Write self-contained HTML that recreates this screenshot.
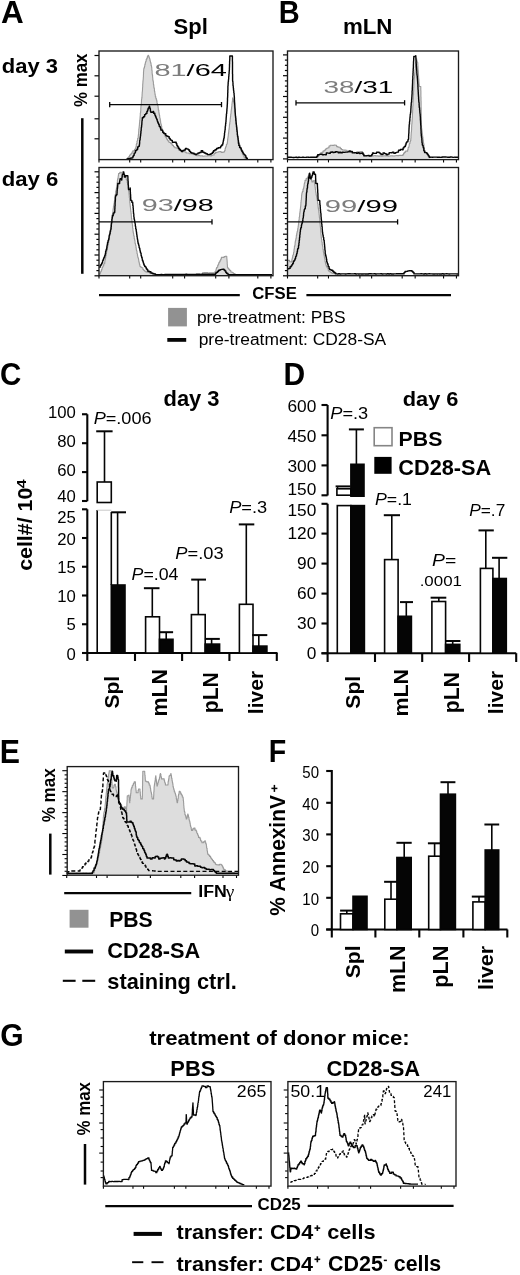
<!DOCTYPE html>
<html><head><meta charset="utf-8"><style>
html,body{margin:0;padding:0;background:#fff;}
body{width:520px;height:1275px;overflow:hidden;}
svg{display:block;filter:grayscale(1);font-family:"Liberation Sans",sans-serif;font-kerning:none;}
</style></head><body>
<svg width="520" height="1275" viewBox="0 0 520 1275">
<rect width="520" height="1275" fill="#fff"/>
<text transform="translate(0.92,22.50) scale(1.0135,1)" font-size="31.03" fill="#000" ><tspan font-weight="bold">A</tspan></text>
<text transform="translate(278.66,22.50) scale(0.9352,1)" font-size="31.03" fill="#000" ><tspan font-weight="bold">B</tspan></text>
<text transform="translate(173.56,34.33) scale(1.0224,1)" font-size="21.56" fill="#000" ><tspan font-weight="bold">Spl</tspan></text>
<text transform="translate(342.93,33.50) scale(0.9902,1)" font-size="22.53" fill="#000" ><tspan font-weight="bold">mLN</tspan></text>
<text transform="translate(1.85,72.90) scale(1.0614,1)" font-size="20.71" fill="#000" ><tspan font-weight="bold">day 3</tspan></text>
<text transform="translate(1.79,186.44) scale(1.0528,1)" font-size="21.03" fill="#000" ><tspan font-weight="bold">day 6</tspan></text>
<text transform="translate(86.72,106.92) rotate(-90) scale(0.8999,1)" font-size="18.71" fill="#000" ><tspan font-weight="bold">% max</tspan></text>
<path d="M126.9,158.8 L126.9,158.5 L127.8,158.5 L127.8,157.6 L128.6,157.6 L128.6,156.7 L129.5,156.7 L129.5,155.3 L130.3,155.3 L130.3,154.3 L131.2,154.3 L131.2,153.5 L132.0,153.5 L132.0,152.0 L132.8,152.0 L132.8,150.9 L133.7,150.9 L133.7,150.8 L134.6,150.8 L134.6,149.3 L135.4,149.3 L135.4,148.5 L135.7,148.5 L135.7,147.5 L136.0,147.5 L136.0,146.4 L136.3,146.4 L136.3,144.3 L136.6,144.3 L136.6,143.4 L137.0,143.4 L137.0,141.0 L137.3,141.0 L137.3,140.8 L137.6,140.8 L137.6,138.4 L137.9,138.4 L137.9,138.0 L138.2,138.0 L138.2,136.2 L138.3,136.2 L138.3,134.9 L138.5,134.9 L138.5,134.2 L138.6,134.2 L138.6,132.5 L138.7,132.5 L138.7,130.9 L138.8,130.9 L138.8,129.1 L139.0,129.1 L139.0,127.7 L139.1,127.7 L139.1,127.4 L139.2,127.4 L139.2,125.7 L139.4,125.7 L139.4,123.9 L139.5,123.9 L139.5,122.7 L139.6,122.7 L139.6,121.8 L139.7,121.8 L139.7,120.3 L139.9,120.3 L139.9,119.1 L140.0,119.1 L140.0,117.7 L140.1,117.7 L140.1,116.5 L140.2,116.5 L140.2,115.6 L140.3,115.6 L140.3,113.1 L140.5,113.1 L140.5,113.0 L140.6,113.0 L140.6,111.4 L140.7,111.4 L140.7,110.5 L140.8,110.5 L140.8,108.1 L140.9,108.1 L140.9,106.6 L141.0,106.6 L141.0,105.6 L141.2,105.6 L141.2,104.2 L141.3,104.2 L141.3,103.4 L141.4,103.4 L141.4,101.7 L141.5,101.7 L141.5,100.0 L141.6,100.0 L141.6,99.0 L141.7,99.0 L141.7,98.7 L141.8,98.7 L141.8,97.4 L142.0,97.4 L142.0,95.7 L142.1,95.7 L142.1,93.8 L142.2,93.8 L142.2,92.3 L142.3,92.3 L142.3,91.5 L142.4,91.5 L142.4,90.6 L142.5,90.6 L142.5,88.3 L142.6,88.3 L142.6,87.1 L142.7,87.1 L142.7,86.2 L142.7,86.2 L142.7,84.3 L142.8,84.3 L142.8,83.3 L142.9,83.3 L142.9,81.4 L143.0,81.4 L143.0,80.5 L143.1,80.5 L143.1,79.7 L143.2,79.7 L143.2,78.5 L143.3,78.5 L143.3,77.1 L143.4,77.1 L143.4,75.5 L143.4,75.5 L143.4,74.6 L143.5,74.6 L143.5,72.0 L143.6,72.0 L143.6,70.8 L143.7,70.8 L143.7,69.5 L143.8,69.5 L143.8,68.5 L144.1,68.5 L144.1,67.6 L144.5,67.6 L144.5,66.3 L144.8,66.3 L144.8,64.6 L145.2,64.6 L145.2,63.0 L145.5,63.0 L145.5,61.7 L145.9,61.7 L145.9,61.1 L146.2,61.1 L146.2,59.2 L146.8,59.2 L146.8,58.1 L147.4,58.1 L147.4,56.3 L148.0,56.3 L148.0,55.4 L148.5,55.4 L148.5,56.1 L149.0,56.1 L149.0,57.5 L149.5,57.5 L149.5,58.8 L150.0,58.8 L150.0,60.8 L150.4,60.8 L150.4,62.2 L150.8,62.2 L150.8,63.6 L151.1,63.6 L151.1,65.6 L151.5,65.6 L151.5,66.9 L151.7,66.9 L151.7,67.6 L151.8,67.6 L151.8,69.5 L151.9,69.5 L151.9,70.6 L152.1,70.6 L152.1,73.0 L152.2,73.0 L152.2,74.3 L152.4,74.3 L152.4,75.3 L152.6,75.3 L152.6,77.3 L152.7,77.3 L152.7,77.7 L152.8,77.7 L152.8,79.9 L153.0,79.9 L153.0,80.8 L153.2,80.8 L153.2,81.8 L153.4,81.8 L153.4,84.2 L153.6,84.2 L153.6,84.9 L153.8,84.9 L153.8,86.9 L154.0,86.9 L154.0,87.9 L154.2,87.9 L154.2,88.6 L154.4,88.6 L154.4,90.9 L154.6,90.9 L154.6,91.5 L154.8,91.5 L154.8,93.1 L155.0,93.1 L155.0,94.6 L155.3,94.6 L155.3,96.2 L155.7,96.2 L155.7,97.9 L156.0,97.9 L156.0,98.2 L156.3,98.2 L156.3,99.8 L156.7,99.8 L156.7,100.9 L157.0,100.9 L157.0,103.3 L157.4,103.3 L157.4,104.3 L157.7,104.3 L157.7,105.4 L157.9,105.4 L157.9,106.0 L158.1,106.0 L158.1,107.7 L158.3,107.7 L158.3,109.9 L158.6,109.9 L158.6,110.0 L158.8,110.0 L158.8,112.0 L159.0,112.0 L159.0,113.2 L159.2,113.2 L159.2,114.6 L159.4,114.6 L159.4,115.5 L159.7,115.5 L159.7,117.7 L159.9,117.7 L159.9,118.1 L160.1,118.1 L160.1,119.3 L160.3,119.3 L160.3,120.7 L160.6,120.7 L160.6,122.7 L160.8,122.7 L160.8,123.8 L161.1,123.8 L161.1,124.8 L161.4,124.8 L161.4,126.1 L161.7,126.1 L161.7,128.3 L162.1,128.3 L162.1,129.3 L162.4,129.3 L162.4,130.8 L162.7,130.8 L162.7,131.2 L163.0,131.2 L163.0,133.0 L163.7,133.0 L163.7,133.6 L164.3,133.6 L164.3,134.6 L165.0,134.6 L165.0,136.3 L165.7,136.3 L165.7,137.2 L166.4,137.2 L166.4,138.6 L167.0,138.6 L167.0,139.6 L167.7,139.6 L167.7,140.8 L168.6,140.8 L168.6,142.0 L169.5,142.0 L169.5,142.5 L170.5,142.5 L170.5,143.2 L171.4,143.2 L171.4,143.9 L172.3,143.9 L172.3,145.4 L173.5,145.4 L173.5,146.8 L174.8,146.8 L174.8,147.8 L176.0,147.8 L176.0,147.9 L177.3,147.9 L177.3,148.5 L178.5,148.5 L178.5,150.0 L179.8,150.0 L179.8,150.4 L181.1,150.4 L181.1,150.9 L182.3,150.9 L182.3,151.7 L183.6,151.7 L183.6,151.5 L184.9,151.5 L184.9,152.1 L186.2,152.1 L186.2,153.0 L187.7,153.0 L187.7,153.0 L189.2,153.0 L189.2,153.7 L190.8,153.7 L190.8,153.6 L192.3,153.6 L192.3,154.2 L193.8,154.2 L193.8,154.6 L195.4,154.6 L195.4,155.1 L196.9,155.1 L196.9,155.7 L198.4,155.7 L198.4,155.4 L200.0,155.4 L200.0,156.0 L201.3,156.0 L201.3,155.8 L202.6,155.8 L202.6,156.2 L203.9,156.2 L203.9,156.0 L205.2,156.0 L205.2,156.0 L206.5,156.0 L206.5,156.0 L207.8,156.0 L207.8,155.8 L209.1,155.8 L209.1,155.7 L210.4,155.7 L210.4,156.0 L211.6,156.0 L211.6,155.1 L212.8,155.1 L212.8,155.0 L214.1,155.0 L214.1,153.5 L215.3,153.5 L215.3,152.6 L216.5,152.6 L216.5,152.3 L218.0,152.3 L218.0,151.7 L219.6,151.7 L219.6,151.5 L221.1,151.5 L221.1,152.4 L222.7,152.4 L222.7,152.1 L224.2,152.1 L224.2,151.5 L224.6,151.5 L224.6,150.5 L225.1,150.5 L225.1,148.5 L225.5,148.5 L225.5,147.1 L226.0,147.1 L226.0,146.1 L226.4,146.1 L226.4,144.3 L226.9,144.3 L226.9,143.7 L227.3,143.7 L227.3,142.3 L227.5,142.3 L227.5,141.1 L227.6,141.1 L227.6,139.4 L227.8,139.4 L227.8,138.0 L228.0,138.0 L228.0,137.0 L228.1,137.0 L228.1,136.0 L228.3,136.0 L228.3,134.3 L228.4,134.3 L228.4,133.5 L228.6,133.5 L228.6,132.1 L228.8,132.1 L228.8,130.2 L228.9,130.2 L228.9,129.6 L229.1,129.6 L229.1,128.0 L229.3,128.0 L229.3,126.6 L229.4,126.6 L229.4,124.7 L229.6,124.7 L229.6,123.8 L229.8,123.8 L229.8,122.2 L229.9,122.2 L229.9,121.8 L230.1,121.8 L230.1,120.0 L230.2,120.0 L230.2,118.5 L230.4,118.5 L230.4,117.1 L230.5,117.1 L230.5,116.3 L230.7,116.3 L230.7,114.4 L230.8,114.4 L230.8,113.8 L231.0,113.8 L231.0,112.4 L231.1,112.4 L231.1,110.9 L231.3,110.9 L231.3,109.6 L231.4,109.6 L231.4,108.9 L231.6,108.9 L231.6,106.9 L231.8,106.9 L231.8,106.3 L231.9,106.3 L231.9,104.0 L232.1,104.0 L232.1,102.7 L232.2,102.7 L232.2,101.7 L232.4,101.7 L232.4,100.8 L232.5,100.8 L232.5,98.4 L232.7,98.4 L232.7,97.7 L232.9,97.7 L232.9,99.0 L233.2,99.0 L233.2,100.4 L233.4,100.4 L233.4,101.6 L233.7,101.6 L233.7,102.6 L233.9,102.6 L233.9,103.5 L234.2,103.5 L234.2,105.4 L234.4,105.4 L234.4,107.2 L234.5,107.2 L234.5,107.5 L234.7,107.5 L234.7,108.9 L234.8,108.9 L234.8,110.5 L235.0,110.5 L235.0,112.2 L235.2,112.2 L235.2,113.5 L235.3,113.5 L235.3,115.1 L235.5,115.1 L235.5,116.2 L235.6,116.2 L235.6,117.3 L235.8,117.3 L235.8,119.2 L236.0,119.2 L236.0,120.3 L236.1,120.3 L236.1,122.0 L236.3,122.0 L236.3,123.8 L236.4,123.8 L236.4,124.4 L236.6,124.4 L236.6,125.9 L236.7,125.9 L236.7,127.1 L236.9,127.1 L236.9,128.7 L237.0,128.7 L237.0,129.8 L237.2,129.8 L237.2,131.1 L237.3,131.1 L237.3,131.9 L237.5,131.9 L237.5,134.2 L237.6,134.2 L237.6,135.8 L237.8,135.8 L237.8,137.2 L237.9,137.2 L237.9,138.3 L238.1,138.3 L238.1,139.2 L238.4,139.2 L238.4,140.6 L238.8,140.6 L238.8,142.2 L239.1,142.2 L239.1,142.7 L239.4,142.7 L239.4,144.2 L239.7,144.2 L239.7,145.7 L240.1,145.7 L240.1,147.0 L240.4,147.0 L240.4,148.5 L240.9,148.5 L240.9,149.6 L241.5,149.6 L241.5,151.4 L242.0,151.4 L242.0,153.0 L242.6,153.0 L242.6,153.9 L243.1,153.9 L243.1,155.0 L243.7,155.0 L243.7,156.3 L244.2,156.3 L244.2,157.7 L245.3,157.7 L245.3,158.5 L246.5,158.5 L246.5,159.3 L246.5,158.8" fill="#dddddd" stroke="none" stroke-width="1.5" stroke-linejoin="round"/>
<path d="M126.9,158.5 L127.8,158.5 L127.8,157.6 L128.6,157.6 L128.6,156.7 L129.5,156.7 L129.5,155.3 L130.3,155.3 L130.3,154.3 L131.2,154.3 L131.2,153.5 L132.0,153.5 L132.0,152.0 L132.8,152.0 L132.8,150.9 L133.7,150.9 L133.7,150.8 L134.6,150.8 L134.6,149.3 L135.4,149.3 L135.4,148.5 L135.7,148.5 L135.7,147.5 L136.0,147.5 L136.0,146.4 L136.3,146.4 L136.3,144.3 L136.6,144.3 L136.6,143.4 L137.0,143.4 L137.0,141.0 L137.3,141.0 L137.3,140.8 L137.6,140.8 L137.6,138.4 L137.9,138.4 L137.9,138.0 L138.2,138.0 L138.2,136.2 L138.3,136.2 L138.3,134.9 L138.5,134.9 L138.5,134.2 L138.6,134.2 L138.6,132.5 L138.7,132.5 L138.7,130.9 L138.8,130.9 L138.8,129.1 L139.0,129.1 L139.0,127.7 L139.1,127.7 L139.1,127.4 L139.2,127.4 L139.2,125.7 L139.4,125.7 L139.4,123.9 L139.5,123.9 L139.5,122.7 L139.6,122.7 L139.6,121.8 L139.7,121.8 L139.7,120.3 L139.9,120.3 L139.9,119.1 L140.0,119.1 L140.0,117.7 L140.1,117.7 L140.1,116.5 L140.2,116.5 L140.2,115.6 L140.3,115.6 L140.3,113.1 L140.5,113.1 L140.5,113.0 L140.6,113.0 L140.6,111.4 L140.7,111.4 L140.7,110.5 L140.8,110.5 L140.8,108.1 L140.9,108.1 L140.9,106.6 L141.0,106.6 L141.0,105.6 L141.2,105.6 L141.2,104.2 L141.3,104.2 L141.3,103.4 L141.4,103.4 L141.4,101.7 L141.5,101.7 L141.5,100.0 L141.6,100.0 L141.6,99.0 L141.7,99.0 L141.7,98.7 L141.8,98.7 L141.8,97.4 L142.0,97.4 L142.0,95.7 L142.1,95.7 L142.1,93.8 L142.2,93.8 L142.2,92.3 L142.3,92.3 L142.3,91.5 L142.4,91.5 L142.4,90.6 L142.5,90.6 L142.5,88.3 L142.6,88.3 L142.6,87.1 L142.7,87.1 L142.7,86.2 L142.7,86.2 L142.7,84.3 L142.8,84.3 L142.8,83.3 L142.9,83.3 L142.9,81.4 L143.0,81.4 L143.0,80.5 L143.1,80.5 L143.1,79.7 L143.2,79.7 L143.2,78.5 L143.3,78.5 L143.3,77.1 L143.4,77.1 L143.4,75.5 L143.4,75.5 L143.4,74.6 L143.5,74.6 L143.5,72.0 L143.6,72.0 L143.6,70.8 L143.7,70.8 L143.7,69.5 L143.8,69.5 L143.8,68.5 L144.1,68.5 L144.1,67.6 L144.5,67.6 L144.5,66.3 L144.8,66.3 L144.8,64.6 L145.2,64.6 L145.2,63.0 L145.5,63.0 L145.5,61.7 L145.9,61.7 L145.9,61.1 L146.2,61.1 L146.2,59.2 L146.8,59.2 L146.8,58.1 L147.4,58.1 L147.4,56.3 L148.0,56.3 L148.0,55.4 L148.5,55.4 L148.5,56.1 L149.0,56.1 L149.0,57.5 L149.5,57.5 L149.5,58.8 L150.0,58.8 L150.0,60.8 L150.4,60.8 L150.4,62.2 L150.8,62.2 L150.8,63.6 L151.1,63.6 L151.1,65.6 L151.5,65.6 L151.5,66.9 L151.7,66.9 L151.7,67.6 L151.8,67.6 L151.8,69.5 L151.9,69.5 L151.9,70.6 L152.1,70.6 L152.1,73.0 L152.2,73.0 L152.2,74.3 L152.4,74.3 L152.4,75.3 L152.6,75.3 L152.6,77.3 L152.7,77.3 L152.7,77.7 L152.8,77.7 L152.8,79.9 L153.0,79.9 L153.0,80.8 L153.2,80.8 L153.2,81.8 L153.4,81.8 L153.4,84.2 L153.6,84.2 L153.6,84.9 L153.8,84.9 L153.8,86.9 L154.0,86.9 L154.0,87.9 L154.2,87.9 L154.2,88.6 L154.4,88.6 L154.4,90.9 L154.6,90.9 L154.6,91.5 L154.8,91.5 L154.8,93.1 L155.0,93.1 L155.0,94.6 L155.3,94.6 L155.3,96.2 L155.7,96.2 L155.7,97.9 L156.0,97.9 L156.0,98.2 L156.3,98.2 L156.3,99.8 L156.7,99.8 L156.7,100.9 L157.0,100.9 L157.0,103.3 L157.4,103.3 L157.4,104.3 L157.7,104.3 L157.7,105.4 L157.9,105.4 L157.9,106.0 L158.1,106.0 L158.1,107.7 L158.3,107.7 L158.3,109.9 L158.6,109.9 L158.6,110.0 L158.8,110.0 L158.8,112.0 L159.0,112.0 L159.0,113.2 L159.2,113.2 L159.2,114.6 L159.4,114.6 L159.4,115.5 L159.7,115.5 L159.7,117.7 L159.9,117.7 L159.9,118.1 L160.1,118.1 L160.1,119.3 L160.3,119.3 L160.3,120.7 L160.6,120.7 L160.6,122.7 L160.8,122.7 L160.8,123.8 L161.1,123.8 L161.1,124.8 L161.4,124.8 L161.4,126.1 L161.7,126.1 L161.7,128.3 L162.1,128.3 L162.1,129.3 L162.4,129.3 L162.4,130.8 L162.7,130.8 L162.7,131.2 L163.0,131.2 L163.0,133.0 L163.7,133.0 L163.7,133.6 L164.3,133.6 L164.3,134.6 L165.0,134.6 L165.0,136.3 L165.7,136.3 L165.7,137.2 L166.4,137.2 L166.4,138.6 L167.0,138.6 L167.0,139.6 L167.7,139.6 L167.7,140.8 L168.6,140.8 L168.6,142.0 L169.5,142.0 L169.5,142.5 L170.5,142.5 L170.5,143.2 L171.4,143.2 L171.4,143.9 L172.3,143.9 L172.3,145.4 L173.5,145.4 L173.5,146.8 L174.8,146.8 L174.8,147.8 L176.0,147.8 L176.0,147.9 L177.3,147.9 L177.3,148.5 L178.5,148.5 L178.5,150.0 L179.8,150.0 L179.8,150.4 L181.1,150.4 L181.1,150.9 L182.3,150.9 L182.3,151.7 L183.6,151.7 L183.6,151.5 L184.9,151.5 L184.9,152.1 L186.2,152.1 L186.2,153.0 L187.7,153.0 L187.7,153.0 L189.2,153.0 L189.2,153.7 L190.8,153.7 L190.8,153.6 L192.3,153.6 L192.3,154.2 L193.8,154.2 L193.8,154.6 L195.4,154.6 L195.4,155.1 L196.9,155.1 L196.9,155.7 L198.4,155.7 L198.4,155.4 L200.0,155.4 L200.0,156.0 L201.3,156.0 L201.3,155.8 L202.6,155.8 L202.6,156.2 L203.9,156.2 L203.9,156.0 L205.2,156.0 L205.2,156.0 L206.5,156.0 L206.5,156.0 L207.8,156.0 L207.8,155.8 L209.1,155.8 L209.1,155.7 L210.4,155.7 L210.4,156.0 L211.6,156.0 L211.6,155.1 L212.8,155.1 L212.8,155.0 L214.1,155.0 L214.1,153.5 L215.3,153.5 L215.3,152.6 L216.5,152.6 L216.5,152.3 L218.0,152.3 L218.0,151.7 L219.6,151.7 L219.6,151.5 L221.1,151.5 L221.1,152.4 L222.7,152.4 L222.7,152.1 L224.2,152.1 L224.2,151.5 L224.6,151.5 L224.6,150.5 L225.1,150.5 L225.1,148.5 L225.5,148.5 L225.5,147.1 L226.0,147.1 L226.0,146.1 L226.4,146.1 L226.4,144.3 L226.9,144.3 L226.9,143.7 L227.3,143.7 L227.3,142.3 L227.5,142.3 L227.5,141.1 L227.6,141.1 L227.6,139.4 L227.8,139.4 L227.8,138.0 L228.0,138.0 L228.0,137.0 L228.1,137.0 L228.1,136.0 L228.3,136.0 L228.3,134.3 L228.4,134.3 L228.4,133.5 L228.6,133.5 L228.6,132.1 L228.8,132.1 L228.8,130.2 L228.9,130.2 L228.9,129.6 L229.1,129.6 L229.1,128.0 L229.3,128.0 L229.3,126.6 L229.4,126.6 L229.4,124.7 L229.6,124.7 L229.6,123.8 L229.8,123.8 L229.8,122.2 L229.9,122.2 L229.9,121.8 L230.1,121.8 L230.1,120.0 L230.2,120.0 L230.2,118.5 L230.4,118.5 L230.4,117.1 L230.5,117.1 L230.5,116.3 L230.7,116.3 L230.7,114.4 L230.8,114.4 L230.8,113.8 L231.0,113.8 L231.0,112.4 L231.1,112.4 L231.1,110.9 L231.3,110.9 L231.3,109.6 L231.4,109.6 L231.4,108.9 L231.6,108.9 L231.6,106.9 L231.8,106.9 L231.8,106.3 L231.9,106.3 L231.9,104.0 L232.1,104.0 L232.1,102.7 L232.2,102.7 L232.2,101.7 L232.4,101.7 L232.4,100.8 L232.5,100.8 L232.5,98.4 L232.7,98.4 L232.7,97.7 L232.9,97.7 L232.9,99.0 L233.2,99.0 L233.2,100.4 L233.4,100.4 L233.4,101.6 L233.7,101.6 L233.7,102.6 L233.9,102.6 L233.9,103.5 L234.2,103.5 L234.2,105.4 L234.4,105.4 L234.4,107.2 L234.5,107.2 L234.5,107.5 L234.7,107.5 L234.7,108.9 L234.8,108.9 L234.8,110.5 L235.0,110.5 L235.0,112.2 L235.2,112.2 L235.2,113.5 L235.3,113.5 L235.3,115.1 L235.5,115.1 L235.5,116.2 L235.6,116.2 L235.6,117.3 L235.8,117.3 L235.8,119.2 L236.0,119.2 L236.0,120.3 L236.1,120.3 L236.1,122.0 L236.3,122.0 L236.3,123.8 L236.4,123.8 L236.4,124.4 L236.6,124.4 L236.6,125.9 L236.7,125.9 L236.7,127.1 L236.9,127.1 L236.9,128.7 L237.0,128.7 L237.0,129.8 L237.2,129.8 L237.2,131.1 L237.3,131.1 L237.3,131.9 L237.5,131.9 L237.5,134.2 L237.6,134.2 L237.6,135.8 L237.8,135.8 L237.8,137.2 L237.9,137.2 L237.9,138.3 L238.1,138.3 L238.1,139.2 L238.4,139.2 L238.4,140.6 L238.8,140.6 L238.8,142.2 L239.1,142.2 L239.1,142.7 L239.4,142.7 L239.4,144.2 L239.7,144.2 L239.7,145.7 L240.1,145.7 L240.1,147.0 L240.4,147.0 L240.4,148.5 L240.9,148.5 L240.9,149.6 L241.5,149.6 L241.5,151.4 L242.0,151.4 L242.0,153.0 L242.6,153.0 L242.6,153.9 L243.1,153.9 L243.1,155.0 L243.7,155.0 L243.7,156.3 L244.2,156.3 L244.2,157.7 L245.3,157.7 L245.3,158.5 L246.5,158.5 L246.5,159.3" fill="none" stroke="#9a9a9a" stroke-width="1.1" stroke-linejoin="round"/>
<path d="M126.2,159.3 L127.7,159.3 L127.7,158.8 L129.2,158.8 L129.2,158.5 L130.8,158.5 L130.8,158.0 L132.3,158.0 L132.3,157.7 L132.9,157.7 L132.9,156.2 L133.5,156.2 L133.5,155.3 L134.2,155.3 L134.2,153.1 L134.8,153.1 L134.8,152.9 L135.4,152.9 L135.4,150.8 L136.2,150.8 L136.2,150.3 L136.9,150.3 L136.9,149.3 L137.7,149.3 L137.7,146.9 L138.4,146.9 L138.4,146.4 L139.2,146.4 L139.2,145.4 L139.4,145.4 L139.4,144.3 L139.6,144.3 L139.6,142.4 L139.7,142.4 L139.7,140.6 L139.9,140.6 L139.9,140.0 L140.1,140.0 L140.1,137.9 L140.3,137.9 L140.3,137.1 L140.4,137.1 L140.4,136.0 L140.6,136.0 L140.6,134.3 L140.8,134.3 L140.8,133.0 L140.9,133.0 L140.9,131.2 L141.1,131.2 L141.1,130.5 L141.2,130.5 L141.2,128.8 L141.3,128.8 L141.3,127.5 L141.5,127.5 L141.5,126.7 L141.6,126.7 L141.6,125.2 L141.8,125.2 L141.8,123.4 L141.9,123.4 L141.9,122.0 L142.0,122.0 L142.0,120.7 L142.2,120.7 L142.2,119.6 L142.3,119.6 L142.3,117.7 L143.4,117.7 L143.4,116.8 L144.6,116.8 L144.6,114.6 L145.8,114.6 L145.8,113.4 L146.9,113.4 L146.9,111.5 L147.5,111.5 L147.5,110.0 L148.1,110.0 L148.1,108.2 L148.6,108.2 L148.6,107.7 L149.2,107.7 L149.2,106.2 L149.6,106.2 L149.6,107.7 L150.0,107.7 L150.0,108.8 L150.4,108.8 L150.4,111.2 L150.8,111.2 L150.8,112.3 L153.0,112.3 L153.0,111.5 L153.6,111.5 L153.6,113.3 L154.2,113.3 L154.2,113.3 L154.8,113.3 L154.8,115.1 L155.4,115.1 L155.4,116.2 L155.9,116.2 L155.9,117.6 L156.3,117.6 L156.3,118.6 L156.8,118.6 L156.8,119.5 L157.2,119.5 L157.2,121.1 L157.7,121.1 L157.7,122.3 L158.2,122.3 L158.2,123.5 L158.7,123.5 L158.7,124.4 L159.2,124.4 L159.2,126.2 L159.8,126.2 L159.8,126.8 L160.3,126.8 L160.3,128.0 L160.8,128.0 L160.8,130.0 L161.8,130.0 L161.8,130.3 L162.7,130.3 L162.7,132.3 L163.7,132.3 L163.7,133.3 L164.6,133.3 L164.6,133.8 L165.8,133.8 L165.8,135.6 L166.9,135.6 L166.9,136.2 L168.1,136.2 L168.1,136.8 L169.2,136.8 L169.2,138.5 L170.2,138.5 L170.2,139.9 L171.3,139.9 L171.3,140.4 L172.3,140.4 L172.3,142.3 L173.9,142.3 L173.9,142.3 L175.4,142.3 L175.4,142.3 L176.2,142.3 L176.2,143.8 L176.9,143.8 L176.9,145.7 L177.7,145.7 L177.7,146.9 L178.6,146.9 L178.6,148.5 L179.6,148.5 L179.6,149.7 L180.6,149.7 L180.6,150.6 L181.5,150.6 L181.5,151.5 L182.8,151.5 L182.8,150.4 L184.1,150.4 L184.1,150.0 L185.4,150.0 L185.4,148.5 L186.9,148.5 L186.9,149.1 L188.5,149.1 L188.5,150.0 L189.5,150.0 L189.5,151.4 L190.5,151.4 L190.5,152.5 L191.5,152.5 L191.5,153.0 L192.8,153.0 L192.8,153.2 L194.1,153.2 L194.1,154.0 L195.4,154.0 L195.4,154.6 L196.7,154.6 L196.7,153.9 L198.0,153.9 L198.0,153.0 L199.6,153.0 L199.6,152.5 L201.2,152.5 L201.2,150.8 L202.7,150.8 L202.7,152.3 L204.2,152.3 L204.2,153.0 L205.8,153.0 L205.8,153.8 L207.3,153.8 L207.3,154.6 L208.9,154.6 L208.9,154.5 L210.4,154.5 L210.4,154.0 L211.4,154.0 L211.4,153.4 L212.5,153.4 L212.5,152.3 L213.5,152.3 L213.5,150.8 L215.0,150.8 L215.0,149.7 L216.5,149.7 L216.5,148.5 L218.1,148.5 L218.1,147.7 L219.6,147.7 L219.6,147.7 L220.6,147.7 L220.6,146.1 L221.7,146.1 L221.7,145.0 L222.7,145.0 L222.7,143.8 L223.0,143.8 L223.0,142.1 L223.3,142.1 L223.3,140.6 L223.6,140.6 L223.6,138.9 L223.9,138.9 L223.9,138.0 L224.2,138.0 L224.2,136.2 L224.4,136.2 L224.4,134.9 L224.5,134.9 L224.5,133.1 L224.7,133.1 L224.7,131.9 L224.8,131.9 L224.8,131.3 L225.0,131.3 L225.0,129.7 L225.2,129.7 L225.2,127.4 L225.3,127.4 L225.3,126.2 L225.5,126.2 L225.5,125.5 L225.6,125.5 L225.6,123.7 L225.8,123.7 L225.8,122.3 L225.9,122.3 L225.9,121.7 L226.0,121.7 L226.0,120.1 L226.1,120.1 L226.1,118.4 L226.2,118.4 L226.2,117.3 L226.3,117.3 L226.3,115.9 L226.4,115.9 L226.4,114.0 L226.6,114.0 L226.6,113.5 L226.7,113.5 L226.7,111.9 L226.8,111.9 L226.8,110.7 L226.9,110.7 L226.9,109.2 L227.0,109.2 L227.0,108.2 L227.1,108.2 L227.1,106.9 L227.2,106.9 L227.2,105.2 L227.3,105.2 L227.3,103.8 L227.4,103.8 L227.4,103.0 L227.4,103.0 L227.4,101.5 L227.5,101.5 L227.5,99.4 L227.5,99.4 L227.5,97.9 L227.6,97.9 L227.6,96.6 L227.6,96.6 L227.6,96.6 L227.7,96.6 L227.7,95.1 L227.7,95.1 L227.7,93.0 L227.8,93.0 L227.8,91.8 L227.8,91.8 L227.8,90.4 L227.8,90.4 L227.8,89.9 L227.9,89.9 L227.9,87.4 L227.9,87.4 L227.9,86.2 L228.0,86.2 L228.0,85.4 L228.1,85.4 L228.1,83.8 L228.2,83.8 L228.2,82.0 L228.4,82.0 L228.4,80.6 L228.5,80.6 L228.5,79.8 L228.6,79.8 L228.6,78.8 L228.7,78.8 L228.7,76.8 L228.8,76.8 L228.8,76.2 L228.9,76.2 L228.9,74.3 L229.1,74.3 L229.1,72.2 L229.2,72.2 L229.2,70.9 L229.3,70.9 L229.3,70.0 L229.4,70.0 L229.4,68.3 L229.4,68.3 L229.4,67.5 L229.5,67.5 L229.5,66.2 L229.5,66.2 L229.5,64.3 L229.6,64.3 L229.6,63.5 L229.6,63.5 L229.6,61.2 L229.7,61.2 L229.7,60.1 L229.7,60.1 L229.7,59.4 L229.8,59.4 L229.8,57.8 L229.8,57.8 L229.8,56.0 L232.4,56.0 L232.4,56.0 L232.4,56.0 L232.4,57.0 L232.4,57.0 L232.4,58.6 L232.4,58.6 L232.4,59.6 L232.4,59.6 L232.4,61.6 L232.5,61.6 L232.5,62.1 L232.5,62.1 L232.5,63.6 L232.5,63.6 L232.5,65.8 L232.5,65.8 L232.5,66.4 L232.5,66.4 L232.5,67.5 L232.5,67.5 L232.5,69.7 L232.5,69.7 L232.5,70.9 L232.5,70.9 L232.5,71.3 L232.5,71.3 L232.5,73.2 L232.5,73.2 L232.5,74.0 L232.6,74.0 L232.6,76.1 L232.6,76.1 L232.6,76.6 L232.6,76.6 L232.6,77.8 L232.6,77.8 L232.6,79.9 L232.6,79.9 L232.6,80.8 L232.7,80.8 L232.7,81.6 L232.9,81.6 L232.9,83.1 L233.0,83.1 L233.0,85.6 L233.2,85.6 L233.2,86.7 L233.3,86.7 L233.3,88.3 L233.5,88.3 L233.5,89.8 L233.6,89.8 L233.6,91.0 L233.8,91.0 L233.8,92.7 L233.9,92.7 L233.9,93.3 L234.1,93.3 L234.1,95.0 L234.2,95.0 L234.2,96.2 L234.3,96.2 L234.3,97.3 L234.4,97.3 L234.4,99.1 L234.4,99.1 L234.4,100.2 L234.5,100.2 L234.5,101.7 L234.6,101.7 L234.6,103.2 L234.7,103.2 L234.7,104.7 L234.8,104.7 L234.8,105.2 L234.8,105.2 L234.8,106.5 L234.9,106.5 L234.9,108.3 L235.0,108.3 L235.0,109.2 L235.1,109.2 L235.1,110.1 L235.1,110.1 L235.1,111.7 L235.2,111.7 L235.2,113.2 L235.3,113.2 L235.3,114.6 L235.4,114.6 L235.4,116.3 L235.6,116.3 L235.6,118.0 L235.7,118.0 L235.7,118.3 L235.8,118.3 L235.8,120.6 L236.0,120.6 L236.0,121.9 L236.1,121.9 L236.1,123.4 L236.3,123.4 L236.3,124.7 L236.4,124.7 L236.4,125.4 L236.5,125.4 L236.5,127.0 L236.7,127.0 L236.7,128.0 L236.8,128.0 L236.8,130.0 L237.0,130.0 L237.0,131.6 L237.2,131.6 L237.2,132.6 L237.3,132.6 L237.3,134.8 L237.5,134.8 L237.5,136.2 L237.7,136.2 L237.7,136.4 L237.9,136.4 L237.9,137.9 L238.1,137.9 L238.1,140.2 L238.3,140.2 L238.3,141.4 L238.4,141.4 L238.4,143.2 L238.6,143.2 L238.6,143.6 L238.8,143.6 L238.8,145.4 L239.6,145.4 L239.6,147.5 L240.4,147.5 L240.4,148.0 L241.2,148.0 L241.2,150.0 L241.9,150.0 L241.9,151.3 L242.7,151.3 L242.7,152.6 L243.4,152.6 L243.4,153.9 L244.2,153.9 L244.2,154.6 L245.0,154.6 L245.0,155.6 L245.8,155.6 L245.8,157.2 L246.5,157.2 L246.5,158.2 L247.3,158.2 L247.3,159.3" fill="none" stroke="#050505" stroke-width="1.4" stroke-linejoin="round"/>
<line x1="94.5" y1="55.5" x2="99" y2="55.5" stroke="#050505" stroke-width="1.2" />
<line x1="94.5" y1="75.8" x2="99" y2="75.8" stroke="#050505" stroke-width="1.2" />
<line x1="94.5" y1="96.2" x2="99" y2="96.2" stroke="#050505" stroke-width="1.2" />
<line x1="94.5" y1="118.8" x2="99" y2="118.8" stroke="#050505" stroke-width="1.2" />
<line x1="94.5" y1="138.8" x2="99" y2="138.8" stroke="#050505" stroke-width="1.2" />
<line x1="99.0" y1="159.6" x2="99.0" y2="162.4" stroke="#050505" stroke-width="1.1" />
<line x1="129.7" y1="159.6" x2="129.7" y2="162.4" stroke="#050505" stroke-width="1.1" />
<line x1="140.7" y1="159.6" x2="140.7" y2="162.4" stroke="#050505" stroke-width="1.1" />
<line x1="172.7" y1="159.6" x2="172.7" y2="162.4" stroke="#050505" stroke-width="1.1" />
<line x1="184.6" y1="159.6" x2="184.6" y2="162.4" stroke="#050505" stroke-width="1.1" />
<line x1="215.7" y1="159.6" x2="215.7" y2="162.4" stroke="#050505" stroke-width="1.1" />
<line x1="228.9" y1="159.6" x2="228.9" y2="162.4" stroke="#050505" stroke-width="1.1" />
<line x1="257.8" y1="159.6" x2="257.8" y2="162.4" stroke="#050505" stroke-width="1.1" />
<line x1="270.9" y1="159.6" x2="270.9" y2="162.4" stroke="#050505" stroke-width="1.1" />
<rect x="99" y="51" width="174" height="108.6" fill="none" stroke="#1a1a1a" stroke-width="1.35"/>
<path d="M99.5,274.9 L99.5,274.2 L100.0,274.2 L100.0,273.2 L100.5,273.2 L100.5,271.8 L101.1,271.8 L101.1,270.7 L101.6,270.7 L101.6,269.2 L102.1,269.2 L102.1,267.6 L102.6,267.6 L102.6,266.7 L103.1,266.7 L103.1,265.7 L103.7,265.7 L103.7,263.7 L104.2,263.7 L104.2,263.8 L104.7,263.8 L104.7,261.9 L104.9,261.9 L104.9,260.0 L105.2,260.0 L105.2,259.7 L105.4,259.7 L105.4,258.1 L105.7,258.1 L105.7,256.1 L105.9,256.1 L105.9,255.5 L106.2,255.5 L106.2,253.9 L106.4,253.9 L106.4,252.4 L106.6,252.4 L106.6,251.0 L106.9,251.0 L106.9,250.8 L107.1,250.8 L107.1,249.2 L107.4,249.2 L107.4,247.2 L107.6,247.2 L107.6,246.5 L107.8,246.5 L107.8,245.3 L108.1,245.3 L108.1,243.8 L108.3,243.8 L108.3,242.7 L108.6,242.7 L108.6,241.2 L108.8,241.2 L108.8,239.6 L109.1,239.6 L109.1,238.9 L109.3,238.9 L109.3,237.3 L109.5,237.3 L109.5,235.8 L109.7,235.8 L109.7,233.9 L109.8,233.9 L109.8,233.8 L110.0,233.8 L110.0,232.0 L110.2,232.0 L110.2,230.4 L110.4,230.4 L110.4,228.6 L110.6,228.6 L110.6,228.3 L110.8,228.3 L110.8,227.1 L110.9,227.1 L110.9,225.1 L111.1,225.1 L111.1,223.3 L111.3,223.3 L111.3,222.8 L111.5,222.8 L111.5,220.8 L111.7,220.8 L111.7,219.9 L111.9,219.9 L111.9,218.8 L112.0,218.8 L112.0,217.4 L112.2,217.4 L112.2,215.1 L112.4,215.1 L112.4,214.2 L112.6,214.2 L112.6,212.6 L112.8,212.6 L112.8,211.9 L113.0,211.9 L113.0,209.5 L113.2,209.5 L113.2,208.2 L113.4,208.2 L113.4,206.5 L113.7,206.5 L113.7,205.2 L113.9,205.2 L113.9,203.8 L114.1,203.8 L114.1,203.5 L114.3,203.5 L114.3,201.5 L114.5,201.5 L114.5,200.3 L114.7,200.3 L114.7,198.8 L114.9,198.8 L114.9,197.0 L115.1,197.0 L115.1,196.6 L115.3,196.6 L115.3,194.2 L115.5,194.2 L115.5,193.6 L115.7,193.6 L115.7,191.1 L116.0,191.1 L116.0,190.6 L116.2,190.6 L116.2,189.3 L116.4,189.3 L116.4,187.7 L116.6,187.7 L116.6,186.8 L116.8,186.8 L116.8,185.2 L117.0,185.2 L117.0,183.5 L117.2,183.5 L117.2,182.2 L117.4,182.2 L117.4,180.1 L117.6,180.1 L117.6,178.9 L117.9,178.9 L117.9,178.4 L118.1,178.4 L118.1,176.7 L118.3,176.7 L118.3,175.6 L118.5,175.6 L118.5,173.5 L119.8,173.5 L119.8,172.3 L121.1,172.3 L121.1,172.9 L122.4,172.9 L122.4,171.9 L123.2,171.9 L123.2,173.7 L123.9,173.7 L123.9,174.3 L124.7,174.3 L124.7,176.0 L125.5,176.0 L125.5,176.9 L126.2,176.9 L126.2,179.6 L127.0,179.6 L127.0,180.4 L127.2,180.4 L127.2,182.5 L127.5,182.5 L127.5,183.3 L127.8,183.3 L127.8,184.7 L128.0,184.7 L128.0,185.6 L128.2,185.6 L128.2,187.1 L128.5,187.1 L128.5,189.0 L128.6,189.0 L128.6,190.9 L128.8,190.9 L128.8,191.6 L128.9,191.6 L128.9,192.9 L129.0,192.9 L129.0,194.3 L129.2,194.3 L129.2,195.7 L129.3,195.7 L129.3,197.5 L129.4,197.5 L129.4,197.8 L129.6,197.8 L129.6,199.9 L129.7,199.9 L129.7,201.0 L129.8,201.0 L129.8,202.7 L130.0,202.7 L130.0,203.9 L130.1,203.9 L130.1,205.0 L130.2,205.0 L130.2,206.3 L130.4,206.3 L130.4,207.7 L130.5,207.7 L130.5,208.8 L130.7,208.8 L130.7,210.4 L130.8,210.4 L130.8,211.6 L131.0,211.6 L131.0,213.2 L131.2,213.2 L131.2,214.6 L131.3,214.6 L131.3,216.0 L131.4,216.0 L131.4,218.0 L131.6,218.0 L131.6,218.8 L131.8,218.8 L131.8,220.0 L131.9,220.0 L131.9,221.7 L132.1,221.7 L132.1,223.6 L132.2,223.6 L132.2,223.8 L132.4,223.8 L132.4,225.5 L132.6,225.5 L132.6,227.7 L132.7,227.7 L132.7,228.2 L132.9,228.2 L132.9,230.1 L133.0,230.1 L133.0,231.2 L133.2,231.2 L133.2,232.7 L133.5,232.7 L133.5,233.8 L133.7,233.8 L133.7,235.6 L134.0,235.6 L134.0,236.2 L134.2,236.2 L134.2,238.5 L134.5,238.5 L134.5,239.0 L134.7,239.0 L134.7,240.6 L135.0,240.6 L135.0,242.9 L135.2,242.9 L135.2,243.5 L135.5,243.5 L135.5,245.0 L135.8,245.0 L135.8,245.8 L136.0,245.8 L136.0,247.7 L136.3,247.7 L136.3,249.7 L136.5,249.7 L136.5,250.6 L136.8,250.6 L136.8,251.2 L137.0,251.2 L137.0,253.6 L137.3,253.6 L137.3,254.0 L137.5,254.0 L137.5,255.9 L137.8,255.9 L137.8,257.3 L138.1,257.3 L138.1,258.1 L138.5,258.1 L138.5,259.7 L138.8,259.7 L138.8,261.5 L139.1,261.5 L139.1,262.7 L139.4,262.7 L139.4,264.2 L139.8,264.2 L139.8,265.8 L140.1,265.8 L140.1,266.5 L141.0,266.5 L141.0,267.5 L141.9,267.5 L141.9,267.8 L142.9,267.8 L142.9,269.5 L143.8,269.5 L143.8,270.5 L144.7,270.5 L144.7,271.2 L145.9,271.2 L145.9,271.9 L147.1,271.9 L147.1,272.2 L148.4,272.2 L148.4,272.4 L149.6,272.4 L149.6,273.1 L150.8,273.1 L150.8,273.5 L152.4,273.5 L152.4,273.9 L153.9,273.9 L153.9,274.2 L155.5,274.2 L155.5,274.6 L156.8,274.6 L156.8,274.6 L158.1,274.6 L158.1,274.6 L159.4,274.6 L159.4,274.6 L160.8,274.6 L160.8,274.6 L162.1,274.6 L162.1,274.6 L163.4,274.6 L163.4,274.6 L164.7,274.6 L164.7,274.6 L166.0,274.6 L166.0,274.6 L167.3,274.6 L167.3,274.6 L168.6,274.6 L168.6,274.6 L170.0,274.6 L170.0,274.6 L171.3,274.6 L171.3,274.6 L172.6,274.6 L172.6,274.6 L173.9,274.6 L173.9,274.6 L175.2,274.6 L175.2,274.6 L176.5,274.6 L176.5,274.6 L177.8,274.6 L177.8,274.6 L179.2,274.6 L179.2,274.6 L180.5,274.6 L180.5,274.6 L181.8,274.6 L181.8,274.6 L183.1,274.6 L183.1,274.6 L184.4,274.6 L184.4,274.6 L185.7,274.6 L185.7,274.6 L187.0,274.6 L187.0,274.6 L188.4,274.6 L188.4,274.6 L189.7,274.6 L189.7,274.6 L191.0,274.6 L191.0,274.6 L192.3,274.6 L192.3,274.6 L193.6,274.6 L193.6,274.6 L194.9,274.6 L194.9,274.6 L196.2,274.6 L196.2,274.6 L197.6,274.6 L197.6,274.6 L198.9,274.6 L198.9,274.6 L200.2,274.6 L200.2,274.6 L201.5,274.6 L201.5,274.6 L202.5,274.6 L202.5,272.7 L203.8,272.7 L203.8,272.6 L205.2,272.6 L205.2,272.6 L206.5,272.6 L206.5,272.5 L207.9,272.5 L207.9,273.0 L209.2,273.0 L209.2,272.7 L210.6,272.7 L210.6,272.8 L211.9,272.8 L211.9,272.9 L213.3,272.9 L213.3,272.8 L214.6,272.8 L214.6,272.7 L215.1,272.7 L215.1,271.4 L215.6,271.4 L215.6,270.7 L216.1,270.7 L216.1,268.8 L216.6,268.8 L216.6,267.5 L217.2,267.5 L217.2,267.0 L217.7,267.0 L217.7,265.2 L218.2,265.2 L218.2,264.2 L218.7,264.2 L218.7,262.7 L219.4,262.7 L219.4,261.7 L220.1,261.7 L220.1,260.3 L220.7,260.3 L220.7,259.0 L221.4,259.0 L221.4,257.3 L222.7,257.3 L222.7,257.5 L224.0,257.5 L224.0,256.6 L225.3,256.6 L225.3,256.3 L226.7,256.3 L226.7,256.6 L226.8,256.6 L226.8,258.3 L226.9,258.3 L226.9,259.3 L227.0,259.3 L227.0,260.4 L227.1,260.4 L227.1,261.7 L227.2,261.7 L227.2,264.0 L227.3,264.0 L227.3,264.8 L227.4,264.8 L227.4,266.5 L227.5,266.5 L227.5,268.0 L228.6,268.0 L228.6,269.3 L229.7,269.3 L229.7,270.5 L230.8,270.5 L230.8,272.0 L232.2,272.0 L232.2,272.8 L233.5,272.8 L233.5,273.5 L235.0,273.5 L235.0,274.6 L235.0,274.9" fill="#dddddd" stroke="none" stroke-width="1.5" stroke-linejoin="round"/>
<path d="M99.5,274.2 L100.0,274.2 L100.0,273.2 L100.5,273.2 L100.5,271.8 L101.1,271.8 L101.1,270.7 L101.6,270.7 L101.6,269.2 L102.1,269.2 L102.1,267.6 L102.6,267.6 L102.6,266.7 L103.1,266.7 L103.1,265.7 L103.7,265.7 L103.7,263.7 L104.2,263.7 L104.2,263.8 L104.7,263.8 L104.7,261.9 L104.9,261.9 L104.9,260.0 L105.2,260.0 L105.2,259.7 L105.4,259.7 L105.4,258.1 L105.7,258.1 L105.7,256.1 L105.9,256.1 L105.9,255.5 L106.2,255.5 L106.2,253.9 L106.4,253.9 L106.4,252.4 L106.6,252.4 L106.6,251.0 L106.9,251.0 L106.9,250.8 L107.1,250.8 L107.1,249.2 L107.4,249.2 L107.4,247.2 L107.6,247.2 L107.6,246.5 L107.8,246.5 L107.8,245.3 L108.1,245.3 L108.1,243.8 L108.3,243.8 L108.3,242.7 L108.6,242.7 L108.6,241.2 L108.8,241.2 L108.8,239.6 L109.1,239.6 L109.1,238.9 L109.3,238.9 L109.3,237.3 L109.5,237.3 L109.5,235.8 L109.7,235.8 L109.7,233.9 L109.8,233.9 L109.8,233.8 L110.0,233.8 L110.0,232.0 L110.2,232.0 L110.2,230.4 L110.4,230.4 L110.4,228.6 L110.6,228.6 L110.6,228.3 L110.8,228.3 L110.8,227.1 L110.9,227.1 L110.9,225.1 L111.1,225.1 L111.1,223.3 L111.3,223.3 L111.3,222.8 L111.5,222.8 L111.5,220.8 L111.7,220.8 L111.7,219.9 L111.9,219.9 L111.9,218.8 L112.0,218.8 L112.0,217.4 L112.2,217.4 L112.2,215.1 L112.4,215.1 L112.4,214.2 L112.6,214.2 L112.6,212.6 L112.8,212.6 L112.8,211.9 L113.0,211.9 L113.0,209.5 L113.2,209.5 L113.2,208.2 L113.4,208.2 L113.4,206.5 L113.7,206.5 L113.7,205.2 L113.9,205.2 L113.9,203.8 L114.1,203.8 L114.1,203.5 L114.3,203.5 L114.3,201.5 L114.5,201.5 L114.5,200.3 L114.7,200.3 L114.7,198.8 L114.9,198.8 L114.9,197.0 L115.1,197.0 L115.1,196.6 L115.3,196.6 L115.3,194.2 L115.5,194.2 L115.5,193.6 L115.7,193.6 L115.7,191.1 L116.0,191.1 L116.0,190.6 L116.2,190.6 L116.2,189.3 L116.4,189.3 L116.4,187.7 L116.6,187.7 L116.6,186.8 L116.8,186.8 L116.8,185.2 L117.0,185.2 L117.0,183.5 L117.2,183.5 L117.2,182.2 L117.4,182.2 L117.4,180.1 L117.6,180.1 L117.6,178.9 L117.9,178.9 L117.9,178.4 L118.1,178.4 L118.1,176.7 L118.3,176.7 L118.3,175.6 L118.5,175.6 L118.5,173.5 L119.8,173.5 L119.8,172.3 L121.1,172.3 L121.1,172.9 L122.4,172.9 L122.4,171.9 L123.2,171.9 L123.2,173.7 L123.9,173.7 L123.9,174.3 L124.7,174.3 L124.7,176.0 L125.5,176.0 L125.5,176.9 L126.2,176.9 L126.2,179.6 L127.0,179.6 L127.0,180.4 L127.2,180.4 L127.2,182.5 L127.5,182.5 L127.5,183.3 L127.8,183.3 L127.8,184.7 L128.0,184.7 L128.0,185.6 L128.2,185.6 L128.2,187.1 L128.5,187.1 L128.5,189.0 L128.6,189.0 L128.6,190.9 L128.8,190.9 L128.8,191.6 L128.9,191.6 L128.9,192.9 L129.0,192.9 L129.0,194.3 L129.2,194.3 L129.2,195.7 L129.3,195.7 L129.3,197.5 L129.4,197.5 L129.4,197.8 L129.6,197.8 L129.6,199.9 L129.7,199.9 L129.7,201.0 L129.8,201.0 L129.8,202.7 L130.0,202.7 L130.0,203.9 L130.1,203.9 L130.1,205.0 L130.2,205.0 L130.2,206.3 L130.4,206.3 L130.4,207.7 L130.5,207.7 L130.5,208.8 L130.7,208.8 L130.7,210.4 L130.8,210.4 L130.8,211.6 L131.0,211.6 L131.0,213.2 L131.2,213.2 L131.2,214.6 L131.3,214.6 L131.3,216.0 L131.4,216.0 L131.4,218.0 L131.6,218.0 L131.6,218.8 L131.8,218.8 L131.8,220.0 L131.9,220.0 L131.9,221.7 L132.1,221.7 L132.1,223.6 L132.2,223.6 L132.2,223.8 L132.4,223.8 L132.4,225.5 L132.6,225.5 L132.6,227.7 L132.7,227.7 L132.7,228.2 L132.9,228.2 L132.9,230.1 L133.0,230.1 L133.0,231.2 L133.2,231.2 L133.2,232.7 L133.5,232.7 L133.5,233.8 L133.7,233.8 L133.7,235.6 L134.0,235.6 L134.0,236.2 L134.2,236.2 L134.2,238.5 L134.5,238.5 L134.5,239.0 L134.7,239.0 L134.7,240.6 L135.0,240.6 L135.0,242.9 L135.2,242.9 L135.2,243.5 L135.5,243.5 L135.5,245.0 L135.8,245.0 L135.8,245.8 L136.0,245.8 L136.0,247.7 L136.3,247.7 L136.3,249.7 L136.5,249.7 L136.5,250.6 L136.8,250.6 L136.8,251.2 L137.0,251.2 L137.0,253.6 L137.3,253.6 L137.3,254.0 L137.5,254.0 L137.5,255.9 L137.8,255.9 L137.8,257.3 L138.1,257.3 L138.1,258.1 L138.5,258.1 L138.5,259.7 L138.8,259.7 L138.8,261.5 L139.1,261.5 L139.1,262.7 L139.4,262.7 L139.4,264.2 L139.8,264.2 L139.8,265.8 L140.1,265.8 L140.1,266.5 L141.0,266.5 L141.0,267.5 L141.9,267.5 L141.9,267.8 L142.9,267.8 L142.9,269.5 L143.8,269.5 L143.8,270.5 L144.7,270.5 L144.7,271.2 L145.9,271.2 L145.9,271.9 L147.1,271.9 L147.1,272.2 L148.4,272.2 L148.4,272.4 L149.6,272.4 L149.6,273.1 L150.8,273.1 L150.8,273.5 L152.4,273.5 L152.4,273.9 L153.9,273.9 L153.9,274.2 L155.5,274.2 L155.5,274.6 L156.8,274.6 L156.8,274.6 L158.1,274.6 L158.1,274.6 L159.4,274.6 L159.4,274.6 L160.8,274.6 L160.8,274.6 L162.1,274.6 L162.1,274.6 L163.4,274.6 L163.4,274.6 L164.7,274.6 L164.7,274.6 L166.0,274.6 L166.0,274.6 L167.3,274.6 L167.3,274.6 L168.6,274.6 L168.6,274.6 L170.0,274.6 L170.0,274.6 L171.3,274.6 L171.3,274.6 L172.6,274.6 L172.6,274.6 L173.9,274.6 L173.9,274.6 L175.2,274.6 L175.2,274.6 L176.5,274.6 L176.5,274.6 L177.8,274.6 L177.8,274.6 L179.2,274.6 L179.2,274.6 L180.5,274.6 L180.5,274.6 L181.8,274.6 L181.8,274.6 L183.1,274.6 L183.1,274.6 L184.4,274.6 L184.4,274.6 L185.7,274.6 L185.7,274.6 L187.0,274.6 L187.0,274.6 L188.4,274.6 L188.4,274.6 L189.7,274.6 L189.7,274.6 L191.0,274.6 L191.0,274.6 L192.3,274.6 L192.3,274.6 L193.6,274.6 L193.6,274.6 L194.9,274.6 L194.9,274.6 L196.2,274.6 L196.2,274.6 L197.6,274.6 L197.6,274.6 L198.9,274.6 L198.9,274.6 L200.2,274.6 L200.2,274.6 L201.5,274.6 L201.5,274.6 L202.5,274.6 L202.5,272.7 L203.8,272.7 L203.8,272.6 L205.2,272.6 L205.2,272.6 L206.5,272.6 L206.5,272.5 L207.9,272.5 L207.9,273.0 L209.2,273.0 L209.2,272.7 L210.6,272.7 L210.6,272.8 L211.9,272.8 L211.9,272.9 L213.3,272.9 L213.3,272.8 L214.6,272.8 L214.6,272.7 L215.1,272.7 L215.1,271.4 L215.6,271.4 L215.6,270.7 L216.1,270.7 L216.1,268.8 L216.6,268.8 L216.6,267.5 L217.2,267.5 L217.2,267.0 L217.7,267.0 L217.7,265.2 L218.2,265.2 L218.2,264.2 L218.7,264.2 L218.7,262.7 L219.4,262.7 L219.4,261.7 L220.1,261.7 L220.1,260.3 L220.7,260.3 L220.7,259.0 L221.4,259.0 L221.4,257.3 L222.7,257.3 L222.7,257.5 L224.0,257.5 L224.0,256.6 L225.3,256.6 L225.3,256.3 L226.7,256.3 L226.7,256.6 L226.8,256.6 L226.8,258.3 L226.9,258.3 L226.9,259.3 L227.0,259.3 L227.0,260.4 L227.1,260.4 L227.1,261.7 L227.2,261.7 L227.2,264.0 L227.3,264.0 L227.3,264.8 L227.4,264.8 L227.4,266.5 L227.5,266.5 L227.5,268.0 L228.6,268.0 L228.6,269.3 L229.7,269.3 L229.7,270.5 L230.8,270.5 L230.8,272.0 L232.2,272.0 L232.2,272.8 L233.5,272.8 L233.5,273.5 L235.0,273.5 L235.0,274.6" fill="none" stroke="#9a9a9a" stroke-width="1.1" stroke-linejoin="round"/>
<path d="M99.3,267.3 L100.1,267.3 L100.1,265.7 L100.8,265.7 L100.8,264.8 L101.6,264.8 L101.6,263.5 L102.1,263.5 L102.1,262.4 L102.6,262.4 L102.6,260.6 L103.2,260.6 L103.2,259.3 L103.7,259.3 L103.7,257.9 L104.2,257.9 L104.2,256.9 L104.7,256.9 L104.7,255.8 L105.0,255.8 L105.0,254.9 L105.3,254.9 L105.3,253.6 L105.6,253.6 L105.6,251.5 L105.9,251.5 L105.9,250.6 L106.2,250.6 L106.2,249.4 L106.6,249.4 L106.6,247.9 L106.9,247.9 L106.9,246.0 L107.2,246.0 L107.2,244.7 L107.5,244.7 L107.5,242.7 L107.8,242.7 L107.8,241.9 L108.1,241.9 L108.1,240.4 L108.5,240.4 L108.5,239.7 L108.8,239.7 L108.8,238.3 L109.1,238.3 L109.1,235.8 L109.5,235.8 L109.5,234.5 L109.8,234.5 L109.8,233.7 L110.1,233.7 L110.1,231.7 L110.5,231.7 L110.5,230.3 L110.8,230.3 L110.8,229.6 L111.0,229.6 L111.0,228.7 L111.1,228.7 L111.1,227.1 L111.3,227.1 L111.3,225.0 L111.4,225.0 L111.4,223.7 L111.6,223.7 L111.6,222.7 L111.8,222.7 L111.8,222.0 L111.9,222.0 L111.9,219.2 L112.1,219.2 L112.1,218.9 L112.2,218.9 L112.2,217.4 L112.4,217.4 L112.4,215.8 L113.2,215.8 L113.2,213.7 L113.9,213.7 L113.9,212.4 L114.7,212.4 L114.7,211.2 L114.8,211.2 L114.8,210.0 L114.8,210.0 L114.8,208.7 L114.9,208.7 L114.9,206.5 L115.0,206.5 L115.0,206.0 L115.1,206.0 L115.1,204.3 L115.1,204.3 L115.1,202.4 L115.2,202.4 L115.2,201.5 L115.3,201.5 L115.3,200.2 L115.4,200.2 L115.4,198.7 L115.4,198.7 L115.4,197.2 L115.5,197.2 L115.5,195.8 L116.2,195.8 L116.2,194.7 L117.0,194.7 L117.0,192.7 L117.1,192.7 L117.1,191.0 L117.2,191.0 L117.2,190.1 L117.3,190.1 L117.3,188.5 L117.5,188.5 L117.5,187.6 L117.6,187.6 L117.6,186.5 L117.7,186.5 L117.7,185.0 L117.8,185.0 L117.8,183.5 L119.3,183.5 L119.3,183.5 L119.6,183.5 L119.6,181.4 L119.8,181.4 L119.8,179.9 L120.1,179.9 L120.1,178.8 L121.6,178.8 L121.6,180.0 L121.8,180.0 L121.8,178.3 L122.0,178.3 L122.0,176.9 L122.2,176.9 L122.2,175.2 L122.4,175.2 L122.4,174.2 L123.5,174.2 L123.5,171.9 L123.8,171.9 L123.8,173.7 L124.1,173.7 L124.1,174.8 L124.4,174.8 L124.4,177.0 L125.5,177.0 L125.5,175.8 L127.8,175.8 L127.8,176.5 L127.9,176.5 L127.9,178.0 L127.9,178.0 L127.9,179.0 L128.0,179.0 L128.0,180.8 L128.1,180.8 L128.1,181.5 L128.2,181.5 L128.2,182.8 L128.2,182.8 L128.2,184.7 L128.3,184.7 L128.3,185.2 L128.4,185.2 L128.4,186.4 L128.4,186.4 L128.4,188.4 L128.5,188.4 L128.5,189.6 L130.1,189.6 L130.1,188.0 L130.2,188.0 L130.2,188.8 L130.3,188.8 L130.3,191.1 L130.3,191.1 L130.3,192.1 L130.4,192.1 L130.4,193.9 L130.5,193.9 L130.5,194.4 L130.6,194.4 L130.6,196.5 L130.6,196.5 L130.6,197.0 L130.7,197.0 L130.7,199.4 L130.8,199.4 L130.8,200.4 L131.8,200.4 L131.8,202.2 L132.7,202.2 L132.7,203.5 L132.8,203.5 L132.8,205.4 L132.9,205.4 L132.9,205.8 L133.1,205.8 L133.1,207.7 L133.2,207.7 L133.2,208.5 L133.3,208.5 L133.3,209.7 L133.4,209.7 L133.4,212.1 L133.5,212.1 L133.5,213.5 L133.7,213.5 L133.7,214.2 L133.8,214.2 L133.8,216.5 L133.9,216.5 L133.9,217.3 L134.1,217.3 L134.1,218.9 L134.4,218.9 L134.4,220.1 L134.6,220.1 L134.6,221.6 L134.8,221.6 L134.8,222.8 L135.1,222.8 L135.1,224.1 L135.3,224.1 L135.3,226.0 L135.5,226.0 L135.5,226.8 L135.7,226.8 L135.7,229.0 L136.0,229.0 L136.0,229.3 L136.2,229.3 L136.2,231.2 L136.4,231.2 L136.4,232.3 L136.6,232.3 L136.6,233.9 L136.8,233.9 L136.8,235.3 L137.0,235.3 L137.0,236.7 L137.2,236.7 L137.2,238.2 L137.4,238.2 L137.4,239.2 L137.6,239.2 L137.6,240.3 L137.8,240.3 L137.8,241.9 L138.1,241.9 L138.1,243.5 L138.5,243.5 L138.5,244.8 L138.8,244.8 L138.8,245.7 L139.1,245.7 L139.1,247.6 L139.4,247.6 L139.4,248.3 L139.8,248.3 L139.8,249.9 L140.1,249.9 L140.1,251.2 L140.4,251.2 L140.4,252.8 L140.8,252.8 L140.8,253.3 L141.1,253.3 L141.1,255.5 L141.4,255.5 L141.4,256.4 L141.7,256.4 L141.7,257.4 L142.1,257.4 L142.1,259.1 L142.4,259.1 L142.4,260.4 L142.9,260.4 L142.9,261.7 L143.3,261.7 L143.3,263.1 L143.8,263.1 L143.8,264.5 L144.2,264.5 L144.2,265.5 L144.7,265.5 L144.7,266.5 L145.5,266.5 L145.5,267.1 L146.2,267.1 L146.2,268.8 L147.0,268.8 L147.0,269.7 L147.8,269.7 L147.8,271.2 L149.3,271.2 L149.3,271.7 L150.9,271.7 L150.9,273.0 L152.4,273.0 L152.4,273.5 L153.9,273.5 L153.9,274.0 L155.5,274.0 L155.5,274.6 L156.8,274.6 L156.8,274.6 L158.1,274.6 L158.1,274.6 L159.4,274.6 L159.4,274.6 L160.8,274.6 L160.8,274.5 L162.1,274.5 L162.1,274.6 L163.4,274.6 L163.4,274.6 L164.7,274.6 L164.7,274.5 L166.0,274.5 L166.0,274.5 L167.3,274.5 L167.3,274.5 L168.6,274.5 L168.6,274.5 L169.9,274.5 L169.9,274.5 L171.3,274.5 L171.3,274.5 L172.6,274.5 L172.6,274.5 L173.9,274.5 L173.9,274.5 L175.2,274.5 L175.2,274.4 L176.5,274.4 L176.5,274.5 L177.8,274.5 L177.8,274.4 L179.1,274.4 L179.1,274.5 L180.5,274.5 L180.5,274.5 L181.8,274.5 L181.8,274.5 L183.1,274.5 L183.1,274.4 L184.4,274.4 L184.4,274.4 L185.7,274.4 L185.7,274.3 L187.0,274.3 L187.0,274.4 L188.3,274.4 L188.3,274.4 L189.6,274.4 L189.6,274.4 L191.0,274.4 L191.0,274.4 L192.3,274.4 L192.3,274.4 L193.6,274.4 L193.6,274.4 L194.9,274.4 L194.9,274.4 L196.2,274.4 L196.2,274.3 L197.5,274.3 L197.5,274.3 L198.8,274.3 L198.8,274.3 L200.2,274.3 L200.2,274.4 L201.5,274.4 L201.5,274.3 L202.8,274.3 L202.8,274.3 L204.1,274.3 L204.1,274.3 L205.4,274.3 L205.4,274.2 L206.7,274.2 L206.7,274.2 L208.0,274.2 L208.0,274.3 L209.3,274.3 L209.3,274.2 L210.7,274.2 L210.7,274.3 L212.0,274.3 L212.0,274.2 L213.3,274.2 L213.3,274.2 L214.6,274.2 L214.6,274.2 L215.6,274.2 L215.6,273.0 L216.6,273.0 L216.6,272.2 L217.7,272.2 L217.7,271.2 L218.7,271.2 L218.7,270.2 L220.1,270.2 L220.1,269.6 L221.4,269.6 L221.4,269.4 L222.7,269.4 L222.7,269.3 L224.0,269.3 L224.0,270.0 L224.9,270.0 L224.9,270.9 L225.8,270.9 L225.8,272.5 L226.7,272.5 L226.7,273.5 L228.0,273.5 L228.0,274.6 L229.3,274.6 L229.3,274.6 L230.7,274.6 L230.7,274.6 L232.0,274.6 L232.0,274.6 L233.3,274.6 L233.3,274.6 L234.7,274.6 L234.7,274.6 L236.0,274.6 L236.0,274.6 L237.3,274.6 L237.3,274.6 L238.7,274.6 L238.7,274.6 L240.0,274.6 L240.0,274.6 L241.3,274.6 L241.3,274.6 L242.7,274.6 L242.7,274.6 L244.0,274.6 L244.0,274.6 L245.3,274.6 L245.3,274.6 L246.7,274.6 L246.7,274.6 L248.0,274.6 L248.0,274.6 L249.3,274.6 L249.3,274.6 L250.7,274.6 L250.7,274.6 L252.0,274.6 L252.0,274.6 L253.3,274.6 L253.3,274.6 L254.7,274.6 L254.7,274.6 L256.0,274.6 L256.0,274.6 L257.3,274.6 L257.3,274.6 L258.7,274.6 L258.7,274.6 L260.0,274.6 L260.0,274.6 L261.3,274.6 L261.3,274.6 L262.7,274.6 L262.7,274.6 L264.0,274.6 L264.0,274.6 L265.3,274.6 L265.3,274.6 L266.7,274.6 L266.7,274.6 L268.0,274.6 L268.0,274.6 L269.3,274.6 L269.3,274.6 L270.7,274.6 L270.7,274.6 L272.0,274.6 L272.0,274.6" fill="none" stroke="#050505" stroke-width="1.4" stroke-linejoin="round"/>
<line x1="94.5" y1="171.8" x2="99" y2="171.8" stroke="#050505" stroke-width="1.2" />
<line x1="96.4" y1="177.0" x2="99" y2="177.0" stroke="#050505" stroke-width="1.2" />
<line x1="96.4" y1="182.20000000000002" x2="99" y2="182.20000000000002" stroke="#050505" stroke-width="1.2" />
<line x1="96.4" y1="187.4" x2="99" y2="187.4" stroke="#050505" stroke-width="1.2" />
<line x1="94.5" y1="192.60000000000002" x2="99" y2="192.60000000000002" stroke="#050505" stroke-width="1.2" />
<line x1="96.4" y1="197.8" x2="99" y2="197.8" stroke="#050505" stroke-width="1.2" />
<line x1="96.4" y1="203.0" x2="99" y2="203.0" stroke="#050505" stroke-width="1.2" />
<line x1="96.4" y1="208.20000000000002" x2="99" y2="208.20000000000002" stroke="#050505" stroke-width="1.2" />
<line x1="94.5" y1="213.4" x2="99" y2="213.4" stroke="#050505" stroke-width="1.2" />
<line x1="96.4" y1="218.60000000000002" x2="99" y2="218.60000000000002" stroke="#050505" stroke-width="1.2" />
<line x1="96.4" y1="223.8" x2="99" y2="223.8" stroke="#050505" stroke-width="1.2" />
<line x1="96.4" y1="229.0" x2="99" y2="229.0" stroke="#050505" stroke-width="1.2" />
<line x1="94.5" y1="234.20000000000002" x2="99" y2="234.20000000000002" stroke="#050505" stroke-width="1.2" />
<line x1="96.4" y1="239.40000000000003" x2="99" y2="239.40000000000003" stroke="#050505" stroke-width="1.2" />
<line x1="96.4" y1="244.60000000000002" x2="99" y2="244.60000000000002" stroke="#050505" stroke-width="1.2" />
<line x1="96.4" y1="249.8" x2="99" y2="249.8" stroke="#050505" stroke-width="1.2" />
<line x1="94.5" y1="255.0" x2="99" y2="255.0" stroke="#050505" stroke-width="1.2" />
<line x1="96.4" y1="260.20000000000005" x2="99" y2="260.20000000000005" stroke="#050505" stroke-width="1.2" />
<line x1="96.4" y1="265.40000000000003" x2="99" y2="265.40000000000003" stroke="#050505" stroke-width="1.2" />
<line x1="96.4" y1="270.6" x2="99" y2="270.6" stroke="#050505" stroke-width="1.2" />
<line x1="94.5" y1="275.8" x2="99" y2="275.8" stroke="#050505" stroke-width="1.2" />
<line x1="99.0" y1="275.7" x2="99.0" y2="278.5" stroke="#050505" stroke-width="1.1" />
<line x1="129.7" y1="275.7" x2="129.7" y2="278.5" stroke="#050505" stroke-width="1.1" />
<line x1="140.7" y1="275.7" x2="140.7" y2="278.5" stroke="#050505" stroke-width="1.1" />
<line x1="172.7" y1="275.7" x2="172.7" y2="278.5" stroke="#050505" stroke-width="1.1" />
<line x1="184.6" y1="275.7" x2="184.6" y2="278.5" stroke="#050505" stroke-width="1.1" />
<line x1="215.7" y1="275.7" x2="215.7" y2="278.5" stroke="#050505" stroke-width="1.1" />
<line x1="228.9" y1="275.7" x2="228.9" y2="278.5" stroke="#050505" stroke-width="1.1" />
<line x1="257.8" y1="275.7" x2="257.8" y2="278.5" stroke="#050505" stroke-width="1.1" />
<line x1="270.9" y1="275.7" x2="270.9" y2="278.5" stroke="#050505" stroke-width="1.1" />
<rect x="99" y="167.5" width="174" height="108.19999999999999" fill="none" stroke="#1a1a1a" stroke-width="1.35"/>
<path d="M316.7,158.8 L316.7,157.3 L317.7,157.3 L317.7,156.0 L318.6,156.0 L318.6,154.9 L319.6,154.9 L319.6,154.0 L320.6,154.0 L320.6,152.9 L321.8,152.9 L321.8,152.4 L323.0,152.4 L323.0,151.1 L324.2,151.1 L324.2,150.3 L325.4,150.3 L325.4,149.0 L326.6,149.0 L326.6,148.3 L327.8,148.3 L327.8,147.7 L329.0,147.7 L329.0,146.0 L330.2,146.0 L330.2,145.2 L332.1,145.2 L332.1,145.4 L334.0,145.4 L334.0,145.0 L335.3,145.0 L335.3,145.3 L336.6,145.3 L336.6,146.6 L337.9,146.6 L337.9,147.1 L339.1,147.1 L339.1,147.2 L340.3,147.2 L340.3,148.6 L341.5,148.6 L341.5,149.5 L342.7,149.5 L342.7,150.0 L344.1,150.0 L344.1,150.1 L345.6,150.1 L345.6,150.3 L347.1,150.3 L347.1,151.5 L348.5,151.5 L348.5,151.5 L349.9,151.5 L349.9,152.5 L351.4,152.5 L351.4,152.0 L352.8,152.0 L352.8,152.2 L354.2,152.2 L354.2,152.9 L355.5,152.9 L355.5,152.8 L356.8,152.8 L356.8,151.7 L358.0,151.7 L358.0,151.9 L359.3,151.9 L359.3,151.9 L360.6,151.9 L360.6,151.6 L361.9,151.6 L361.9,151.5 L362.5,151.5 L362.5,152.5 L363.2,152.5 L363.2,154.0 L363.8,154.0 L363.8,155.8 L365.1,155.8 L365.1,155.8 L366.4,155.8 L366.4,155.8 L367.8,155.8 L367.8,155.9 L369.1,155.9 L369.1,155.8 L370.4,155.8 L370.4,155.8 L371.8,155.8 L371.8,156.2 L373.1,156.2 L373.1,155.8 L374.4,155.8 L374.4,155.6 L375.7,155.6 L375.7,155.9 L377.1,155.9 L377.1,155.9 L378.4,155.9 L378.4,156.2 L379.7,156.2 L379.7,155.8 L381.0,155.8 L381.0,156.2 L382.4,156.2 L382.4,156.0 L383.7,156.0 L383.7,155.8 L385.0,155.8 L385.0,156.0 L386.4,156.0 L386.4,156.0 L387.8,156.0 L387.8,156.1 L389.1,156.1 L389.1,156.0 L390.5,156.0 L390.5,155.7 L391.9,155.7 L391.9,155.9 L393.2,155.9 L393.2,156.0 L394.6,156.0 L394.6,155.8 L396.0,155.8 L396.0,155.5 L397.4,155.5 L397.4,155.6 L398.8,155.6 L398.8,155.4 L400.1,155.4 L400.1,155.4 L401.5,155.4 L401.5,155.5 L402.5,155.5 L402.5,154.9 L403.6,154.9 L403.6,153.1 L404.6,153.1 L404.6,152.1 L405.6,152.1 L405.6,151.0 L406.7,151.0 L406.7,151.1 L407.7,151.1 L407.7,149.5 L408.1,149.5 L408.1,147.5 L408.5,147.5 L408.5,147.2 L408.9,147.2 L408.9,146.0 L409.2,146.0 L409.2,143.7 L409.6,143.7 L409.6,143.3 L410.0,143.3 L410.0,141.5 L410.4,141.5 L410.4,140.5 L410.8,140.5 L410.8,138.8 L410.9,138.8 L410.9,137.9 L411.0,137.9 L411.0,135.7 L411.1,135.7 L411.1,134.2 L411.2,134.2 L411.2,132.7 L411.3,132.7 L411.3,132.0 L411.4,132.0 L411.4,131.2 L411.5,131.2 L411.5,129.8 L411.6,129.8 L411.6,128.3 L411.6,128.3 L411.6,126.7 L411.7,126.7 L411.7,125.1 L411.8,125.1 L411.8,123.7 L411.9,123.7 L411.9,123.3 L412.0,123.3 L412.0,121.5 L412.1,121.5 L412.1,119.7 L412.2,119.7 L412.2,119.1 L412.3,119.1 L412.3,117.2 L412.4,117.2 L412.4,115.9 L412.4,115.9 L412.4,114.2 L412.5,114.2 L412.5,113.1 L412.6,113.1 L412.6,111.7 L412.6,111.7 L412.6,110.4 L412.7,110.4 L412.7,109.5 L412.8,109.5 L412.8,107.9 L412.8,107.9 L412.8,106.0 L412.9,106.0 L412.9,105.9 L413.0,105.9 L413.0,103.8 L413.0,103.8 L413.0,102.2 L413.1,102.2 L413.1,101.0 L413.2,101.0 L413.2,99.3 L413.2,99.3 L413.2,98.9 L413.3,98.9 L413.3,97.6 L413.3,97.6 L413.3,95.5 L413.4,95.5 L413.4,94.9 L413.5,94.9 L413.5,93.5 L413.5,93.5 L413.5,91.7 L413.6,91.7 L413.6,91.0 L413.7,91.0 L413.7,89.4 L413.7,89.4 L413.7,87.8 L413.8,87.8 L413.8,86.8 L413.9,86.8 L413.9,86.0 L413.9,86.0 L413.9,84.4 L414.0,84.4 L414.0,83.1 L414.1,83.1 L414.1,81.8 L414.1,81.8 L414.1,80.6 L414.2,80.6 L414.2,78.8 L414.3,78.8 L414.3,77.7 L414.5,77.7 L414.5,76.7 L414.6,76.7 L414.6,74.6 L414.7,74.6 L414.7,73.2 L414.9,73.2 L414.9,71.8 L415.0,71.8 L415.0,71.5 L415.1,71.5 L415.1,69.6 L415.3,69.6 L415.3,68.8 L415.4,68.8 L415.4,66.7 L415.5,66.7 L415.5,65.6 L415.7,65.6 L415.7,63.8 L415.8,63.8 L415.8,62.4 L415.9,62.4 L415.9,61.8 L416.1,61.8 L416.1,59.6 L416.2,59.6 L416.2,58.8 L416.7,58.8 L416.7,60.7 L417.2,60.7 L417.2,62.3 L417.7,62.3 L417.7,63.0 L417.8,63.0 L417.8,64.8 L417.9,64.8 L417.9,65.2 L417.9,65.2 L417.9,66.2 L418.0,66.2 L418.0,68.8 L418.1,68.8 L418.1,70.1 L418.2,70.1 L418.2,71.0 L418.3,71.0 L418.3,72.2 L418.4,72.2 L418.4,74.1 L418.4,74.1 L418.4,74.2 L418.5,74.2 L418.5,75.5 L418.6,75.5 L418.6,77.5 L418.7,77.5 L418.7,78.8 L418.8,78.8 L418.8,79.4 L418.9,79.4 L418.9,81.9 L418.9,81.9 L418.9,82.2 L419.0,82.2 L419.0,83.6 L419.1,83.6 L419.1,84.9 L419.2,84.9 L419.2,86.5 L420.8,86.5 L420.8,88.0 L420.8,88.0 L420.8,89.9 L420.8,89.9 L420.8,90.4 L420.9,90.4 L420.9,91.7 L420.9,91.7 L420.9,93.5 L420.9,93.5 L420.9,95.2 L420.9,95.2 L420.9,96.7 L421.0,96.7 L421.0,96.9 L421.0,96.9 L421.0,99.1 L421.0,99.1 L421.0,100.5 L421.0,100.5 L421.0,100.8 L421.1,100.8 L421.1,102.9 L421.1,102.9 L421.1,104.1 L421.1,104.1 L421.1,105.4 L421.1,105.4 L421.1,106.8 L421.1,106.8 L421.1,107.4 L421.2,107.4 L421.2,109.3 L421.2,109.3 L421.2,111.0 L421.2,111.0 L421.2,111.4 L421.2,111.4 L421.2,113.5 L421.3,113.5 L421.3,114.2 L421.3,114.2 L421.3,116.3 L421.3,116.3 L421.3,117.8 L421.3,117.8 L421.3,118.7 L421.4,118.7 L421.4,119.4 L421.4,119.4 L421.4,121.3 L421.4,121.3 L421.4,122.2 L421.4,122.2 L421.4,124.7 L421.5,124.7 L421.5,125.9 L421.5,125.9 L421.5,127.2 L421.5,127.2 L421.5,128.0 L421.7,128.0 L421.7,129.6 L421.9,129.6 L421.9,130.3 L422.0,130.3 L422.0,131.8 L422.2,131.8 L422.2,133.5 L422.4,133.5 L422.4,135.1 L422.6,135.1 L422.6,136.6 L422.7,136.6 L422.7,137.0 L422.9,137.0 L422.9,139.1 L423.1,139.1 L423.1,140.3 L423.3,140.3 L423.3,142.1 L423.5,142.1 L423.5,143.2 L423.7,143.2 L423.7,144.1 L423.9,144.1 L423.9,145.9 L424.0,145.9 L424.0,147.2 L424.2,147.2 L424.2,147.8 L424.4,147.8 L424.4,150.2 L424.6,150.2 L424.6,151.0 L425.4,151.0 L425.4,152.3 L426.1,152.3 L426.1,153.0 L426.9,153.0 L426.9,154.1 L427.7,154.1 L427.7,155.5 L428.9,155.5 L428.9,156.7 L430.0,156.7 L430.0,157.3 L430.0,158.8" fill="#dddddd" stroke="none" stroke-width="1.5" stroke-linejoin="round"/>
<path d="M316.7,157.3 L317.7,157.3 L317.7,156.0 L318.6,156.0 L318.6,154.9 L319.6,154.9 L319.6,154.0 L320.6,154.0 L320.6,152.9 L321.8,152.9 L321.8,152.4 L323.0,152.4 L323.0,151.1 L324.2,151.1 L324.2,150.3 L325.4,150.3 L325.4,149.0 L326.6,149.0 L326.6,148.3 L327.8,148.3 L327.8,147.7 L329.0,147.7 L329.0,146.0 L330.2,146.0 L330.2,145.2 L332.1,145.2 L332.1,145.4 L334.0,145.4 L334.0,145.0 L335.3,145.0 L335.3,145.3 L336.6,145.3 L336.6,146.6 L337.9,146.6 L337.9,147.1 L339.1,147.1 L339.1,147.2 L340.3,147.2 L340.3,148.6 L341.5,148.6 L341.5,149.5 L342.7,149.5 L342.7,150.0 L344.1,150.0 L344.1,150.1 L345.6,150.1 L345.6,150.3 L347.1,150.3 L347.1,151.5 L348.5,151.5 L348.5,151.5 L349.9,151.5 L349.9,152.5 L351.4,152.5 L351.4,152.0 L352.8,152.0 L352.8,152.2 L354.2,152.2 L354.2,152.9 L355.5,152.9 L355.5,152.8 L356.8,152.8 L356.8,151.7 L358.0,151.7 L358.0,151.9 L359.3,151.9 L359.3,151.9 L360.6,151.9 L360.6,151.6 L361.9,151.6 L361.9,151.5 L362.5,151.5 L362.5,152.5 L363.2,152.5 L363.2,154.0 L363.8,154.0 L363.8,155.8 L365.1,155.8 L365.1,155.8 L366.4,155.8 L366.4,155.8 L367.8,155.8 L367.8,155.9 L369.1,155.9 L369.1,155.8 L370.4,155.8 L370.4,155.8 L371.8,155.8 L371.8,156.2 L373.1,156.2 L373.1,155.8 L374.4,155.8 L374.4,155.6 L375.7,155.6 L375.7,155.9 L377.1,155.9 L377.1,155.9 L378.4,155.9 L378.4,156.2 L379.7,156.2 L379.7,155.8 L381.0,155.8 L381.0,156.2 L382.4,156.2 L382.4,156.0 L383.7,156.0 L383.7,155.8 L385.0,155.8 L385.0,156.0 L386.4,156.0 L386.4,156.0 L387.8,156.0 L387.8,156.1 L389.1,156.1 L389.1,156.0 L390.5,156.0 L390.5,155.7 L391.9,155.7 L391.9,155.9 L393.2,155.9 L393.2,156.0 L394.6,156.0 L394.6,155.8 L396.0,155.8 L396.0,155.5 L397.4,155.5 L397.4,155.6 L398.8,155.6 L398.8,155.4 L400.1,155.4 L400.1,155.4 L401.5,155.4 L401.5,155.5 L402.5,155.5 L402.5,154.9 L403.6,154.9 L403.6,153.1 L404.6,153.1 L404.6,152.1 L405.6,152.1 L405.6,151.0 L406.7,151.0 L406.7,151.1 L407.7,151.1 L407.7,149.5 L408.1,149.5 L408.1,147.5 L408.5,147.5 L408.5,147.2 L408.9,147.2 L408.9,146.0 L409.2,146.0 L409.2,143.7 L409.6,143.7 L409.6,143.3 L410.0,143.3 L410.0,141.5 L410.4,141.5 L410.4,140.5 L410.8,140.5 L410.8,138.8 L410.9,138.8 L410.9,137.9 L411.0,137.9 L411.0,135.7 L411.1,135.7 L411.1,134.2 L411.2,134.2 L411.2,132.7 L411.3,132.7 L411.3,132.0 L411.4,132.0 L411.4,131.2 L411.5,131.2 L411.5,129.8 L411.6,129.8 L411.6,128.3 L411.6,128.3 L411.6,126.7 L411.7,126.7 L411.7,125.1 L411.8,125.1 L411.8,123.7 L411.9,123.7 L411.9,123.3 L412.0,123.3 L412.0,121.5 L412.1,121.5 L412.1,119.7 L412.2,119.7 L412.2,119.1 L412.3,119.1 L412.3,117.2 L412.4,117.2 L412.4,115.9 L412.4,115.9 L412.4,114.2 L412.5,114.2 L412.5,113.1 L412.6,113.1 L412.6,111.7 L412.6,111.7 L412.6,110.4 L412.7,110.4 L412.7,109.5 L412.8,109.5 L412.8,107.9 L412.8,107.9 L412.8,106.0 L412.9,106.0 L412.9,105.9 L413.0,105.9 L413.0,103.8 L413.0,103.8 L413.0,102.2 L413.1,102.2 L413.1,101.0 L413.2,101.0 L413.2,99.3 L413.2,99.3 L413.2,98.9 L413.3,98.9 L413.3,97.6 L413.3,97.6 L413.3,95.5 L413.4,95.5 L413.4,94.9 L413.5,94.9 L413.5,93.5 L413.5,93.5 L413.5,91.7 L413.6,91.7 L413.6,91.0 L413.7,91.0 L413.7,89.4 L413.7,89.4 L413.7,87.8 L413.8,87.8 L413.8,86.8 L413.9,86.8 L413.9,86.0 L413.9,86.0 L413.9,84.4 L414.0,84.4 L414.0,83.1 L414.1,83.1 L414.1,81.8 L414.1,81.8 L414.1,80.6 L414.2,80.6 L414.2,78.8 L414.3,78.8 L414.3,77.7 L414.5,77.7 L414.5,76.7 L414.6,76.7 L414.6,74.6 L414.7,74.6 L414.7,73.2 L414.9,73.2 L414.9,71.8 L415.0,71.8 L415.0,71.5 L415.1,71.5 L415.1,69.6 L415.3,69.6 L415.3,68.8 L415.4,68.8 L415.4,66.7 L415.5,66.7 L415.5,65.6 L415.7,65.6 L415.7,63.8 L415.8,63.8 L415.8,62.4 L415.9,62.4 L415.9,61.8 L416.1,61.8 L416.1,59.6 L416.2,59.6 L416.2,58.8 L416.7,58.8 L416.7,60.7 L417.2,60.7 L417.2,62.3 L417.7,62.3 L417.7,63.0 L417.8,63.0 L417.8,64.8 L417.9,64.8 L417.9,65.2 L417.9,65.2 L417.9,66.2 L418.0,66.2 L418.0,68.8 L418.1,68.8 L418.1,70.1 L418.2,70.1 L418.2,71.0 L418.3,71.0 L418.3,72.2 L418.4,72.2 L418.4,74.1 L418.4,74.1 L418.4,74.2 L418.5,74.2 L418.5,75.5 L418.6,75.5 L418.6,77.5 L418.7,77.5 L418.7,78.8 L418.8,78.8 L418.8,79.4 L418.9,79.4 L418.9,81.9 L418.9,81.9 L418.9,82.2 L419.0,82.2 L419.0,83.6 L419.1,83.6 L419.1,84.9 L419.2,84.9 L419.2,86.5 L420.8,86.5 L420.8,88.0 L420.8,88.0 L420.8,89.9 L420.8,89.9 L420.8,90.4 L420.9,90.4 L420.9,91.7 L420.9,91.7 L420.9,93.5 L420.9,93.5 L420.9,95.2 L420.9,95.2 L420.9,96.7 L421.0,96.7 L421.0,96.9 L421.0,96.9 L421.0,99.1 L421.0,99.1 L421.0,100.5 L421.0,100.5 L421.0,100.8 L421.1,100.8 L421.1,102.9 L421.1,102.9 L421.1,104.1 L421.1,104.1 L421.1,105.4 L421.1,105.4 L421.1,106.8 L421.1,106.8 L421.1,107.4 L421.2,107.4 L421.2,109.3 L421.2,109.3 L421.2,111.0 L421.2,111.0 L421.2,111.4 L421.2,111.4 L421.2,113.5 L421.3,113.5 L421.3,114.2 L421.3,114.2 L421.3,116.3 L421.3,116.3 L421.3,117.8 L421.3,117.8 L421.3,118.7 L421.4,118.7 L421.4,119.4 L421.4,119.4 L421.4,121.3 L421.4,121.3 L421.4,122.2 L421.4,122.2 L421.4,124.7 L421.5,124.7 L421.5,125.9 L421.5,125.9 L421.5,127.2 L421.5,127.2 L421.5,128.0 L421.7,128.0 L421.7,129.6 L421.9,129.6 L421.9,130.3 L422.0,130.3 L422.0,131.8 L422.2,131.8 L422.2,133.5 L422.4,133.5 L422.4,135.1 L422.6,135.1 L422.6,136.6 L422.7,136.6 L422.7,137.0 L422.9,137.0 L422.9,139.1 L423.1,139.1 L423.1,140.3 L423.3,140.3 L423.3,142.1 L423.5,142.1 L423.5,143.2 L423.7,143.2 L423.7,144.1 L423.9,144.1 L423.9,145.9 L424.0,145.9 L424.0,147.2 L424.2,147.2 L424.2,147.8 L424.4,147.8 L424.4,150.2 L424.6,150.2 L424.6,151.0 L425.4,151.0 L425.4,152.3 L426.1,152.3 L426.1,153.0 L426.9,153.0 L426.9,154.1 L427.7,154.1 L427.7,155.5 L428.9,155.5 L428.9,156.7 L430.0,156.7 L430.0,157.3" fill="none" stroke="#9a9a9a" stroke-width="1.1" stroke-linejoin="round"/>
<path d="M287.5,157.3 L288.8,157.3 L288.8,157.2 L290.2,157.2 L290.2,157.3 L291.5,157.3 L291.5,157.4 L292.9,157.4 L292.9,157.5 L294.2,157.5 L294.2,157.4 L295.6,157.4 L295.6,157.2 L296.9,157.2 L296.9,157.5 L298.3,157.5 L298.3,157.3 L299.6,157.3 L299.6,157.4 L301.0,157.4 L301.0,157.4 L302.3,157.4 L302.3,157.2 L303.7,157.2 L303.7,157.4 L305.0,157.4 L305.0,157.4 L306.4,157.4 L306.4,157.1 L307.7,157.1 L307.7,157.3 L309.1,157.3 L309.1,157.4 L310.4,157.4 L310.4,157.2 L311.8,157.2 L311.8,157.2 L313.1,157.2 L313.1,157.3 L314.5,157.3 L314.5,157.2 L315.8,157.2 L315.8,157.3 L316.8,157.3 L316.8,156.3 L317.7,156.3 L317.7,154.8 L319.2,154.8 L319.2,154.4 L320.8,154.4 L320.8,154.3 L322.3,154.3 L322.3,154.7 L323.9,154.7 L323.9,154.6 L325.4,154.6 L325.4,154.8 L326.3,154.8 L326.3,152.9 L327.6,152.9 L327.6,153.1 L328.9,153.1 L328.9,153.3 L330.3,153.3 L330.3,152.3 L331.6,152.3 L331.6,151.9 L332.9,151.9 L332.9,152.5 L334.2,152.5 L334.2,152.3 L335.6,152.3 L335.6,151.6 L336.9,151.6 L336.9,151.9 L338.2,151.9 L338.2,152.7 L339.5,152.7 L339.5,152.2 L340.8,152.2 L340.8,152.9 L342.2,152.9 L342.2,152.1 L343.5,152.1 L343.5,152.4 L344.9,152.4 L344.9,152.1 L346.3,152.1 L346.3,152.1 L347.7,152.1 L347.7,151.9 L349.0,151.9 L349.0,151.0 L350.4,151.0 L350.4,151.5 L352.3,151.5 L352.3,152.9 L353.7,152.9 L353.7,152.7 L355.0,152.7 L355.0,152.6 L356.4,152.6 L356.4,153.2 L357.8,153.2 L357.8,152.7 L359.2,152.7 L359.2,153.5 L360.5,153.5 L360.5,153.3 L361.9,153.3 L361.9,152.9 L362.9,152.9 L362.9,154.2 L363.8,154.2 L363.8,155.8 L365.2,155.8 L365.2,155.9 L366.5,155.9 L366.5,155.6 L367.9,155.6 L367.9,155.5 L369.2,155.5 L369.2,156.0 L370.6,156.0 L370.6,155.8 L371.6,155.8 L371.6,154.7 L372.5,154.7 L372.5,152.9 L373.8,152.9 L373.8,153.4 L375.2,153.4 L375.2,153.4 L376.5,153.4 L376.5,152.2 L377.9,152.2 L377.9,152.2 L379.2,152.2 L379.2,152.9 L380.2,152.9 L380.2,153.8 L381.2,153.8 L381.2,154.6 L383.0,154.6 L383.0,153.0 L384.6,153.0 L384.6,153.6 L386.2,153.6 L386.2,154.9 L387.7,154.9 L387.7,154.1 L389.2,154.1 L389.2,152.6 L390.8,152.6 L390.8,152.7 L392.3,152.7 L392.3,152.3 L393.8,152.3 L393.8,153.2 L395.4,153.2 L395.4,152.6 L396.9,152.6 L396.9,152.1 L398.5,152.1 L398.5,150.3 L400.4,150.3 L400.4,149.5 L402.3,149.5 L402.3,149.8 L403.1,149.8 L403.1,147.9 L403.9,147.9 L403.9,146.9 L404.6,146.9 L404.6,146.5 L405.4,146.5 L405.4,144.9 L406.0,144.9 L406.0,143.0 L406.6,143.0 L406.6,141.9 L407.3,141.9 L407.3,141.8 L407.9,141.8 L407.9,139.7 L408.5,139.7 L408.5,138.8 L408.6,138.8 L408.6,137.3 L408.6,137.3 L408.6,135.7 L408.7,135.7 L408.7,134.1 L408.8,134.1 L408.8,132.9 L408.9,132.9 L408.9,131.8 L408.9,131.8 L408.9,130.5 L409.0,130.5 L409.0,128.5 L409.1,128.5 L409.1,127.8 L409.1,127.8 L409.1,126.8 L409.2,126.8 L409.2,124.9 L409.3,124.9 L409.3,124.2 L409.5,124.2 L409.5,122.1 L409.6,122.1 L409.6,121.2 L409.8,121.2 L409.8,119.5 L409.9,119.5 L409.9,117.7 L410.1,117.7 L410.1,116.2 L410.2,116.2 L410.2,114.6 L410.4,114.6 L410.4,114.1 L410.5,114.1 L410.5,112.8 L410.7,112.8 L410.7,111.5 L410.8,111.5 L410.8,109.5 L410.9,109.5 L410.9,108.3 L411.0,108.3 L411.0,106.3 L411.1,106.3 L411.1,105.6 L411.2,105.6 L411.2,103.6 L411.3,103.6 L411.3,102.6 L411.5,102.6 L411.5,101.7 L411.6,101.7 L411.6,99.8 L411.7,99.8 L411.7,98.7 L411.8,98.7 L411.8,97.3 L411.9,97.3 L411.9,95.5 L412.0,95.5 L412.0,94.2 L412.1,94.2 L412.1,93.3 L412.1,93.3 L412.1,91.1 L412.2,91.1 L412.2,90.3 L412.3,90.3 L412.3,89.2 L412.3,89.2 L412.3,87.8 L412.4,87.8 L412.4,85.4 L412.5,85.4 L412.5,84.4 L412.5,84.4 L412.5,83.6 L412.6,83.6 L412.6,82.0 L412.6,82.0 L412.6,80.3 L412.7,80.3 L412.7,79.3 L412.8,79.3 L412.8,77.8 L412.8,77.8 L412.8,76.1 L412.9,76.1 L412.9,75.6 L413.0,75.6 L413.0,73.9 L413.0,73.9 L413.0,73.0 L413.1,73.0 L413.1,71.1 L413.2,71.1 L413.2,69.8 L413.2,69.8 L413.2,68.8 L413.3,68.8 L413.3,67.8 L413.4,67.8 L413.4,65.4 L413.4,65.4 L413.4,64.5 L413.5,64.5 L413.5,63.0 L413.5,63.0 L413.5,61.6 L413.6,61.6 L413.6,60.6 L413.7,60.6 L413.7,59.4 L413.7,59.4 L413.7,58.3 L413.8,58.3 L413.8,56.5 L415.7,56.5 L415.7,55.7 L415.8,55.7 L415.8,56.7 L415.9,56.7 L415.9,58.8 L416.0,58.8 L416.0,59.9 L416.1,59.9 L416.1,61.2 L416.1,61.2 L416.1,63.0 L416.2,63.0 L416.2,64.3 L416.3,64.3 L416.3,66.0 L416.4,66.0 L416.4,66.8 L416.5,66.8 L416.5,67.7 L416.6,67.7 L416.6,69.5 L416.7,69.5 L416.7,70.8 L416.8,70.8 L416.8,72.9 L416.9,72.9 L416.9,74.4 L417.0,74.4 L417.0,74.8 L417.1,74.8 L417.1,76.3 L417.3,76.3 L417.3,77.8 L417.4,77.8 L417.4,79.1 L417.5,79.1 L417.5,80.3 L417.6,80.3 L417.6,81.4 L417.7,81.4 L417.7,83.4 L417.8,83.4 L417.8,84.3 L417.9,84.3 L417.9,85.6 L417.9,85.6 L417.9,87.0 L418.0,87.0 L418.0,89.3 L418.1,89.3 L418.1,90.2 L418.2,90.2 L418.2,91.8 L418.2,91.8 L418.2,92.2 L418.3,92.2 L418.3,94.3 L418.4,94.3 L418.4,95.4 L418.5,95.4 L418.5,96.8 L418.6,96.8 L418.6,98.4 L418.6,98.4 L418.6,98.9 L418.7,98.9 L418.7,100.5 L418.8,100.5 L418.8,101.8 L418.9,101.8 L418.9,102.6 L419.1,102.6 L419.1,104.7 L419.2,104.7 L419.2,106.6 L419.3,106.6 L419.3,107.5 L419.5,107.5 L419.5,108.2 L419.6,108.2 L419.6,110.3 L419.8,110.3 L419.8,112.2 L419.9,112.2 L419.9,112.7 L420.0,112.7 L420.0,114.3 L420.2,114.3 L420.2,115.9 L420.3,115.9 L420.3,117.2 L420.4,117.2 L420.4,118.3 L420.4,118.3 L420.4,120.0 L420.5,120.0 L420.5,121.3 L420.6,121.3 L420.6,122.4 L420.6,122.4 L420.6,123.3 L420.7,123.3 L420.7,125.1 L420.8,125.1 L420.8,126.1 L420.9,126.1 L420.9,127.1 L420.9,127.1 L420.9,129.0 L421.0,129.0 L421.0,130.6 L421.1,130.6 L421.1,132.1 L421.1,132.1 L421.1,133.2 L421.2,133.2 L421.2,134.2 L421.3,134.2 L421.3,136.1 L421.5,136.1 L421.5,136.9 L421.6,136.9 L421.6,138.1 L421.8,138.1 L421.8,139.8 L421.9,139.8 L421.9,141.2 L422.0,141.2 L422.0,142.8 L422.2,142.8 L422.2,143.6 L422.3,143.6 L422.3,144.9 L422.7,144.9 L422.7,145.5 L423.1,145.5 L423.1,147.2 L423.5,147.2 L423.5,148.2 L423.8,148.2 L423.8,150.7 L424.2,150.7 L424.2,151.0 L424.6,151.0 L424.6,152.6 L426.9,152.6 L426.9,153.8 L427.7,153.8 L427.7,154.6 L428.4,154.6 L428.4,155.9 L429.2,155.9 L429.2,157.2 L430.5,157.2 L430.5,157.1 L431.8,157.1 L431.8,157.3 L433.1,157.3 L433.1,157.1 L434.4,157.1 L434.4,157.1 L435.7,157.1 L435.7,157.1 L437.1,157.1 L437.1,157.3 L438.4,157.3 L438.4,157.2 L439.7,157.2 L439.7,157.4 L441.0,157.4 L441.0,157.2 L442.3,157.2 L442.3,157.0 L443.6,157.0 L443.6,157.0 L444.9,157.0 L444.9,157.0 L446.2,157.0 L446.2,157.1 L447.5,157.1 L447.5,157.2 L448.8,157.2 L448.8,157.3 L450.1,157.3 L450.1,157.0 L451.5,157.0 L451.5,157.1 L452.8,157.1 L452.8,157.4 L454.1,157.4 L454.1,157.1 L455.4,157.1 L455.4,157.3 L456.7,157.3 L456.7,157.2 L458.0,157.2 L458.0,157.2" fill="none" stroke="#050505" stroke-width="1.4" stroke-linejoin="round"/>
<line x1="283.0" y1="54.9" x2="287.5" y2="54.9" stroke="#050505" stroke-width="1.2" />
<line x1="284.9" y1="60.1" x2="287.5" y2="60.1" stroke="#050505" stroke-width="1.2" />
<line x1="284.9" y1="65.3" x2="287.5" y2="65.3" stroke="#050505" stroke-width="1.2" />
<line x1="284.9" y1="70.5" x2="287.5" y2="70.5" stroke="#050505" stroke-width="1.2" />
<line x1="283.0" y1="75.7" x2="287.5" y2="75.7" stroke="#050505" stroke-width="1.2" />
<line x1="284.9" y1="80.9" x2="287.5" y2="80.9" stroke="#050505" stroke-width="1.2" />
<line x1="284.9" y1="86.1" x2="287.5" y2="86.1" stroke="#050505" stroke-width="1.2" />
<line x1="284.9" y1="91.3" x2="287.5" y2="91.3" stroke="#050505" stroke-width="1.2" />
<line x1="283.0" y1="96.5" x2="287.5" y2="96.5" stroke="#050505" stroke-width="1.2" />
<line x1="284.9" y1="101.7" x2="287.5" y2="101.7" stroke="#050505" stroke-width="1.2" />
<line x1="284.9" y1="106.9" x2="287.5" y2="106.9" stroke="#050505" stroke-width="1.2" />
<line x1="284.9" y1="112.1" x2="287.5" y2="112.1" stroke="#050505" stroke-width="1.2" />
<line x1="283.0" y1="117.30000000000001" x2="287.5" y2="117.30000000000001" stroke="#050505" stroke-width="1.2" />
<line x1="284.9" y1="122.5" x2="287.5" y2="122.5" stroke="#050505" stroke-width="1.2" />
<line x1="284.9" y1="127.69999999999999" x2="287.5" y2="127.69999999999999" stroke="#050505" stroke-width="1.2" />
<line x1="284.9" y1="132.9" x2="287.5" y2="132.9" stroke="#050505" stroke-width="1.2" />
<line x1="283.0" y1="138.1" x2="287.5" y2="138.1" stroke="#050505" stroke-width="1.2" />
<line x1="284.9" y1="143.3" x2="287.5" y2="143.3" stroke="#050505" stroke-width="1.2" />
<line x1="284.9" y1="148.5" x2="287.5" y2="148.5" stroke="#050505" stroke-width="1.2" />
<line x1="284.9" y1="153.7" x2="287.5" y2="153.7" stroke="#050505" stroke-width="1.2" />
<line x1="283.0" y1="158.9" x2="287.5" y2="158.9" stroke="#050505" stroke-width="1.2" />
<line x1="287.5" y1="159.6" x2="287.5" y2="162.4" stroke="#050505" stroke-width="1.1" />
<line x1="317.6706896551724" y1="159.6" x2="317.6706896551724" y2="162.4" stroke="#050505" stroke-width="1.1" />
<line x1="328.4810344827586" y1="159.6" x2="328.4810344827586" y2="162.4" stroke="#050505" stroke-width="1.1" />
<line x1="359.92931034482757" y1="159.6" x2="359.92931034482757" y2="162.4" stroke="#050505" stroke-width="1.1" />
<line x1="371.62413793103445" y1="159.6" x2="371.62413793103445" y2="162.4" stroke="#050505" stroke-width="1.1" />
<line x1="402.18793103448274" y1="159.6" x2="402.18793103448274" y2="162.4" stroke="#050505" stroke-width="1.1" />
<line x1="415.1603448275862" y1="159.6" x2="415.1603448275862" y2="162.4" stroke="#050505" stroke-width="1.1" />
<line x1="443.56206896551726" y1="159.6" x2="443.56206896551726" y2="162.4" stroke="#050505" stroke-width="1.1" />
<line x1="456.4362068965517" y1="159.6" x2="456.4362068965517" y2="162.4" stroke="#050505" stroke-width="1.1" />
<rect x="287.5" y="51" width="171.0" height="108.6" fill="none" stroke="#1a1a1a" stroke-width="1.35"/>
<path d="M288.0,274.9 L288.0,260.4 L289.6,260.4 L289.6,261.8 L291.2,261.8 L291.2,262.0 L291.5,262.0 L291.5,261.0 L291.9,261.0 L291.9,259.2 L292.2,259.2 L292.2,258.1 L292.5,258.1 L292.5,256.9 L292.8,256.9 L292.8,255.0 L293.2,255.0 L293.2,254.7 L293.5,254.7 L293.5,252.7 L293.7,252.7 L293.7,252.0 L294.0,252.0 L294.0,249.5 L294.2,249.5 L294.2,248.5 L294.4,248.5 L294.4,246.6 L294.6,246.6 L294.6,245.9 L294.9,245.9 L294.9,244.8 L295.1,244.8 L295.1,242.5 L295.3,242.5 L295.3,241.0 L295.6,241.0 L295.6,240.2 L295.8,240.2 L295.8,238.8 L296.1,238.8 L296.1,237.9 L296.3,237.9 L296.3,235.5 L296.6,235.5 L296.6,234.5 L296.8,234.5 L296.8,233.0 L297.1,233.0 L297.1,231.8 L297.3,231.8 L297.3,231.2 L297.6,231.2 L297.6,229.7 L297.8,229.7 L297.8,228.3 L298.1,228.3 L298.1,226.5 L298.3,226.5 L298.3,225.2 L298.4,225.2 L298.4,224.4 L298.6,224.4 L298.6,222.5 L298.8,222.5 L298.8,220.8 L298.9,220.8 L298.9,220.0 L299.1,220.0 L299.1,219.3 L299.2,219.3 L299.2,217.3 L299.4,217.3 L299.4,216.7 L299.6,216.7 L299.6,215.3 L299.7,215.3 L299.7,213.2 L299.9,213.2 L299.9,211.9 L300.1,211.9 L300.1,210.9 L300.2,210.9 L300.2,209.4 L300.4,209.4 L300.4,208.1 L300.5,208.1 L300.5,206.8 L300.7,206.8 L300.7,205.7 L300.8,205.7 L300.8,204.4 L300.9,204.4 L300.9,202.2 L301.1,202.2 L301.1,200.6 L301.2,200.6 L301.2,200.1 L301.4,200.1 L301.4,198.2 L301.5,198.2 L301.5,197.3 L301.6,197.3 L301.6,194.9 L301.8,194.9 L301.8,194.2 L301.9,194.2 L301.9,192.7 L302.4,192.7 L302.4,191.4 L303.0,191.4 L303.0,189.1 L303.5,189.1 L303.5,188.1 L303.8,188.1 L303.8,186.7 L304.0,186.7 L304.0,185.7 L304.2,185.7 L304.2,183.7 L304.5,183.7 L304.5,182.7 L304.8,182.7 L304.8,182.0 L305.0,182.0 L305.0,180.4 L306.1,180.4 L306.1,178.6 L307.3,178.6 L307.3,177.3 L308.1,177.3 L308.1,176.0 L308.8,176.0 L308.8,174.6 L309.6,174.6 L309.6,172.7 L309.9,172.7 L309.9,173.8 L310.3,173.8 L310.3,174.7 L310.6,174.7 L310.6,176.5 L310.9,176.5 L310.9,178.1 L311.2,178.1 L311.2,178.8 L311.6,178.8 L311.6,180.8 L311.9,180.8 L311.9,181.9 L313.0,181.9 L313.0,180.9 L314.2,180.9 L314.2,180.4 L314.4,180.4 L314.4,182.4 L314.6,182.4 L314.6,183.7 L314.7,183.7 L314.7,185.0 L314.9,185.0 L314.9,185.8 L315.1,185.8 L315.1,187.3 L315.3,187.3 L315.3,188.7 L315.4,188.7 L315.4,189.7 L315.6,189.7 L315.6,191.5 L315.8,191.5 L315.8,192.7 L316.1,192.7 L316.1,194.6 L316.3,194.6 L316.3,195.6 L316.6,195.6 L316.6,196.8 L316.8,196.8 L316.8,198.0 L317.1,198.0 L317.1,199.8 L317.3,199.8 L317.3,200.4 L317.5,200.4 L317.5,201.3 L317.6,201.3 L317.6,203.5 L317.8,203.5 L317.8,204.1 L318.0,204.1 L318.0,205.7 L318.1,205.7 L318.1,207.2 L318.3,207.2 L318.3,208.4 L318.5,208.4 L318.5,210.1 L318.6,210.1 L318.6,210.3 L318.8,210.3 L318.8,212.1 L318.9,212.1 L318.9,213.1 L319.1,213.1 L319.1,214.7 L319.3,214.7 L319.3,216.4 L319.4,216.4 L319.4,217.8 L319.6,217.8 L319.6,218.8 L319.7,218.8 L319.7,220.0 L319.8,220.0 L319.8,220.8 L319.9,220.8 L319.9,223.4 L320.1,223.4 L320.1,224.5 L320.2,224.5 L320.2,225.7 L320.3,225.7 L320.3,227.0 L320.4,227.0 L320.4,227.4 L320.5,227.4 L320.5,228.7 L320.6,228.7 L320.6,230.4 L320.7,230.4 L320.7,232.0 L320.9,232.0 L320.9,234.0 L321.0,234.0 L321.0,234.8 L321.1,234.8 L321.1,235.5 L321.2,235.5 L321.2,237.3 L321.4,237.3 L321.4,238.8 L321.6,238.8 L321.6,239.5 L321.8,239.5 L321.8,241.7 L322.0,241.7 L322.0,242.3 L322.2,242.3 L322.2,244.7 L322.5,244.7 L322.5,245.7 L322.7,245.7 L322.7,246.8 L322.9,246.8 L322.9,249.2 L323.1,249.2 L323.1,249.3 L323.3,249.3 L323.3,251.5 L323.5,251.5 L323.5,252.7 L323.8,252.7 L323.8,254.7 L324.0,254.7 L324.0,255.3 L324.3,255.3 L324.3,256.9 L324.5,256.9 L324.5,258.2 L324.8,258.2 L324.8,258.9 L325.0,258.9 L325.0,261.4 L325.3,261.4 L325.3,262.3 L325.5,262.3 L325.5,263.7 L325.8,263.7 L325.8,265.0 L326.4,265.0 L326.4,266.5 L327.0,266.5 L327.0,267.6 L327.6,267.6 L327.6,268.1 L328.2,268.1 L328.2,270.3 L328.8,270.3 L328.8,271.2 L330.1,271.2 L330.1,272.1 L331.4,272.1 L331.4,272.9 L332.7,272.9 L332.7,273.5 L334.4,273.5 L334.4,273.8 L336.0,273.8 L336.0,274.3 L336.0,274.9" fill="#dddddd" stroke="none" stroke-width="1.5" stroke-linejoin="round"/>
<path d="M288.0,260.4 L289.6,260.4 L289.6,261.8 L291.2,261.8 L291.2,262.0 L291.5,262.0 L291.5,261.0 L291.9,261.0 L291.9,259.2 L292.2,259.2 L292.2,258.1 L292.5,258.1 L292.5,256.9 L292.8,256.9 L292.8,255.0 L293.2,255.0 L293.2,254.7 L293.5,254.7 L293.5,252.7 L293.7,252.7 L293.7,252.0 L294.0,252.0 L294.0,249.5 L294.2,249.5 L294.2,248.5 L294.4,248.5 L294.4,246.6 L294.6,246.6 L294.6,245.9 L294.9,245.9 L294.9,244.8 L295.1,244.8 L295.1,242.5 L295.3,242.5 L295.3,241.0 L295.6,241.0 L295.6,240.2 L295.8,240.2 L295.8,238.8 L296.1,238.8 L296.1,237.9 L296.3,237.9 L296.3,235.5 L296.6,235.5 L296.6,234.5 L296.8,234.5 L296.8,233.0 L297.1,233.0 L297.1,231.8 L297.3,231.8 L297.3,231.2 L297.6,231.2 L297.6,229.7 L297.8,229.7 L297.8,228.3 L298.1,228.3 L298.1,226.5 L298.3,226.5 L298.3,225.2 L298.4,225.2 L298.4,224.4 L298.6,224.4 L298.6,222.5 L298.8,222.5 L298.8,220.8 L298.9,220.8 L298.9,220.0 L299.1,220.0 L299.1,219.3 L299.2,219.3 L299.2,217.3 L299.4,217.3 L299.4,216.7 L299.6,216.7 L299.6,215.3 L299.7,215.3 L299.7,213.2 L299.9,213.2 L299.9,211.9 L300.1,211.9 L300.1,210.9 L300.2,210.9 L300.2,209.4 L300.4,209.4 L300.4,208.1 L300.5,208.1 L300.5,206.8 L300.7,206.8 L300.7,205.7 L300.8,205.7 L300.8,204.4 L300.9,204.4 L300.9,202.2 L301.1,202.2 L301.1,200.6 L301.2,200.6 L301.2,200.1 L301.4,200.1 L301.4,198.2 L301.5,198.2 L301.5,197.3 L301.6,197.3 L301.6,194.9 L301.8,194.9 L301.8,194.2 L301.9,194.2 L301.9,192.7 L302.4,192.7 L302.4,191.4 L303.0,191.4 L303.0,189.1 L303.5,189.1 L303.5,188.1 L303.8,188.1 L303.8,186.7 L304.0,186.7 L304.0,185.7 L304.2,185.7 L304.2,183.7 L304.5,183.7 L304.5,182.7 L304.8,182.7 L304.8,182.0 L305.0,182.0 L305.0,180.4 L306.1,180.4 L306.1,178.6 L307.3,178.6 L307.3,177.3 L308.1,177.3 L308.1,176.0 L308.8,176.0 L308.8,174.6 L309.6,174.6 L309.6,172.7 L309.9,172.7 L309.9,173.8 L310.3,173.8 L310.3,174.7 L310.6,174.7 L310.6,176.5 L310.9,176.5 L310.9,178.1 L311.2,178.1 L311.2,178.8 L311.6,178.8 L311.6,180.8 L311.9,180.8 L311.9,181.9 L313.0,181.9 L313.0,180.9 L314.2,180.9 L314.2,180.4 L314.4,180.4 L314.4,182.4 L314.6,182.4 L314.6,183.7 L314.7,183.7 L314.7,185.0 L314.9,185.0 L314.9,185.8 L315.1,185.8 L315.1,187.3 L315.3,187.3 L315.3,188.7 L315.4,188.7 L315.4,189.7 L315.6,189.7 L315.6,191.5 L315.8,191.5 L315.8,192.7 L316.1,192.7 L316.1,194.6 L316.3,194.6 L316.3,195.6 L316.6,195.6 L316.6,196.8 L316.8,196.8 L316.8,198.0 L317.1,198.0 L317.1,199.8 L317.3,199.8 L317.3,200.4 L317.5,200.4 L317.5,201.3 L317.6,201.3 L317.6,203.5 L317.8,203.5 L317.8,204.1 L318.0,204.1 L318.0,205.7 L318.1,205.7 L318.1,207.2 L318.3,207.2 L318.3,208.4 L318.5,208.4 L318.5,210.1 L318.6,210.1 L318.6,210.3 L318.8,210.3 L318.8,212.1 L318.9,212.1 L318.9,213.1 L319.1,213.1 L319.1,214.7 L319.3,214.7 L319.3,216.4 L319.4,216.4 L319.4,217.8 L319.6,217.8 L319.6,218.8 L319.7,218.8 L319.7,220.0 L319.8,220.0 L319.8,220.8 L319.9,220.8 L319.9,223.4 L320.1,223.4 L320.1,224.5 L320.2,224.5 L320.2,225.7 L320.3,225.7 L320.3,227.0 L320.4,227.0 L320.4,227.4 L320.5,227.4 L320.5,228.7 L320.6,228.7 L320.6,230.4 L320.7,230.4 L320.7,232.0 L320.9,232.0 L320.9,234.0 L321.0,234.0 L321.0,234.8 L321.1,234.8 L321.1,235.5 L321.2,235.5 L321.2,237.3 L321.4,237.3 L321.4,238.8 L321.6,238.8 L321.6,239.5 L321.8,239.5 L321.8,241.7 L322.0,241.7 L322.0,242.3 L322.2,242.3 L322.2,244.7 L322.5,244.7 L322.5,245.7 L322.7,245.7 L322.7,246.8 L322.9,246.8 L322.9,249.2 L323.1,249.2 L323.1,249.3 L323.3,249.3 L323.3,251.5 L323.5,251.5 L323.5,252.7 L323.8,252.7 L323.8,254.7 L324.0,254.7 L324.0,255.3 L324.3,255.3 L324.3,256.9 L324.5,256.9 L324.5,258.2 L324.8,258.2 L324.8,258.9 L325.0,258.9 L325.0,261.4 L325.3,261.4 L325.3,262.3 L325.5,262.3 L325.5,263.7 L325.8,263.7 L325.8,265.0 L326.4,265.0 L326.4,266.5 L327.0,266.5 L327.0,267.6 L327.6,267.6 L327.6,268.1 L328.2,268.1 L328.2,270.3 L328.8,270.3 L328.8,271.2 L330.1,271.2 L330.1,272.1 L331.4,272.1 L331.4,272.9 L332.7,272.9 L332.7,273.5 L334.4,273.5 L334.4,273.8 L336.0,273.8 L336.0,274.3" fill="none" stroke="#9a9a9a" stroke-width="1.1" stroke-linejoin="round"/>
<path d="M288.0,268.8 L289.1,268.8 L289.1,268.4 L290.1,268.4 L290.1,266.7 L291.2,266.7 L291.2,265.8 L291.9,265.8 L291.9,264.6 L292.7,264.6 L292.7,263.3 L293.4,263.3 L293.4,261.3 L294.2,261.3 L294.2,260.4 L294.7,260.4 L294.7,259.8 L295.1,259.8 L295.1,258.5 L295.6,258.5 L295.6,256.7 L296.0,256.7 L296.0,255.9 L296.5,255.9 L296.5,254.2 L296.8,254.2 L296.8,253.2 L297.2,253.2 L297.2,251.5 L297.5,251.5 L297.5,249.8 L297.8,249.8 L297.8,248.5 L298.1,248.5 L298.1,248.2 L298.5,248.2 L298.5,245.8 L298.8,245.8 L298.8,245.0 L298.9,245.0 L298.9,242.9 L299.1,242.9 L299.1,242.7 L299.2,242.7 L299.2,240.5 L299.4,240.5 L299.4,239.8 L299.5,239.8 L299.5,237.8 L299.7,237.8 L299.7,236.9 L299.8,236.9 L299.8,235.1 L300.0,235.1 L300.0,234.0 L300.1,234.0 L300.1,232.3 L300.3,232.3 L300.3,231.4 L300.4,231.4 L300.4,229.6 L300.7,229.6 L300.7,227.9 L301.1,227.9 L301.1,227.4 L301.4,227.4 L301.4,225.2 L301.7,225.2 L301.7,224.1 L302.0,224.1 L302.0,222.9 L302.4,222.9 L302.4,221.5 L302.7,221.5 L302.7,220.4 L302.9,220.4 L302.9,218.6 L303.1,218.6 L303.1,218.1 L303.3,218.1 L303.3,217.0 L303.4,217.0 L303.4,215.4 L303.6,215.4 L303.6,213.2 L303.8,213.2 L303.8,212.1 L304.0,212.1 L304.0,211.4 L304.2,211.4 L304.2,209.6 L304.7,209.6 L304.7,208.6 L305.3,208.6 L305.3,206.0 L305.8,206.0 L305.8,205.0 L305.9,205.0 L305.9,203.8 L306.0,203.8 L306.0,201.8 L306.0,201.8 L306.0,201.5 L306.1,201.5 L306.1,200.2 L306.2,200.2 L306.2,198.0 L306.3,198.0 L306.3,197.0 L306.3,197.0 L306.3,195.4 L306.4,195.4 L306.4,193.8 L306.5,193.8 L306.5,192.7 L306.7,192.7 L306.7,192.0 L306.9,192.0 L306.9,190.0 L307.1,190.0 L307.1,188.5 L307.3,188.5 L307.3,188.0 L307.5,188.0 L307.5,185.3 L307.7,185.3 L307.7,183.9 L307.9,183.9 L307.9,183.5 L308.1,183.5 L308.1,181.9 L308.3,181.9 L308.3,180.9 L308.5,180.9 L308.5,178.8 L308.7,178.8 L308.7,177.0 L308.9,177.0 L308.9,176.9 L309.1,176.9 L309.1,175.2 L309.3,175.2 L309.3,173.5 L309.6,173.5 L309.6,174.6 L309.9,174.6 L309.9,176.5 L310.1,176.5 L310.1,178.2 L310.4,178.2 L310.4,178.8 L311.1,178.8 L311.1,177.2 L311.9,177.2 L311.9,175.8 L312.3,175.8 L312.3,174.9 L312.6,174.9 L312.6,173.4 L313.0,173.4 L313.0,171.9 L314.2,171.9 L314.2,174.2 L315.5,174.2 L315.5,174.2 L315.5,174.2 L315.5,175.4 L315.6,175.4 L315.6,176.8 L315.6,176.8 L315.6,178.5 L315.7,178.5 L315.7,179.1 L315.7,179.1 L315.7,180.4 L315.8,180.4 L315.8,182.3 L315.8,182.3 L315.8,183.5 L317.3,183.5 L317.3,183.5 L317.4,183.5 L317.4,185.1 L317.4,185.1 L317.4,186.4 L317.5,186.4 L317.5,188.0 L317.5,188.0 L317.5,188.6 L317.6,188.6 L317.6,189.7 L317.7,189.7 L317.7,191.6 L317.7,191.6 L317.7,192.6 L317.8,192.6 L317.8,193.2 L317.9,193.2 L317.9,194.7 L317.9,194.7 L317.9,196.5 L318.0,196.5 L318.0,198.3 L318.0,198.3 L318.0,198.8 L318.1,198.8 L318.1,200.4 L319.6,200.4 L319.6,200.4 L319.7,200.4 L319.7,201.2 L319.8,201.2 L319.8,202.9 L319.9,202.9 L319.9,205.0 L320.1,205.0 L320.1,205.1 L320.2,205.1 L320.2,207.3 L320.3,207.3 L320.3,208.9 L320.4,208.9 L320.4,209.4 L320.5,209.4 L320.5,210.9 L320.6,210.9 L320.6,212.6 L320.7,212.6 L320.7,213.1 L320.9,213.1 L320.9,214.3 L321.0,214.3 L321.0,216.6 L321.1,216.6 L321.1,217.3 L321.2,217.3 L321.2,218.8 L321.3,218.8 L321.3,220.0 L321.5,220.0 L321.5,221.0 L321.6,221.0 L321.6,223.6 L321.7,223.6 L321.7,224.2 L321.9,224.2 L321.9,226.4 L322.0,226.4 L322.0,226.8 L322.2,226.8 L322.2,228.9 L322.3,228.9 L322.3,230.3 L322.4,230.3 L322.4,231.9 L322.6,231.9 L322.6,232.8 L322.7,232.8 L322.7,234.2 L322.9,234.2 L322.9,235.2 L323.2,235.2 L323.2,237.1 L323.4,237.1 L323.4,237.5 L323.7,237.5 L323.7,240.0 L323.9,240.0 L323.9,240.2 L324.2,240.2 L324.2,241.9 L324.3,241.9 L324.3,243.0 L324.4,243.0 L324.4,244.6 L324.6,244.6 L324.6,246.3 L324.7,246.3 L324.7,247.1 L324.8,247.1 L324.8,248.6 L324.9,248.6 L324.9,250.3 L325.1,250.3 L325.1,251.0 L325.2,251.0 L325.2,253.5 L325.3,253.5 L325.3,254.2 L325.6,254.2 L325.6,255.5 L325.9,255.5 L325.9,256.7 L326.2,256.7 L326.2,257.8 L326.4,257.8 L326.4,259.3 L326.7,259.3 L326.7,261.5 L327.0,261.5 L327.0,262.5 L327.3,262.5 L327.3,263.5 L327.8,263.5 L327.8,264.8 L328.2,264.8 L328.2,266.6 L328.7,266.6 L328.7,266.8 L329.1,266.8 L329.1,268.5 L329.6,268.5 L329.6,269.6 L331.1,269.6 L331.1,270.2 L332.7,270.2 L332.7,271.2 L333.7,271.2 L333.7,272.2 L334.8,272.2 L334.8,273.0 L335.8,273.0 L335.8,273.9 L337.1,273.9 L337.1,274.0 L338.4,274.0 L338.4,273.8 L339.8,273.8 L339.8,274.0 L341.1,274.0 L341.1,273.9 L342.4,273.9 L342.4,273.9 L343.7,273.9 L343.7,273.9 L345.0,273.9 L345.0,274.0 L346.3,274.0 L346.3,273.9 L347.7,273.9 L347.7,273.8 L349.0,273.8 L349.0,273.8 L350.3,273.8 L350.3,273.9 L351.6,273.9 L351.6,273.9 L352.9,273.9 L352.9,273.9 L354.2,273.9 L354.2,273.8 L355.6,273.8 L355.6,274.0 L356.9,274.0 L356.9,273.9 L358.2,273.9 L358.2,274.0 L359.5,274.0 L359.5,273.9 L360.8,273.9 L360.8,274.0 L362.2,274.0 L362.2,274.0 L363.5,274.0 L363.5,273.9 L364.8,273.9 L364.8,274.0 L366.1,274.0 L366.1,274.0 L367.4,274.0 L367.4,274.0 L368.7,274.0 L368.7,273.8 L370.1,273.8 L370.1,273.8 L371.4,273.8 L371.4,273.9 L372.7,273.9 L372.7,273.9 L374.0,273.9 L374.0,273.8 L375.3,273.8 L375.3,274.0 L376.6,274.0 L376.6,273.9 L378.0,273.9 L378.0,273.9 L379.3,273.9 L379.3,273.9 L380.6,273.9 L380.6,273.8 L381.9,273.8 L381.9,274.0 L383.2,274.0 L383.2,273.9 L384.6,273.9 L384.6,273.9 L385.9,273.9 L385.9,274.0 L387.2,274.0 L387.2,273.8 L388.5,273.8 L388.5,274.0 L389.8,274.0 L389.8,273.8 L391.1,273.8 L391.1,274.0 L392.5,274.0 L392.5,274.0 L393.8,274.0 L393.8,273.9 L395.1,273.9 L395.1,273.9 L396.4,273.9 L396.4,273.8 L397.7,273.8 L397.7,273.8 L399.0,273.8 L399.0,273.8 L400.4,273.8 L400.4,273.8 L401.7,273.8 L401.7,273.8 L403.0,273.8 L403.0,273.9 L404.0,273.9 L404.0,272.6 L405.0,272.6 L405.0,271.5 L406.3,271.5 L406.3,271.4 L407.7,271.4 L407.7,270.9 L409.0,270.9 L409.0,270.8 L410.5,270.8 L410.5,270.7 L412.0,270.7 L412.0,271.5 L413.0,271.5 L413.0,272.5 L414.0,272.5 L414.0,273.9 L415.3,273.9 L415.3,273.9 L416.7,273.9 L416.7,273.9 L418.0,273.9 L418.0,273.9 L419.3,273.9 L419.3,273.9 L420.7,273.9 L420.7,273.8 L422.0,273.8 L422.0,273.9 L423.3,273.9 L423.3,274.0 L424.7,274.0 L424.7,273.8 L426.0,273.8 L426.0,274.0 L427.3,274.0 L427.3,273.9 L428.7,273.9 L428.7,273.8 L430.0,273.8 L430.0,273.9 L431.3,273.9 L431.3,273.9 L432.7,273.9 L432.7,274.0 L434.0,274.0 L434.0,274.0 L435.3,274.0 L435.3,273.9 L436.7,273.9 L436.7,274.0 L438.0,274.0 L438.0,273.9 L439.3,273.9 L439.3,274.0 L440.7,274.0 L440.7,274.0 L442.0,274.0 L442.0,273.8 L443.3,273.8 L443.3,274.0 L444.7,274.0 L444.7,273.9 L446.0,273.9 L446.0,273.8 L447.3,273.8 L447.3,273.9 L448.7,273.9 L448.7,274.0 L450.0,274.0 L450.0,273.9 L451.3,273.9 L451.3,273.9 L452.7,273.9 L452.7,273.9 L454.0,273.9 L454.0,273.9 L455.3,273.9 L455.3,273.9 L456.7,273.9 L456.7,274.0 L458.0,274.0 L458.0,273.9" fill="none" stroke="#050505" stroke-width="1.4" stroke-linejoin="round"/>
<line x1="283.0" y1="171.8" x2="287.5" y2="171.8" stroke="#050505" stroke-width="1.2" />
<line x1="284.9" y1="177.0" x2="287.5" y2="177.0" stroke="#050505" stroke-width="1.2" />
<line x1="284.9" y1="182.20000000000002" x2="287.5" y2="182.20000000000002" stroke="#050505" stroke-width="1.2" />
<line x1="284.9" y1="187.4" x2="287.5" y2="187.4" stroke="#050505" stroke-width="1.2" />
<line x1="283.0" y1="192.60000000000002" x2="287.5" y2="192.60000000000002" stroke="#050505" stroke-width="1.2" />
<line x1="284.9" y1="197.8" x2="287.5" y2="197.8" stroke="#050505" stroke-width="1.2" />
<line x1="284.9" y1="203.0" x2="287.5" y2="203.0" stroke="#050505" stroke-width="1.2" />
<line x1="284.9" y1="208.20000000000002" x2="287.5" y2="208.20000000000002" stroke="#050505" stroke-width="1.2" />
<line x1="283.0" y1="213.4" x2="287.5" y2="213.4" stroke="#050505" stroke-width="1.2" />
<line x1="284.9" y1="218.60000000000002" x2="287.5" y2="218.60000000000002" stroke="#050505" stroke-width="1.2" />
<line x1="284.9" y1="223.8" x2="287.5" y2="223.8" stroke="#050505" stroke-width="1.2" />
<line x1="284.9" y1="229.0" x2="287.5" y2="229.0" stroke="#050505" stroke-width="1.2" />
<line x1="283.0" y1="234.20000000000002" x2="287.5" y2="234.20000000000002" stroke="#050505" stroke-width="1.2" />
<line x1="284.9" y1="239.40000000000003" x2="287.5" y2="239.40000000000003" stroke="#050505" stroke-width="1.2" />
<line x1="284.9" y1="244.60000000000002" x2="287.5" y2="244.60000000000002" stroke="#050505" stroke-width="1.2" />
<line x1="284.9" y1="249.8" x2="287.5" y2="249.8" stroke="#050505" stroke-width="1.2" />
<line x1="283.0" y1="255.0" x2="287.5" y2="255.0" stroke="#050505" stroke-width="1.2" />
<line x1="284.9" y1="260.20000000000005" x2="287.5" y2="260.20000000000005" stroke="#050505" stroke-width="1.2" />
<line x1="284.9" y1="265.40000000000003" x2="287.5" y2="265.40000000000003" stroke="#050505" stroke-width="1.2" />
<line x1="284.9" y1="270.6" x2="287.5" y2="270.6" stroke="#050505" stroke-width="1.2" />
<line x1="283.0" y1="275.8" x2="287.5" y2="275.8" stroke="#050505" stroke-width="1.2" />
<line x1="287.5" y1="275.7" x2="287.5" y2="278.5" stroke="#050505" stroke-width="1.1" />
<line x1="317.6706896551724" y1="275.7" x2="317.6706896551724" y2="278.5" stroke="#050505" stroke-width="1.1" />
<line x1="328.4810344827586" y1="275.7" x2="328.4810344827586" y2="278.5" stroke="#050505" stroke-width="1.1" />
<line x1="359.92931034482757" y1="275.7" x2="359.92931034482757" y2="278.5" stroke="#050505" stroke-width="1.1" />
<line x1="371.62413793103445" y1="275.7" x2="371.62413793103445" y2="278.5" stroke="#050505" stroke-width="1.1" />
<line x1="402.18793103448274" y1="275.7" x2="402.18793103448274" y2="278.5" stroke="#050505" stroke-width="1.1" />
<line x1="415.1603448275862" y1="275.7" x2="415.1603448275862" y2="278.5" stroke="#050505" stroke-width="1.1" />
<line x1="443.56206896551726" y1="275.7" x2="443.56206896551726" y2="278.5" stroke="#050505" stroke-width="1.1" />
<line x1="456.4362068965517" y1="275.7" x2="456.4362068965517" y2="278.5" stroke="#050505" stroke-width="1.1" />
<rect x="287.5" y="167.5" width="171.0" height="108.19999999999999" fill="none" stroke="#1a1a1a" stroke-width="1.35"/>
<line x1="109.7" y1="104.6" x2="221.5" y2="104.6" stroke="#050505" stroke-width="1.3" />
<line x1="109.7" y1="102.0" x2="109.7" y2="107.19999999999999" stroke="#050505" stroke-width="1.3" />
<line x1="221.5" y1="102.0" x2="221.5" y2="107.19999999999999" stroke="#050505" stroke-width="1.3" />
<line x1="99" y1="221.9" x2="212" y2="221.9" stroke="#050505" stroke-width="1.3" />
<line x1="212" y1="219.3" x2="212" y2="224.5" stroke="#050505" stroke-width="1.3" />
<line x1="296" y1="102.8" x2="404.6" y2="102.8" stroke="#050505" stroke-width="1.3" />
<line x1="296" y1="100.2" x2="296" y2="105.39999999999999" stroke="#050505" stroke-width="1.3" />
<line x1="404.6" y1="100.2" x2="404.6" y2="105.39999999999999" stroke="#050505" stroke-width="1.3" />
<line x1="287.5" y1="221.9" x2="397.6" y2="221.9" stroke="#050505" stroke-width="1.3" />
<line x1="397.6" y1="219.3" x2="397.6" y2="224.5" stroke="#050505" stroke-width="1.3" />
<text transform="translate(154.44,76.04) scale(1.7417,1)" font-size="16.61" fill="#000" ><tspan fill="#7d7d7d">81</tspan>/64</text>
<text transform="translate(141.85,210.74) scale(1.7756,1)" font-size="16.20" fill="#000" ><tspan fill="#7d7d7d">93</tspan>/98</text>
<text transform="translate(323.44,93.44) scale(1.6910,1)" font-size="16.48" fill="#000" ><tspan fill="#7d7d7d">38</tspan>/31</text>
<text transform="translate(324.73,212.24) scale(1.7647,1)" font-size="16.61" fill="#000" ><tspan fill="#7d7d7d">99</tspan>/99</text>
<line x1="82.3" y1="118.2" x2="82.3" y2="273.8" stroke="#050505" stroke-width="2.5" />
<line x1="99" y1="295.2" x2="239.8" y2="295.2" stroke="#050505" stroke-width="2.3" />
<line x1="306.4" y1="295.2" x2="451" y2="295.2" stroke="#050505" stroke-width="2.3" />
<text transform="translate(252.21,299.34) scale(1.0487,1)" font-size="15.96" fill="#000" ><tspan font-weight="bold">CFSE</tspan></text>
<rect x="168.1" y="307.9" width="18.8" height="18.5" fill="#929292" stroke="none" stroke-width="0"/>
<line x1="167.3" y1="339.9" x2="186.2" y2="339.9" stroke="#050505" stroke-width="3.8" />
<text transform="translate(196.88,323.49) scale(1.0286,1)" font-size="16.89" fill="#000" >pre-treatment: PBS</text>
<text transform="translate(198.68,345.43) scale(1.0106,1)" font-size="17.22" fill="#000" >pre-treatment: CD28-SA</text>
<text transform="translate(-0.01,385.10) scale(0.9543,1)" font-size="30.93" fill="#000" ><tspan font-weight="bold">C</tspan></text>
<text transform="translate(163.50,406.15) scale(1.0214,1)" font-size="21.46" fill="#000" ><tspan font-weight="bold">day 3</tspan></text>
<line x1="87.3" y1="414.25" x2="87.3" y2="501.2" stroke="#050505" stroke-width="2.1" />
<line x1="82" y1="414.25" x2="87.3" y2="414.25" stroke="#050505" stroke-width="2.1" />
<line x1="82" y1="443.2" x2="87.3" y2="443.2" stroke="#050505" stroke-width="2.1" />
<line x1="82" y1="472.1" x2="87.3" y2="472.1" stroke="#050505" stroke-width="2.1" />
<line x1="82" y1="501" x2="87.3" y2="501" stroke="#050505" stroke-width="2.1" />
<line x1="87.3" y1="509.3" x2="87.3" y2="661" stroke="#050505" stroke-width="2.1" />
<line x1="82" y1="509.3" x2="87.3" y2="509.3" stroke="#050505" stroke-width="2.1" />
<line x1="82" y1="538" x2="87.3" y2="538" stroke="#050505" stroke-width="2.1" />
<line x1="82" y1="566.75" x2="87.3" y2="566.75" stroke="#050505" stroke-width="2.1" />
<line x1="82" y1="595.5" x2="87.3" y2="595.5" stroke="#050505" stroke-width="2.1" />
<line x1="82" y1="624.25" x2="87.3" y2="624.25" stroke="#050505" stroke-width="2.1" />
<line x1="82" y1="653" x2="87.3" y2="653" stroke="#050505" stroke-width="2.1" />
<line x1="82" y1="653" x2="277.5" y2="653" stroke="#050505" stroke-width="2.1" />
<line x1="135.0" y1="653" x2="135.0" y2="661" stroke="#050505" stroke-width="2.1" />
<line x1="182.1" y1="653" x2="182.1" y2="661" stroke="#050505" stroke-width="2.1" />
<line x1="229.4" y1="653" x2="229.4" y2="661" stroke="#050505" stroke-width="2.1" />
<line x1="276.8" y1="653" x2="276.8" y2="661" stroke="#050505" stroke-width="2.1" />
<text transform="translate(47.99,418.25) scale(1.0000,1)" font-size="16.70" fill="#000" >100</text>
<text transform="translate(57.28,446.55) scale(1.0000,1)" font-size="16.70" fill="#000" >80</text>
<text transform="translate(57.28,475.95) scale(1.0000,1)" font-size="16.70" fill="#000" >60</text>
<text transform="translate(57.28,502.15) scale(1.0000,1)" font-size="16.70" fill="#000" >40</text>
<text transform="translate(57.33,522.75) scale(1.0000,1)" font-size="16.70" fill="#000" >25</text>
<text transform="translate(57.28,544.95) scale(1.0000,1)" font-size="16.70" fill="#000" >20</text>
<text transform="translate(57.33,573.46) scale(1.0000,1)" font-size="16.70" fill="#000" >15</text>
<text transform="translate(57.28,601.95) scale(1.0000,1)" font-size="16.70" fill="#000" >10</text>
<text transform="translate(66.61,630.46) scale(1.0000,1)" font-size="16.70" fill="#000" >5</text>
<text transform="translate(66.56,659.55) scale(1.0000,1)" font-size="16.70" fill="#000" >0</text>
<rect x="97.2" y="482" width="14.099999999999994" height="20.5" fill="#fff" stroke="#050505" stroke-width="1.6"/>
<line x1="104.5" y1="482" x2="104.5" y2="431.3" stroke="#050505" stroke-width="1.6" />
<line x1="96.2" y1="431.3" x2="112.6" y2="431.3" stroke="#050505" stroke-width="2.0" />
<line x1="97.2" y1="510" x2="97.2" y2="653" stroke="#050505" stroke-width="1.6" />
<line x1="97.2" y1="510.2" x2="111.3" y2="510.2" stroke="#c8c8c8" stroke-width="1" />
<rect x="111.3" y="585" width="13.700000000000003" height="68" fill="#050505" stroke="#050505" stroke-width="1.6"/>
<line x1="111.3" y1="512" x2="111.3" y2="585" stroke="#050505" stroke-width="1.6" />
<line x1="117.6" y1="585" x2="117.6" y2="512.3" stroke="#050505" stroke-width="1.6" />
<line x1="111.2" y1="512.3" x2="126" y2="512.3" stroke="#050505" stroke-width="2.0" />
<rect x="145.6" y="616.8" width="13.900000000000006" height="36.200000000000045" fill="#fff" stroke="#050505" stroke-width="1.6"/>
<line x1="152.3" y1="616.8" x2="152.3" y2="588.2" stroke="#050505" stroke-width="1.6" />
<line x1="143.9" y1="588.2" x2="159.5" y2="588.2" stroke="#050505" stroke-width="2.0" />
<rect x="159.5" y="639.3" width="13.5" height="13.700000000000045" fill="#050505" stroke="#050505" stroke-width="1.6"/>
<line x1="166.2" y1="639.3" x2="166.2" y2="632.2" stroke="#050505" stroke-width="1.6" />
<line x1="159.5" y1="632.2" x2="173.1" y2="632.2" stroke="#050505" stroke-width="2.0" />
<rect x="191.4" y="614.6" width="13.799999999999983" height="38.39999999999998" fill="#fff" stroke="#050505" stroke-width="1.6"/>
<line x1="198.3" y1="614.6" x2="198.3" y2="579.6" stroke="#050505" stroke-width="1.6" />
<line x1="191.2" y1="579.6" x2="206" y2="579.6" stroke="#050505" stroke-width="2.0" />
<rect x="205.2" y="644.1" width="14.400000000000006" height="8.899999999999977" fill="#050505" stroke="#050505" stroke-width="1.6"/>
<line x1="211.6" y1="644.1" x2="211.6" y2="638.9" stroke="#050505" stroke-width="1.6" />
<line x1="204.9" y1="638.9" x2="219.8" y2="638.9" stroke="#050505" stroke-width="2.0" />
<rect x="239.4" y="604.3" width="13.599999999999994" height="48.700000000000045" fill="#fff" stroke="#050505" stroke-width="1.6"/>
<line x1="246.3" y1="604.3" x2="246.3" y2="524.4" stroke="#050505" stroke-width="1.6" />
<line x1="238.8" y1="524.4" x2="254.3" y2="524.4" stroke="#050505" stroke-width="2.0" />
<rect x="253" y="646.1" width="13.899999999999977" height="6.899999999999977" fill="#050505" stroke="#050505" stroke-width="1.6"/>
<line x1="258.8" y1="646.1" x2="258.8" y2="635.1" stroke="#050505" stroke-width="1.6" />
<line x1="252.2" y1="635.1" x2="267.3" y2="635.1" stroke="#050505" stroke-width="2.0" />
<text transform="translate(93.64,424.34) scale(1.1160,1)" font-size="16.24" fill="#000" ><tspan font-style="italic">P</tspan>=.006</text>
<text transform="translate(131.55,579.84) scale(1.0738,1)" font-size="16.53" fill="#000" ><tspan font-style="italic">P</tspan>=.04</text>
<text transform="translate(175.34,559.04) scale(1.1275,1)" font-size="16.24" fill="#000" ><tspan font-style="italic">P</tspan>=.03</text>
<text transform="translate(229.14,512.94) scale(1.1048,1)" font-size="16.53" fill="#000" ><tspan font-style="italic">P</tspan>=.3</text>
<text transform="translate(119.20,708.61) rotate(-90) scale(1.0183,1)" font-size="20.71" fill="#000" ><tspan font-weight="bold">Spl</tspan></text>
<text transform="translate(167.30,716.41) rotate(-90) scale(1.0061,1)" font-size="21.22" fill="#000" ><tspan font-weight="bold">mLN</tspan></text>
<text transform="translate(218.25,713.30) rotate(-90) scale(0.9892,1)" font-size="21.44" fill="#000" ><tspan font-weight="bold">pLN</tspan></text>
<text transform="translate(262.50,714.17) rotate(-90) scale(1.0035,1)" font-size="20.97" fill="#000" ><tspan font-weight="bold">liver</tspan></text>
<text transform="translate(32.40,570.84) rotate(-90) scale(1.0613,1)" font-size="20.14" fill="#000" ><tspan font-weight="bold">cell#/ 10</tspan></text>
<text transform="translate(25.50,488.24) rotate(-90) scale(1.2695,1)" font-size="12.50" fill="#000" ><tspan font-weight="bold">4</tspan></text>
<text transform="translate(283.59,385.20) scale(0.9646,1)" font-size="31.11" fill="#000" ><tspan font-weight="bold">D</tspan></text>
<text transform="translate(402.70,405.68) scale(1.0491,1)" font-size="20.81" fill="#000" ><tspan font-weight="bold">day 6</tspan></text>
<line x1="327.6" y1="405" x2="327.6" y2="495.5" stroke="#050505" stroke-width="2.1" />
<line x1="321.5" y1="405" x2="327.6" y2="405" stroke="#050505" stroke-width="2.1" />
<line x1="321.5" y1="435.3" x2="327.6" y2="435.3" stroke="#050505" stroke-width="2.1" />
<line x1="321.5" y1="465.4" x2="327.6" y2="465.4" stroke="#050505" stroke-width="2.1" />
<line x1="321.5" y1="495.3" x2="327.6" y2="495.3" stroke="#050505" stroke-width="2.1" />
<line x1="327.6" y1="503.8" x2="327.6" y2="662" stroke="#050505" stroke-width="2.1" />
<line x1="321.5" y1="503.8" x2="327.6" y2="503.8" stroke="#050505" stroke-width="2.1" />
<line x1="321.5" y1="533.6" x2="327.6" y2="533.6" stroke="#050505" stroke-width="2.1" />
<line x1="321.5" y1="563.6" x2="327.6" y2="563.6" stroke="#050505" stroke-width="2.1" />
<line x1="321.5" y1="593.6" x2="327.6" y2="593.6" stroke="#050505" stroke-width="2.1" />
<line x1="321.5" y1="623.5" x2="327.6" y2="623.5" stroke="#050505" stroke-width="2.1" />
<line x1="321.5" y1="653.3" x2="327.6" y2="653.3" stroke="#050505" stroke-width="2.1" />
<line x1="321.5" y1="653.2" x2="516.2" y2="653.2" stroke="#050505" stroke-width="2.1" />
<line x1="375.0" y1="653.2" x2="375.0" y2="662" stroke="#050505" stroke-width="2.1" />
<line x1="422.2" y1="653.2" x2="422.2" y2="662" stroke="#050505" stroke-width="2.1" />
<line x1="469.1" y1="653.2" x2="469.1" y2="662" stroke="#050505" stroke-width="2.1" />
<line x1="516.2" y1="653.2" x2="516.2" y2="662" stroke="#050505" stroke-width="2.1" />
<text transform="translate(287.41,411.66) scale(1.0000,1)" font-size="17.30" fill="#000" >600</text>
<text transform="translate(287.41,442.06) scale(1.0000,1)" font-size="17.30" fill="#000" >450</text>
<text transform="translate(287.41,472.46) scale(1.0000,1)" font-size="17.30" fill="#000" >300</text>
<text transform="translate(287.41,495.36) scale(1.0000,1)" font-size="17.30" fill="#000" >150</text>
<text transform="translate(287.41,515.86) scale(1.0000,1)" font-size="17.30" fill="#000" >150</text>
<text transform="translate(287.41,539.26) scale(1.0000,1)" font-size="17.30" fill="#000" >120</text>
<text transform="translate(297.03,569.26) scale(1.0000,1)" font-size="17.30" fill="#000" >90</text>
<text transform="translate(297.03,599.26) scale(1.0000,1)" font-size="17.30" fill="#000" >60</text>
<text transform="translate(297.03,629.26) scale(1.0000,1)" font-size="17.30" fill="#000" >30</text>
<text transform="translate(306.65,659.26) scale(1.0000,1)" font-size="17.30" fill="#000" >0</text>
<rect x="336.9" y="488.8" width="14.0" height="6.399999999999977" fill="#fff" stroke="#050505" stroke-width="1.6"/>
<line x1="335.6" y1="486.4" x2="350.6" y2="486.4" stroke="#050505" stroke-width="2" />
<line x1="337.6" y1="486.4" x2="337.6" y2="488.8" stroke="#050505" stroke-width="1.4" />
<rect x="350.9" y="464.3" width="13.100000000000023" height="31.899999999999977" fill="#050505" stroke="#050505" stroke-width="1.6"/>
<line x1="356.4" y1="464.3" x2="356.4" y2="429.4" stroke="#050505" stroke-width="1.6" />
<line x1="348.9" y1="429.4" x2="363.9" y2="429.4" stroke="#050505" stroke-width="2.0" />
<rect x="337.3" y="505.6" width="13.599999999999966" height="147.60000000000002" fill="#fff" stroke="#050505" stroke-width="1.6"/>
<rect x="350.9" y="505.6" width="13.5" height="147.60000000000002" fill="#050505" stroke="#050505" stroke-width="1.6"/>
<rect x="384.6" y="559.6" width="13.5" height="93.60000000000002" fill="#fff" stroke="#050505" stroke-width="1.6"/>
<line x1="391.8" y1="559.6" x2="391.8" y2="515.2" stroke="#050505" stroke-width="1.6" />
<line x1="383.8" y1="515.2" x2="400" y2="515.2" stroke="#050505" stroke-width="2.0" />
<rect x="398.1" y="616.3" width="13.299999999999955" height="36.90000000000009" fill="#050505" stroke="#050505" stroke-width="1.6"/>
<line x1="406.3" y1="616.3" x2="406.3" y2="602.1" stroke="#050505" stroke-width="1.6" />
<line x1="400" y1="602.1" x2="413" y2="602.1" stroke="#050505" stroke-width="2.0" />
<rect x="431.9" y="601.5" width="13.700000000000045" height="51.700000000000045" fill="#fff" stroke="#050505" stroke-width="1.6"/>
<line x1="438.8" y1="601.5" x2="438.8" y2="597.7" stroke="#050505" stroke-width="1.6" />
<line x1="430.6" y1="597.7" x2="446.3" y2="597.7" stroke="#050505" stroke-width="2.0" />
<rect x="445.6" y="644.4" width="14.199999999999989" height="8.800000000000068" fill="#050505" stroke="#050505" stroke-width="1.6"/>
<line x1="452.7" y1="644.4" x2="452.7" y2="641" stroke="#050505" stroke-width="1.6" />
<line x1="445.6" y1="641" x2="460.4" y2="641" stroke="#050505" stroke-width="2.0" />
<rect x="480.4" y="568.4" width="12.5" height="84.80000000000007" fill="#fff" stroke="#050505" stroke-width="1.6"/>
<line x1="485.8" y1="568.4" x2="485.8" y2="530.4" stroke="#050505" stroke-width="1.6" />
<line x1="478.5" y1="530.4" x2="493.8" y2="530.4" stroke="#050505" stroke-width="2.0" />
<rect x="492.9" y="578.5" width="13.400000000000034" height="74.70000000000005" fill="#050505" stroke="#050505" stroke-width="1.6"/>
<line x1="499.1" y1="578.5" x2="499.1" y2="557.8" stroke="#050505" stroke-width="1.6" />
<line x1="492" y1="557.8" x2="507.3" y2="557.8" stroke="#050505" stroke-width="2.0" />
<text transform="translate(330.24,418.94) scale(1.1407,1)" font-size="15.96" fill="#000" ><tspan font-style="italic">P</tspan>=.3</text>
<text transform="translate(374.95,505.10) scale(1.0808,1)" font-size="16.42" fill="#000" ><tspan font-style="italic">P</tspan>=.1</text>
<text transform="translate(432.10,565.80) scale(1.2125,1)" font-size="15.99" fill="#000" ><tspan font-style="italic">P</tspan>=</text>
<text transform="translate(419.65,586.36) scale(1.1418,1)" font-size="14.83" fill="#000" >.0001</text>
<text transform="translate(469.27,515.80) scale(1.0799,1)" font-size="15.99" fill="#000" ><tspan font-style="italic">P</tspan>=.7</text>
<text transform="translate(359.58,708.71) rotate(-90) scale(1.0164,1)" font-size="20.81" fill="#000" ><tspan font-weight="bold">Spl</tspan></text>
<text transform="translate(407.60,716.41) rotate(-90) scale(1.0201,1)" font-size="20.93" fill="#000" ><tspan font-weight="bold">mLN</tspan></text>
<text transform="translate(458.96,713.30) rotate(-90) scale(0.9690,1)" font-size="21.89" fill="#000" ><tspan font-weight="bold">pLN</tspan></text>
<text transform="translate(502.50,714.17) rotate(-90) scale(1.0035,1)" font-size="20.97" fill="#000" ><tspan font-weight="bold">liver</tspan></text>
<rect x="374.2" y="427.7" width="17.8" height="18" fill="#fff" stroke="#858585" stroke-width="1.6"/>
<rect x="374.3" y="456.9" width="17.3" height="16.9" fill="#000"/>
<text transform="translate(398.58,446.00) scale(1.0249,1)" font-size="20.76" fill="#000" ><tspan font-weight="bold">PBS</tspan></text>
<text transform="translate(398.31,474.78) scale(0.9746,1)" font-size="22.32" fill="#000" ><tspan font-weight="bold">CD28-SA</tspan></text>
<text transform="translate(-0.33,762.50) scale(0.9348,1)" font-size="32.41" fill="#000" ><tspan font-weight="bold">E</tspan></text>
<text transform="translate(55.02,822.32) rotate(-90) scale(0.9188,1)" font-size="18.57" fill="#000" ><tspan font-weight="bold">% max</tspan></text>
<line x1="50.3" y1="833.6" x2="50.3" y2="874.6" stroke="#050505" stroke-width="2.5" />
<path d="M66.7,874.3 L66.7,873.0 L68.0,873.0 L68.0,873.0 L69.4,873.0 L69.4,873.1 L70.7,873.1 L70.7,873.1 L72.1,873.1 L72.1,873.1 L73.4,873.1 L73.4,873.1 L74.8,873.1 L74.8,873.1 L76.1,873.1 L76.1,872.9 L77.5,872.9 L77.5,873.0 L78.8,873.0 L78.8,873.1 L80.2,873.1 L80.2,873.0 L81.5,873.0 L81.5,873.1 L82.8,873.1 L82.8,872.9 L84.2,872.9 L84.2,873.0 L85.5,873.0 L85.5,872.9 L86.9,872.9 L86.9,873.0 L88.2,873.0 L88.2,873.0 L89.6,873.0 L89.6,872.9 L90.9,872.9 L90.9,872.9 L92.3,872.9 L92.3,872.9 L93.6,872.9 L93.6,873.0 L94.0,873.0 L94.0,871.9 L94.4,871.9 L94.4,870.6 L94.7,870.6 L94.7,868.7 L95.1,868.7 L95.1,868.2 L95.5,868.2 L95.5,866.0 L95.9,866.0 L95.9,865.3 L96.2,865.3 L96.2,863.3 L96.6,863.3 L96.6,861.8 L97.0,861.8 L97.0,861.8 L97.4,861.8 L97.4,859.5 L97.7,859.5 L97.7,858.2 L98.1,858.2 L98.1,858.0 L98.5,858.0 L98.5,856.0 L98.8,856.0 L98.8,855.2 L99.0,855.2 L99.0,853.0 L99.3,853.0 L99.3,852.6 L99.6,852.6 L99.6,850.6 L99.9,850.6 L99.9,849.5 L100.1,849.5 L100.1,847.4 L100.4,847.4 L100.4,847.1 L100.7,847.1 L100.7,845.4 L100.9,845.4 L100.9,844.4 L101.2,844.4 L101.2,843.0 L101.5,843.0 L101.5,840.8 L101.8,840.8 L101.8,839.5 L102.0,839.5 L102.0,837.9 L102.3,837.9 L102.3,837.0 L102.4,837.0 L102.4,835.1 L102.5,835.1 L102.5,833.6 L102.5,833.6 L102.5,832.6 L102.6,832.6 L102.6,831.6 L102.7,831.6 L102.7,829.4 L102.8,829.4 L102.8,829.0 L102.8,829.0 L102.8,827.1 L102.9,827.1 L102.9,825.7 L103.0,825.7 L103.0,825.1 L103.0,825.1 L103.0,823.2 L103.1,823.2 L103.1,821.6 L103.2,821.6 L103.2,820.5 L103.3,820.5 L103.3,819.4 L103.3,819.4 L103.3,817.1 L103.4,817.1 L103.4,817.0 L103.5,817.0 L103.5,815.0 L103.8,815.0 L103.8,812.9 L104.0,812.9 L104.0,812.5 L104.2,812.5 L104.2,811.2 L104.5,811.2 L104.5,808.7 L104.8,808.7 L104.8,808.3 L105.0,808.3 L105.0,806.5 L105.1,806.5 L105.1,804.9 L105.2,804.9 L105.2,803.8 L105.4,803.8 L105.4,801.7 L105.5,801.7 L105.5,800.3 L105.6,800.3 L105.6,799.2 L105.7,799.2 L105.7,798.9 L105.8,798.9 L105.8,796.4 L106.0,796.4 L106.0,795.8 L106.1,795.8 L106.1,794.7 L106.2,794.7 L106.2,792.7 L106.4,792.7 L106.4,792.0 L106.5,792.0 L106.5,789.9 L106.7,789.9 L106.7,788.6 L106.8,788.6 L106.8,787.5 L107.0,787.5 L107.0,786.5 L107.1,786.5 L107.1,784.3 L107.3,784.3 L107.3,783.5 L107.5,783.5 L107.5,782.4 L107.7,782.4 L107.7,781.1 L107.9,781.1 L107.9,779.8 L108.1,779.8 L108.1,777.2 L108.4,777.2 L108.4,777.1 L108.6,777.1 L108.6,774.5 L108.8,774.5 L108.8,773.4 L109.0,773.4 L109.0,772.4 L109.2,772.4 L109.2,770.8 L111.2,770.8 L111.2,770.8 L111.3,770.8 L111.3,772.7 L111.3,772.7 L111.3,773.2 L111.4,773.2 L111.4,775.3 L111.5,775.3 L111.5,776.0 L111.6,776.0 L111.6,777.4 L111.7,777.4 L111.7,778.4 L111.8,778.4 L111.8,779.7 L111.9,779.7 L111.9,780.9 L111.9,780.9 L111.9,782.1 L112.0,782.1 L112.0,783.5 L112.1,783.5 L112.1,785.6 L112.2,785.6 L112.2,787.4 L112.3,787.4 L112.3,788.0 L113.5,788.0 L113.5,787.0 L114.0,787.0 L114.0,785.1 L114.6,785.1 L114.6,784.2 L115.4,784.2 L115.4,786.0 L115.7,786.0 L115.7,786.8 L116.0,786.8 L116.0,789.6 L116.2,789.6 L116.2,790.5 L116.5,790.5 L116.5,791.9 L116.9,791.9 L116.9,793.1 L117.3,793.1 L117.3,794.3 L117.7,794.3 L117.7,796.0 L118.1,796.0 L118.1,797.8 L118.4,797.8 L118.4,799.8 L118.8,799.8 L118.8,801.0 L119.3,801.0 L119.3,802.3 L119.9,802.3 L119.9,803.6 L120.4,803.6 L120.4,805.0 L121.2,805.0 L121.2,805.9 L121.9,805.9 L121.9,808.0 L124.2,808.0 L124.2,806.9 L125.4,806.9 L125.4,808.8 L126.5,808.8 L126.5,810.4 L126.6,810.4 L126.6,809.7 L126.6,809.7 L126.6,807.1 L126.7,807.1 L126.7,806.4 L126.8,806.4 L126.8,805.6 L126.9,805.6 L126.9,803.2 L126.9,803.2 L126.9,802.8 L127.0,802.8 L127.0,801.7 L127.1,801.7 L127.1,800.0 L127.2,800.0 L127.2,798.9 L127.2,798.9 L127.2,796.6 L127.3,796.6 L127.3,795.8 L128.8,795.8 L128.8,795.0 L129.0,795.0 L129.0,796.4 L129.1,796.4 L129.1,797.6 L129.3,797.6 L129.3,800.1 L129.4,800.1 L129.4,800.9 L129.6,800.9 L129.6,802.7 L129.8,802.7 L129.8,801.2 L129.9,801.2 L129.9,800.6 L130.1,800.6 L130.1,799.0 L130.2,799.0 L130.2,797.8 L130.4,797.8 L130.4,795.7 L130.6,795.7 L130.6,794.3 L130.7,794.3 L130.7,793.3 L130.9,793.3 L130.9,791.6 L131.0,791.6 L131.0,789.9 L131.2,789.9 L131.2,788.8 L131.7,788.8 L131.7,787.4 L132.2,787.4 L132.2,785.8 L132.7,785.8 L132.7,785.0 L133.4,785.0 L133.4,783.3 L134.2,783.3 L134.2,781.9 L135.4,781.9 L135.4,784.0 L135.5,784.0 L135.5,786.2 L135.7,786.2 L135.7,787.6 L135.8,787.6 L135.8,788.6 L135.9,788.6 L135.9,789.9 L136.1,789.9 L136.1,791.1 L136.2,791.1 L136.2,792.8 L137.7,792.8 L137.7,792.8 L138.1,792.8 L138.1,790.3 L138.5,790.3 L138.5,789.0 L140.0,789.0 L140.0,791.0 L140.1,791.0 L140.1,792.0 L140.3,792.0 L140.3,794.0 L140.4,794.0 L140.4,795.5 L140.5,795.5 L140.5,796.1 L140.7,796.1 L140.7,798.0 L140.8,798.0 L140.8,798.9 L142.3,798.9 L142.3,798.9 L142.3,798.9 L142.3,798.0 L142.3,798.0 L142.3,796.5 L142.4,796.5 L142.4,795.2 L142.4,795.2 L142.4,794.0 L142.4,794.0 L142.4,792.1 L142.4,792.1 L142.4,791.3 L142.5,791.3 L142.5,789.4 L142.5,789.4 L142.5,788.3 L142.5,788.3 L142.5,787.4 L142.5,787.4 L142.5,786.0 L142.6,786.0 L142.6,784.1 L142.6,784.1 L142.6,783.7 L142.6,783.7 L142.6,782.0 L142.6,782.0 L142.6,780.5 L142.7,780.5 L142.7,778.4 L142.7,778.4 L142.7,777.9 L142.7,777.9 L142.7,776.1 L142.7,776.1 L142.7,775.4 L142.8,775.4 L142.8,773.8 L142.8,773.8 L142.8,773.0 L142.8,773.0 L142.8,771.2 L144.6,771.2 L144.6,771.2 L144.7,771.2 L144.7,772.8 L144.8,772.8 L144.8,774.5 L144.9,774.5 L144.9,775.3 L145.1,775.3 L145.1,777.1 L145.2,777.1 L145.2,778.7 L145.3,778.7 L145.3,780.2 L145.4,780.2 L145.4,781.2 L146.9,781.2 L146.9,781.9 L148.5,781.9 L148.5,783.0 L149.2,783.0 L149.2,785.0 L150.0,785.0 L150.0,786.0 L150.2,786.0 L150.2,787.8 L150.5,787.8 L150.5,788.8 L150.7,788.8 L150.7,790.5 L150.9,790.5 L150.9,791.8 L151.2,791.8 L151.2,792.5 L151.4,792.5 L151.4,793.8 L151.6,793.8 L151.6,794.6 L151.8,794.6 L151.8,796.8 L152.1,796.8 L152.1,798.2 L152.3,798.2 L152.3,798.9 L153.5,798.9 L153.5,798.9 L153.6,798.9 L153.6,797.6 L153.6,797.6 L153.6,796.5 L153.7,796.5 L153.7,795.3 L153.8,795.3 L153.8,794.0 L153.8,794.0 L153.8,791.9 L153.9,791.9 L153.9,791.4 L154.0,791.4 L154.0,789.8 L154.1,789.8 L154.1,788.7 L154.1,788.7 L154.1,787.0 L154.2,787.0 L154.2,785.8 L154.4,785.8 L154.4,784.5 L154.6,784.5 L154.6,783.3 L154.8,783.3 L154.8,781.7 L155.1,781.7 L155.1,780.4 L155.3,780.4 L155.3,778.0 L155.5,778.0 L155.5,776.8 L155.7,776.8 L155.7,775.8 L155.9,775.8 L155.9,777.2 L156.0,777.2 L156.0,778.9 L156.2,778.9 L156.2,779.8 L156.4,779.8 L156.4,781.9 L156.6,781.9 L156.6,783.3 L156.7,783.3 L156.7,783.9 L156.9,783.9 L156.9,786.0 L157.4,786.0 L157.4,784.5 L157.8,784.5 L157.8,782.8 L158.3,782.8 L158.3,781.1 L158.7,781.1 L158.7,779.8 L159.2,779.8 L159.2,778.9 L159.5,778.9 L159.5,777.3 L159.8,777.3 L159.8,775.8 L160.0,775.8 L160.0,774.4 L160.3,774.4 L160.3,773.5 L160.6,773.5 L160.6,774.2 L160.9,774.2 L160.9,776.2 L161.2,776.2 L161.2,777.4 L161.5,777.4 L161.5,778.9 L163.8,778.9 L163.8,778.9 L164.2,778.9 L164.2,780.6 L164.6,780.6 L164.6,782.1 L165.0,782.1 L165.0,783.1 L165.4,783.1 L165.4,785.0 L167.7,785.0 L167.7,785.0 L167.9,785.0 L167.9,784.3 L168.1,784.3 L168.1,781.7 L168.3,781.7 L168.3,780.9 L168.6,780.9 L168.6,779.4 L168.8,779.4 L168.8,778.3 L169.0,778.3 L169.0,776.6 L169.2,776.6 L169.2,775.8 L170.0,775.8 L170.0,775.1 L170.8,775.1 L170.8,773.5 L171.0,773.5 L171.0,774.7 L171.3,774.7 L171.3,775.7 L171.5,775.7 L171.5,777.9 L171.8,777.9 L171.8,778.5 L172.0,778.5 L172.0,780.5 L172.3,780.5 L172.3,781.9 L172.5,781.9 L172.5,782.9 L172.8,782.9 L172.8,784.6 L173.0,784.6 L173.0,786.4 L173.3,786.4 L173.3,787.5 L173.5,787.5 L173.5,788.3 L173.8,788.3 L173.8,789.7 L174.3,789.7 L174.3,791.7 L174.9,791.7 L174.9,793.0 L175.4,793.0 L175.4,794.3 L175.7,794.3 L175.7,795.5 L176.0,795.5 L176.0,796.6 L176.3,796.6 L176.3,798.7 L176.6,798.7 L176.6,800.1 L176.9,800.1 L176.9,802.0 L177.2,802.0 L177.2,802.8 L177.4,802.8 L177.4,802.2 L177.6,802.2 L177.6,800.4 L177.9,800.4 L177.9,798.7 L178.1,798.7 L178.1,798.2 L178.3,798.2 L178.3,795.7 L178.5,795.7 L178.5,794.5 L178.8,794.5 L178.8,793.9 L179.0,793.9 L179.0,792.7 L179.2,792.7 L179.2,791.2 L180.0,791.2 L180.0,792.0 L180.7,792.0 L180.7,793.9 L181.5,793.9 L181.5,795.0 L182.3,795.0 L182.3,797.0 L183.1,797.0 L183.1,798.0 L183.2,798.0 L183.2,799.1 L183.3,799.1 L183.3,800.5 L183.5,800.5 L183.5,801.6 L183.6,801.6 L183.6,803.0 L183.7,803.0 L183.7,805.3 L183.8,805.3 L183.8,805.8 L183.9,805.8 L183.9,807.9 L184.1,807.9 L184.1,809.1 L184.2,809.1 L184.2,810.0 L184.3,810.0 L184.3,811.2 L184.6,811.2 L184.6,812.1 L184.9,812.1 L184.9,814.4 L185.2,814.4 L185.2,815.0 L185.6,815.0 L185.6,816.2 L185.9,816.2 L185.9,817.4 L186.2,817.4 L186.2,818.9 L186.7,818.9 L186.7,817.9 L187.2,817.9 L187.2,815.6 L187.7,815.6 L187.7,814.0 L188.0,814.0 L188.0,815.1 L188.4,815.1 L188.4,816.7 L188.7,816.7 L188.7,817.5 L189.0,817.5 L189.0,819.6 L189.3,819.6 L189.3,820.7 L189.7,820.7 L189.7,821.9 L190.0,821.9 L190.0,823.5 L190.3,823.5 L190.3,825.3 L190.6,825.3 L190.6,826.8 L190.9,826.8 L190.9,827.0 L191.2,827.0 L191.2,829.1 L191.5,829.1 L191.5,830.5 L192.7,830.5 L192.7,828.9 L193.8,828.9 L193.8,828.0 L195.0,828.0 L195.0,830.1 L196.2,830.1 L196.2,831.0 L196.7,831.0 L196.7,832.7 L197.1,832.7 L197.1,833.2 L197.6,833.2 L197.6,834.5 L198.0,834.5 L198.0,835.6 L198.5,835.6 L198.5,837.4 L200.0,837.4 L200.0,838.8 L200.6,838.8 L200.6,840.8 L201.3,840.8 L201.3,841.1 L201.9,841.1 L201.9,842.7 L203.4,842.7 L203.4,841.9 L204.8,841.9 L204.8,840.8 L205.3,840.8 L205.3,842.0 L205.7,842.0 L205.7,843.5 L206.2,843.5 L206.2,844.6 L206.4,844.6 L206.4,846.1 L206.6,846.1 L206.6,847.7 L206.8,847.7 L206.8,848.2 L207.1,848.2 L207.1,850.5 L207.3,850.5 L207.3,851.2 L207.5,851.2 L207.5,852.9 L207.7,852.9 L207.7,854.2 L208.7,854.2 L208.7,855.2 L209.6,855.2 L209.6,856.4 L210.6,856.4 L210.6,858.0 L211.6,858.0 L211.6,859.3 L212.5,859.3 L212.5,860.6 L213.5,860.6 L213.5,861.9 L214.4,861.9 L214.4,862.7 L215.4,862.7 L215.4,864.2 L216.3,864.2 L216.3,864.8 L217.9,864.8 L217.9,864.9 L219.6,864.9 L219.6,864.2 L221.2,864.2 L221.2,864.8 L221.9,864.8 L221.9,865.7 L222.6,865.7 L222.6,867.1 L223.3,867.1 L223.3,868.9 L224.0,868.9 L224.0,869.6 L225.2,869.6 L225.2,870.7 L226.4,870.7 L226.4,871.1 L227.6,871.1 L227.6,871.5 L228.8,871.5 L228.8,872.5 L230.2,872.5 L230.2,872.7 L231.7,872.7 L231.7,872.7 L233.2,872.7 L233.2,872.9 L234.6,872.9 L234.6,873.0 L234.6,874.3" fill="#dddddd" stroke="none" stroke-width="1.5" stroke-linejoin="round"/>
<path d="M66.7,873.0 L68.0,873.0 L68.0,873.0 L69.4,873.0 L69.4,873.1 L70.7,873.1 L70.7,873.1 L72.1,873.1 L72.1,873.1 L73.4,873.1 L73.4,873.1 L74.8,873.1 L74.8,873.1 L76.1,873.1 L76.1,872.9 L77.5,872.9 L77.5,873.0 L78.8,873.0 L78.8,873.1 L80.2,873.1 L80.2,873.0 L81.5,873.0 L81.5,873.1 L82.8,873.1 L82.8,872.9 L84.2,872.9 L84.2,873.0 L85.5,873.0 L85.5,872.9 L86.9,872.9 L86.9,873.0 L88.2,873.0 L88.2,873.0 L89.6,873.0 L89.6,872.9 L90.9,872.9 L90.9,872.9 L92.3,872.9 L92.3,872.9 L93.6,872.9 L93.6,873.0 L94.0,873.0 L94.0,871.9 L94.4,871.9 L94.4,870.6 L94.7,870.6 L94.7,868.7 L95.1,868.7 L95.1,868.2 L95.5,868.2 L95.5,866.0 L95.9,866.0 L95.9,865.3 L96.2,865.3 L96.2,863.3 L96.6,863.3 L96.6,861.8 L97.0,861.8 L97.0,861.8 L97.4,861.8 L97.4,859.5 L97.7,859.5 L97.7,858.2 L98.1,858.2 L98.1,858.0 L98.5,858.0 L98.5,856.0 L98.8,856.0 L98.8,855.2 L99.0,855.2 L99.0,853.0 L99.3,853.0 L99.3,852.6 L99.6,852.6 L99.6,850.6 L99.9,850.6 L99.9,849.5 L100.1,849.5 L100.1,847.4 L100.4,847.4 L100.4,847.1 L100.7,847.1 L100.7,845.4 L100.9,845.4 L100.9,844.4 L101.2,844.4 L101.2,843.0 L101.5,843.0 L101.5,840.8 L101.8,840.8 L101.8,839.5 L102.0,839.5 L102.0,837.9 L102.3,837.9 L102.3,837.0 L102.4,837.0 L102.4,835.1 L102.5,835.1 L102.5,833.6 L102.5,833.6 L102.5,832.6 L102.6,832.6 L102.6,831.6 L102.7,831.6 L102.7,829.4 L102.8,829.4 L102.8,829.0 L102.8,829.0 L102.8,827.1 L102.9,827.1 L102.9,825.7 L103.0,825.7 L103.0,825.1 L103.0,825.1 L103.0,823.2 L103.1,823.2 L103.1,821.6 L103.2,821.6 L103.2,820.5 L103.3,820.5 L103.3,819.4 L103.3,819.4 L103.3,817.1 L103.4,817.1 L103.4,817.0 L103.5,817.0 L103.5,815.0 L103.8,815.0 L103.8,812.9 L104.0,812.9 L104.0,812.5 L104.2,812.5 L104.2,811.2 L104.5,811.2 L104.5,808.7 L104.8,808.7 L104.8,808.3 L105.0,808.3 L105.0,806.5 L105.1,806.5 L105.1,804.9 L105.2,804.9 L105.2,803.8 L105.4,803.8 L105.4,801.7 L105.5,801.7 L105.5,800.3 L105.6,800.3 L105.6,799.2 L105.7,799.2 L105.7,798.9 L105.8,798.9 L105.8,796.4 L106.0,796.4 L106.0,795.8 L106.1,795.8 L106.1,794.7 L106.2,794.7 L106.2,792.7 L106.4,792.7 L106.4,792.0 L106.5,792.0 L106.5,789.9 L106.7,789.9 L106.7,788.6 L106.8,788.6 L106.8,787.5 L107.0,787.5 L107.0,786.5 L107.1,786.5 L107.1,784.3 L107.3,784.3 L107.3,783.5 L107.5,783.5 L107.5,782.4 L107.7,782.4 L107.7,781.1 L107.9,781.1 L107.9,779.8 L108.1,779.8 L108.1,777.2 L108.4,777.2 L108.4,777.1 L108.6,777.1 L108.6,774.5 L108.8,774.5 L108.8,773.4 L109.0,773.4 L109.0,772.4 L109.2,772.4 L109.2,770.8 L111.2,770.8 L111.2,770.8 L111.3,770.8 L111.3,772.7 L111.3,772.7 L111.3,773.2 L111.4,773.2 L111.4,775.3 L111.5,775.3 L111.5,776.0 L111.6,776.0 L111.6,777.4 L111.7,777.4 L111.7,778.4 L111.8,778.4 L111.8,779.7 L111.9,779.7 L111.9,780.9 L111.9,780.9 L111.9,782.1 L112.0,782.1 L112.0,783.5 L112.1,783.5 L112.1,785.6 L112.2,785.6 L112.2,787.4 L112.3,787.4 L112.3,788.0 L113.5,788.0 L113.5,787.0 L114.0,787.0 L114.0,785.1 L114.6,785.1 L114.6,784.2 L115.4,784.2 L115.4,786.0 L115.7,786.0 L115.7,786.8 L116.0,786.8 L116.0,789.6 L116.2,789.6 L116.2,790.5 L116.5,790.5 L116.5,791.9 L116.9,791.9 L116.9,793.1 L117.3,793.1 L117.3,794.3 L117.7,794.3 L117.7,796.0 L118.1,796.0 L118.1,797.8 L118.4,797.8 L118.4,799.8 L118.8,799.8 L118.8,801.0 L119.3,801.0 L119.3,802.3 L119.9,802.3 L119.9,803.6 L120.4,803.6 L120.4,805.0 L121.2,805.0 L121.2,805.9 L121.9,805.9 L121.9,808.0 L124.2,808.0 L124.2,806.9 L125.4,806.9 L125.4,808.8 L126.5,808.8 L126.5,810.4 L126.6,810.4 L126.6,809.7 L126.6,809.7 L126.6,807.1 L126.7,807.1 L126.7,806.4 L126.8,806.4 L126.8,805.6 L126.9,805.6 L126.9,803.2 L126.9,803.2 L126.9,802.8 L127.0,802.8 L127.0,801.7 L127.1,801.7 L127.1,800.0 L127.2,800.0 L127.2,798.9 L127.2,798.9 L127.2,796.6 L127.3,796.6 L127.3,795.8 L128.8,795.8 L128.8,795.0 L129.0,795.0 L129.0,796.4 L129.1,796.4 L129.1,797.6 L129.3,797.6 L129.3,800.1 L129.4,800.1 L129.4,800.9 L129.6,800.9 L129.6,802.7 L129.8,802.7 L129.8,801.2 L129.9,801.2 L129.9,800.6 L130.1,800.6 L130.1,799.0 L130.2,799.0 L130.2,797.8 L130.4,797.8 L130.4,795.7 L130.6,795.7 L130.6,794.3 L130.7,794.3 L130.7,793.3 L130.9,793.3 L130.9,791.6 L131.0,791.6 L131.0,789.9 L131.2,789.9 L131.2,788.8 L131.7,788.8 L131.7,787.4 L132.2,787.4 L132.2,785.8 L132.7,785.8 L132.7,785.0 L133.4,785.0 L133.4,783.3 L134.2,783.3 L134.2,781.9 L135.4,781.9 L135.4,784.0 L135.5,784.0 L135.5,786.2 L135.7,786.2 L135.7,787.6 L135.8,787.6 L135.8,788.6 L135.9,788.6 L135.9,789.9 L136.1,789.9 L136.1,791.1 L136.2,791.1 L136.2,792.8 L137.7,792.8 L137.7,792.8 L138.1,792.8 L138.1,790.3 L138.5,790.3 L138.5,789.0 L140.0,789.0 L140.0,791.0 L140.1,791.0 L140.1,792.0 L140.3,792.0 L140.3,794.0 L140.4,794.0 L140.4,795.5 L140.5,795.5 L140.5,796.1 L140.7,796.1 L140.7,798.0 L140.8,798.0 L140.8,798.9 L142.3,798.9 L142.3,798.9 L142.3,798.9 L142.3,798.0 L142.3,798.0 L142.3,796.5 L142.4,796.5 L142.4,795.2 L142.4,795.2 L142.4,794.0 L142.4,794.0 L142.4,792.1 L142.4,792.1 L142.4,791.3 L142.5,791.3 L142.5,789.4 L142.5,789.4 L142.5,788.3 L142.5,788.3 L142.5,787.4 L142.5,787.4 L142.5,786.0 L142.6,786.0 L142.6,784.1 L142.6,784.1 L142.6,783.7 L142.6,783.7 L142.6,782.0 L142.6,782.0 L142.6,780.5 L142.7,780.5 L142.7,778.4 L142.7,778.4 L142.7,777.9 L142.7,777.9 L142.7,776.1 L142.7,776.1 L142.7,775.4 L142.8,775.4 L142.8,773.8 L142.8,773.8 L142.8,773.0 L142.8,773.0 L142.8,771.2 L144.6,771.2 L144.6,771.2 L144.7,771.2 L144.7,772.8 L144.8,772.8 L144.8,774.5 L144.9,774.5 L144.9,775.3 L145.1,775.3 L145.1,777.1 L145.2,777.1 L145.2,778.7 L145.3,778.7 L145.3,780.2 L145.4,780.2 L145.4,781.2 L146.9,781.2 L146.9,781.9 L148.5,781.9 L148.5,783.0 L149.2,783.0 L149.2,785.0 L150.0,785.0 L150.0,786.0 L150.2,786.0 L150.2,787.8 L150.5,787.8 L150.5,788.8 L150.7,788.8 L150.7,790.5 L150.9,790.5 L150.9,791.8 L151.2,791.8 L151.2,792.5 L151.4,792.5 L151.4,793.8 L151.6,793.8 L151.6,794.6 L151.8,794.6 L151.8,796.8 L152.1,796.8 L152.1,798.2 L152.3,798.2 L152.3,798.9 L153.5,798.9 L153.5,798.9 L153.6,798.9 L153.6,797.6 L153.6,797.6 L153.6,796.5 L153.7,796.5 L153.7,795.3 L153.8,795.3 L153.8,794.0 L153.8,794.0 L153.8,791.9 L153.9,791.9 L153.9,791.4 L154.0,791.4 L154.0,789.8 L154.1,789.8 L154.1,788.7 L154.1,788.7 L154.1,787.0 L154.2,787.0 L154.2,785.8 L154.4,785.8 L154.4,784.5 L154.6,784.5 L154.6,783.3 L154.8,783.3 L154.8,781.7 L155.1,781.7 L155.1,780.4 L155.3,780.4 L155.3,778.0 L155.5,778.0 L155.5,776.8 L155.7,776.8 L155.7,775.8 L155.9,775.8 L155.9,777.2 L156.0,777.2 L156.0,778.9 L156.2,778.9 L156.2,779.8 L156.4,779.8 L156.4,781.9 L156.6,781.9 L156.6,783.3 L156.7,783.3 L156.7,783.9 L156.9,783.9 L156.9,786.0 L157.4,786.0 L157.4,784.5 L157.8,784.5 L157.8,782.8 L158.3,782.8 L158.3,781.1 L158.7,781.1 L158.7,779.8 L159.2,779.8 L159.2,778.9 L159.5,778.9 L159.5,777.3 L159.8,777.3 L159.8,775.8 L160.0,775.8 L160.0,774.4 L160.3,774.4 L160.3,773.5 L160.6,773.5 L160.6,774.2 L160.9,774.2 L160.9,776.2 L161.2,776.2 L161.2,777.4 L161.5,777.4 L161.5,778.9 L163.8,778.9 L163.8,778.9 L164.2,778.9 L164.2,780.6 L164.6,780.6 L164.6,782.1 L165.0,782.1 L165.0,783.1 L165.4,783.1 L165.4,785.0 L167.7,785.0 L167.7,785.0 L167.9,785.0 L167.9,784.3 L168.1,784.3 L168.1,781.7 L168.3,781.7 L168.3,780.9 L168.6,780.9 L168.6,779.4 L168.8,779.4 L168.8,778.3 L169.0,778.3 L169.0,776.6 L169.2,776.6 L169.2,775.8 L170.0,775.8 L170.0,775.1 L170.8,775.1 L170.8,773.5 L171.0,773.5 L171.0,774.7 L171.3,774.7 L171.3,775.7 L171.5,775.7 L171.5,777.9 L171.8,777.9 L171.8,778.5 L172.0,778.5 L172.0,780.5 L172.3,780.5 L172.3,781.9 L172.5,781.9 L172.5,782.9 L172.8,782.9 L172.8,784.6 L173.0,784.6 L173.0,786.4 L173.3,786.4 L173.3,787.5 L173.5,787.5 L173.5,788.3 L173.8,788.3 L173.8,789.7 L174.3,789.7 L174.3,791.7 L174.9,791.7 L174.9,793.0 L175.4,793.0 L175.4,794.3 L175.7,794.3 L175.7,795.5 L176.0,795.5 L176.0,796.6 L176.3,796.6 L176.3,798.7 L176.6,798.7 L176.6,800.1 L176.9,800.1 L176.9,802.0 L177.2,802.0 L177.2,802.8 L177.4,802.8 L177.4,802.2 L177.6,802.2 L177.6,800.4 L177.9,800.4 L177.9,798.7 L178.1,798.7 L178.1,798.2 L178.3,798.2 L178.3,795.7 L178.5,795.7 L178.5,794.5 L178.8,794.5 L178.8,793.9 L179.0,793.9 L179.0,792.7 L179.2,792.7 L179.2,791.2 L180.0,791.2 L180.0,792.0 L180.7,792.0 L180.7,793.9 L181.5,793.9 L181.5,795.0 L182.3,795.0 L182.3,797.0 L183.1,797.0 L183.1,798.0 L183.2,798.0 L183.2,799.1 L183.3,799.1 L183.3,800.5 L183.5,800.5 L183.5,801.6 L183.6,801.6 L183.6,803.0 L183.7,803.0 L183.7,805.3 L183.8,805.3 L183.8,805.8 L183.9,805.8 L183.9,807.9 L184.1,807.9 L184.1,809.1 L184.2,809.1 L184.2,810.0 L184.3,810.0 L184.3,811.2 L184.6,811.2 L184.6,812.1 L184.9,812.1 L184.9,814.4 L185.2,814.4 L185.2,815.0 L185.6,815.0 L185.6,816.2 L185.9,816.2 L185.9,817.4 L186.2,817.4 L186.2,818.9 L186.7,818.9 L186.7,817.9 L187.2,817.9 L187.2,815.6 L187.7,815.6 L187.7,814.0 L188.0,814.0 L188.0,815.1 L188.4,815.1 L188.4,816.7 L188.7,816.7 L188.7,817.5 L189.0,817.5 L189.0,819.6 L189.3,819.6 L189.3,820.7 L189.7,820.7 L189.7,821.9 L190.0,821.9 L190.0,823.5 L190.3,823.5 L190.3,825.3 L190.6,825.3 L190.6,826.8 L190.9,826.8 L190.9,827.0 L191.2,827.0 L191.2,829.1 L191.5,829.1 L191.5,830.5 L192.7,830.5 L192.7,828.9 L193.8,828.9 L193.8,828.0 L195.0,828.0 L195.0,830.1 L196.2,830.1 L196.2,831.0 L196.7,831.0 L196.7,832.7 L197.1,832.7 L197.1,833.2 L197.6,833.2 L197.6,834.5 L198.0,834.5 L198.0,835.6 L198.5,835.6 L198.5,837.4 L200.0,837.4 L200.0,838.8 L200.6,838.8 L200.6,840.8 L201.3,840.8 L201.3,841.1 L201.9,841.1 L201.9,842.7 L203.4,842.7 L203.4,841.9 L204.8,841.9 L204.8,840.8 L205.3,840.8 L205.3,842.0 L205.7,842.0 L205.7,843.5 L206.2,843.5 L206.2,844.6 L206.4,844.6 L206.4,846.1 L206.6,846.1 L206.6,847.7 L206.8,847.7 L206.8,848.2 L207.1,848.2 L207.1,850.5 L207.3,850.5 L207.3,851.2 L207.5,851.2 L207.5,852.9 L207.7,852.9 L207.7,854.2 L208.7,854.2 L208.7,855.2 L209.6,855.2 L209.6,856.4 L210.6,856.4 L210.6,858.0 L211.6,858.0 L211.6,859.3 L212.5,859.3 L212.5,860.6 L213.5,860.6 L213.5,861.9 L214.4,861.9 L214.4,862.7 L215.4,862.7 L215.4,864.2 L216.3,864.2 L216.3,864.8 L217.9,864.8 L217.9,864.9 L219.6,864.9 L219.6,864.2 L221.2,864.2 L221.2,864.8 L221.9,864.8 L221.9,865.7 L222.6,865.7 L222.6,867.1 L223.3,867.1 L223.3,868.9 L224.0,868.9 L224.0,869.6 L225.2,869.6 L225.2,870.7 L226.4,870.7 L226.4,871.1 L227.6,871.1 L227.6,871.5 L228.8,871.5 L228.8,872.5 L230.2,872.5 L230.2,872.7 L231.7,872.7 L231.7,872.7 L233.2,872.7 L233.2,872.9 L234.6,872.9 L234.6,873.0" fill="none" stroke="#9a9a9a" stroke-width="1.1" stroke-linejoin="round"/>
<path d="M66.7,872.8 L68.0,872.8 L68.0,871.6 L69.3,871.6 L69.3,871.6 L70.6,871.6 L70.6,871.0 L72.0,871.0 L72.0,871.0 L73.5,871.0 L73.5,871.0 L74.9,871.0 L74.9,871.0 L76.3,871.0 L76.3,871.0 L77.8,871.0 L77.8,871.0 L79.2,871.0 L79.2,871.0 L80.0,871.0 L80.0,870.0 L80.9,870.0 L80.9,868.9 L81.7,868.9 L81.7,868.1 L82.5,868.1 L82.5,866.7 L83.3,866.7 L83.3,866.1 L84.2,866.1 L84.2,865.1 L85.0,865.1 L85.0,863.8 L86.0,863.8 L86.0,862.7 L86.9,862.7 L86.9,861.9 L87.9,861.9 L87.9,861.1 L88.9,861.1 L88.9,859.6 L89.8,859.6 L89.8,859.0 L90.8,859.0 L90.8,858.0 L91.2,858.0 L91.2,857.0 L91.6,857.0 L91.6,855.1 L91.9,855.1 L91.9,854.3 L92.3,854.3 L92.3,852.8 L92.7,852.8 L92.7,851.6 L93.1,851.6 L93.1,849.8 L93.5,849.8 L93.5,848.2 L93.8,848.2 L93.8,847.6 L94.2,847.6 L94.2,846.2 L94.6,846.2 L94.6,844.6 L94.7,844.6 L94.7,843.2 L94.9,843.2 L94.9,841.5 L95.0,841.5 L95.0,840.3 L95.2,840.3 L95.2,839.4 L95.3,839.4 L95.3,837.7 L95.5,837.7 L95.5,837.0 L95.6,837.0 L95.6,835.3 L95.8,835.3 L95.8,833.5 L95.9,833.5 L95.9,832.7 L96.0,832.7 L96.0,831.0 L96.2,831.0 L96.2,830.2 L96.3,830.2 L96.3,828.9 L96.5,828.9 L96.5,827.1 L96.6,827.1 L96.6,825.9 L96.8,825.9 L96.8,824.6 L96.9,824.6 L96.9,823.4 L97.1,823.4 L97.1,822.2 L97.2,822.2 L97.2,819.9 L97.4,819.9 L97.4,818.9 L97.5,818.9 L97.5,817.7 L97.8,817.7 L97.8,816.5 L98.1,816.5 L98.1,814.8 L98.3,814.8 L98.3,813.7 L98.6,813.7 L98.6,811.9 L98.9,811.9 L98.9,811.3 L99.2,811.3 L99.2,809.6 L100.4,809.6 L100.4,807.3 L100.6,807.3 L100.6,805.8 L100.7,805.8 L100.7,803.8 L100.9,803.8 L100.9,802.8 L101.0,802.8 L101.0,801.0 L101.2,801.0 L101.2,799.6 L101.3,799.6 L101.3,797.9 L101.3,797.9 L101.3,796.9 L101.4,796.9 L101.4,795.2 L101.5,795.2 L101.5,794.2 L101.8,794.2 L101.8,792.4 L102.1,792.4 L102.1,791.5 L102.4,791.5 L102.4,789.7 L102.7,789.7 L102.7,788.0 L102.8,788.0 L102.8,786.0 L102.9,786.0 L102.9,785.2 L102.9,785.2 L102.9,783.0 L103.0,783.0 L103.0,781.8 L103.1,781.8 L103.1,780.4 L103.2,780.4 L103.2,779.3 L103.3,779.3 L103.3,777.6 L103.3,777.6 L103.3,775.8 L103.4,775.8 L103.4,774.4 L103.5,774.4 L103.5,773.0 L105.0,773.0 L105.0,772.7 L105.8,772.7 L105.8,775.0 L106.3,775.0 L106.3,776.2 L106.8,776.2 L106.8,777.3 L107.2,777.3 L107.2,779.5 L107.7,779.5 L107.7,780.4 L108.5,780.4 L108.5,781.5 L109.2,781.5 L109.2,783.5 L109.4,783.5 L109.4,784.8 L109.5,784.8 L109.5,786.5 L109.7,786.5 L109.7,787.5 L109.8,787.5 L109.8,789.5 L110.0,789.5 L110.0,790.4 L110.5,790.4 L110.5,791.4 L111.0,791.4 L111.0,793.4 L111.5,793.4 L111.5,794.2 L113.5,794.2 L113.5,795.8 L115.4,795.8 L115.4,796.5 L116.5,796.5 L116.5,795.8 L117.3,795.8 L117.3,794.2 L117.7,794.2 L117.7,796.0 L118.0,796.0 L118.0,797.3 L118.3,797.3 L118.3,798.9 L118.7,798.9 L118.7,800.0 L119.0,800.0 L119.0,801.6 L119.3,801.6 L119.3,803.7 L119.6,803.7 L119.6,805.0 L120.0,805.0 L120.0,806.7 L120.4,806.7 L120.4,807.8 L120.7,807.8 L120.7,809.2 L121.1,809.2 L121.1,810.8 L121.5,810.8 L121.5,812.0 L121.8,812.0 L121.8,813.3 L122.1,813.3 L122.1,814.4 L122.4,814.4 L122.4,816.5 L122.7,816.5 L122.7,817.7 L123.5,817.7 L123.5,818.7 L124.2,818.7 L124.2,820.3 L125.0,820.3 L125.0,821.8 L125.8,821.8 L125.8,822.5 L126.5,822.5 L126.5,823.6 L127.3,823.6 L127.3,825.4 L127.8,825.4 L127.8,826.3 L128.3,826.3 L128.3,828.1 L128.9,828.1 L128.9,829.1 L129.4,829.1 L129.4,830.3 L129.9,830.3 L129.9,831.8 L130.4,831.8 L130.4,833.6 L131.0,833.6 L131.0,834.2 L131.5,834.2 L131.5,835.6 L132.0,835.6 L132.0,837.0 L132.4,837.0 L132.4,838.7 L132.8,838.7 L132.8,839.7 L133.2,839.7 L133.2,840.6 L133.7,840.6 L133.7,842.1 L134.1,842.1 L134.1,843.4 L134.5,843.4 L134.5,844.3 L134.9,844.3 L134.9,845.8 L135.3,845.8 L135.3,847.0 L135.8,847.0 L135.8,848.8 L136.2,848.8 L136.2,849.6 L136.6,849.6 L136.6,851.2 L137.0,851.2 L137.0,852.3 L137.6,852.3 L137.6,854.0 L138.2,854.0 L138.2,855.1 L138.8,855.1 L138.8,855.8 L139.3,855.8 L139.3,857.3 L139.9,857.3 L139.9,858.2 L140.5,858.2 L140.5,859.5 L141.1,859.5 L141.1,860.8 L141.7,860.8 L141.7,862.0 L142.5,862.0 L142.5,863.4 L143.4,863.4 L143.4,864.6 L144.2,864.6 L144.2,865.0 L145.1,865.0 L145.1,865.9 L145.9,865.9 L145.9,867.3 L146.8,867.3 L146.8,868.2 L147.7,868.2 L147.7,869.4 L148.5,869.4 L148.5,870.6 L149.9,870.6 L149.9,870.7 L151.3,870.7 L151.3,870.7 L152.8,870.7 L152.8,870.9 L154.2,870.9 L154.2,871.0 L155.8,871.0 L155.8,871.4 L157.1,871.4 L157.1,871.4 L158.4,871.4 L158.4,871.4 L159.7,871.4 L159.7,871.4 L161.0,871.4 L161.0,871.4 L162.3,871.4 L162.3,871.4 L163.6,871.4 L163.6,871.4 L164.9,871.4 L164.9,871.4 L166.2,871.4 L166.2,871.4 L167.5,871.4 L167.5,871.4 L168.8,871.4 L168.8,871.4 L170.2,871.4 L170.2,871.4 L171.5,871.4 L171.5,871.4 L172.8,871.4 L172.8,871.4 L174.1,871.4 L174.1,871.4 L175.4,871.4 L175.4,871.4 L176.7,871.4 L176.7,871.4 L178.0,871.4 L178.0,871.4 L179.3,871.4 L179.3,871.4 L180.6,871.4 L180.6,871.4 L181.9,871.4 L181.9,871.4 L183.2,871.4 L183.2,871.4 L184.5,871.4 L184.5,871.4 L185.8,871.4 L185.8,871.4 L187.1,871.4 L187.1,871.4 L188.4,871.4 L188.4,871.4 L189.7,871.4 L189.7,871.4 L191.0,871.4 L191.0,871.4 L192.3,871.4 L192.3,871.4 L193.6,871.4 L193.6,871.4 L194.9,871.4 L194.9,871.4 L196.2,871.4 L196.2,871.4 L197.6,871.4 L197.6,871.4 L198.9,871.4 L198.9,871.4 L200.2,871.4 L200.2,871.4 L201.5,871.4 L201.5,871.4 L202.8,871.4 L202.8,871.4 L204.1,871.4 L204.1,871.4 L205.4,871.4 L205.4,871.4 L206.7,871.4 L206.7,871.4 L208.0,871.4 L208.0,871.4 L209.3,871.4 L209.3,871.4 L210.6,871.4 L210.6,871.4 L211.9,871.4 L211.9,871.4 L213.2,871.4 L213.2,871.4 L214.5,871.4 L214.5,871.4 L215.8,871.4 L215.8,871.4 L217.1,871.4 L217.1,871.4 L218.4,871.4 L218.4,871.4 L219.7,871.4 L219.7,871.4 L221.0,871.4 L221.0,871.4 L222.3,871.4 L222.3,871.4 L223.6,871.4 L223.6,871.4 L225.0,871.4 L225.0,871.4 L226.3,871.4 L226.3,871.4 L227.6,871.4 L227.6,871.4 L228.9,871.4 L228.9,871.4 L230.2,871.4 L230.2,871.4 L231.5,871.4 L231.5,871.4 L232.8,871.4 L232.8,871.4 L234.1,871.4 L234.1,871.4 L235.4,871.4 L235.4,871.4 L236.7,871.4 L236.7,871.4 L238.0,871.4 L238.0,871.4" fill="none" stroke="#050505" stroke-width="1.4" stroke-linejoin="round" stroke-dasharray="4,2.4"/>
<path d="M66.7,873.4 L68.0,873.4 L68.0,873.4 L69.3,873.4 L69.3,873.4 L70.6,873.4 L70.6,873.4 L72.0,873.4 L72.0,873.4 L73.3,873.4 L73.3,873.4 L74.6,873.4 L74.6,873.4 L75.9,873.4 L75.9,873.4 L77.2,873.4 L77.2,873.4 L78.5,873.4 L78.5,873.4 L79.9,873.4 L79.9,873.4 L81.2,873.4 L81.2,873.4 L82.5,873.4 L82.5,873.4 L83.8,873.4 L83.8,873.4 L85.1,873.4 L85.1,873.4 L86.4,873.4 L86.4,873.4 L87.8,873.4 L87.8,873.4 L89.1,873.4 L89.1,873.4 L90.4,873.4 L90.4,873.4 L91.7,873.4 L91.7,873.4 L92.3,873.4 L92.3,872.2 L92.9,872.2 L92.9,870.9 L93.5,870.9 L93.5,870.2 L94.1,870.2 L94.1,868.1 L94.7,868.1 L94.7,867.9 L95.3,867.9 L95.3,865.9 L95.9,865.9 L95.9,864.5 L96.5,864.5 L96.5,863.8 L96.7,863.8 L96.7,861.9 L97.0,861.9 L97.0,860.9 L97.2,860.9 L97.2,860.2 L97.5,860.2 L97.5,858.0 L97.7,858.0 L97.7,857.2 L97.9,857.2 L97.9,856.0 L98.2,856.0 L98.2,854.2 L98.4,854.2 L98.4,853.1 L98.7,853.1 L98.7,851.1 L98.9,851.1 L98.9,849.8 L99.1,849.8 L99.1,848.6 L99.4,848.6 L99.4,848.0 L99.6,848.0 L99.6,846.3 L99.9,846.3 L99.9,844.8 L100.1,844.8 L100.1,843.8 L100.3,843.8 L100.3,842.3 L100.6,842.3 L100.6,840.7 L100.8,840.7 L100.8,840.1 L101.1,840.1 L101.1,838.6 L101.3,838.6 L101.3,837.0 L101.5,837.0 L101.5,835.3 L101.8,835.3 L101.8,834.5 L102.0,834.5 L102.0,833.1 L102.3,833.1 L102.3,832.3 L102.5,832.3 L102.5,830.8 L102.8,830.8 L102.8,828.9 L103.0,828.9 L103.0,828.5 L103.3,828.5 L103.3,826.0 L103.5,826.0 L103.5,825.1 L103.8,825.1 L103.8,824.3 L104.0,824.3 L104.0,822.1 L104.3,822.1 L104.3,821.3 L104.5,821.3 L104.5,820.0 L104.8,820.0 L104.8,817.7 L105.1,817.7 L105.1,816.9 L105.4,816.9 L105.4,815.0 L105.6,815.0 L105.6,814.0 L105.8,814.0 L105.8,812.3 L106.1,812.3 L106.1,811.3 L106.3,811.3 L106.3,809.1 L106.5,809.1 L106.5,808.0 L106.7,808.0 L106.7,806.9 L106.8,806.9 L106.8,805.5 L107.0,805.5 L107.0,804.1 L107.1,804.1 L107.1,802.6 L107.2,802.6 L107.2,801.8 L107.4,801.8 L107.4,800.6 L107.5,800.6 L107.5,798.6 L107.7,798.6 L107.7,797.3 L107.9,797.3 L107.9,796.0 L108.0,796.0 L108.0,793.6 L108.2,793.6 L108.2,793.0 L108.3,793.0 L108.3,791.3 L108.5,791.3 L108.5,789.6 L109.0,789.6 L109.0,788.7 L109.6,788.7 L109.6,786.5 L110.0,786.5 L110.0,785.1 L110.4,785.1 L110.4,782.7 L110.6,782.7 L110.6,780.8 L110.8,780.8 L110.8,779.4 L111.1,779.4 L111.1,778.3 L111.3,778.3 L111.3,776.5 L111.5,776.5 L111.5,774.5 L111.8,774.5 L111.8,773.8 L112.0,773.8 L112.0,772.1 L112.3,772.1 L112.3,771.2 L112.5,771.2 L112.5,772.2 L112.6,772.2 L112.6,773.6 L112.8,773.6 L112.8,775.8 L113.8,775.8 L113.8,778.0 L114.3,778.0 L114.3,779.8 L114.8,779.8 L114.8,780.8 L116.2,780.8 L116.2,781.2 L116.3,781.2 L116.3,779.2 L116.5,779.2 L116.5,777.9 L116.6,777.9 L116.6,776.7 L116.7,776.7 L116.7,775.4 L117.7,775.4 L117.7,777.0 L118.0,777.0 L118.0,779.2 L118.2,779.2 L118.2,779.7 L118.5,779.7 L118.5,781.9 L118.5,781.9 L118.5,783.1 L118.5,783.1 L118.5,784.6 L118.5,784.6 L118.5,786.3 L118.5,786.3 L118.5,787.5 L118.6,787.5 L118.6,788.9 L118.6,788.9 L118.6,789.4 L118.6,789.4 L118.6,790.9 L118.6,790.9 L118.6,792.1 L118.6,792.1 L118.6,794.1 L118.6,794.1 L118.6,795.5 L118.6,795.5 L118.6,795.7 L118.7,795.7 L118.7,797.0 L118.7,797.0 L118.7,798.4 L118.7,798.4 L118.7,799.7 L118.7,799.7 L118.7,801.4 L118.7,801.4 L118.7,802.7 L119.6,802.7 L119.6,803.5 L120.4,803.5 L120.4,804.5 L120.8,804.5 L120.8,806.4 L121.2,806.4 L121.2,808.0 L122.7,808.0 L122.7,809.2 L124.2,809.2 L124.2,810.4 L125.0,810.4 L125.0,811.2 L125.8,811.2 L125.8,812.7 L126.5,812.7 L126.5,815.0 L126.6,815.0 L126.6,815.7 L126.7,815.7 L126.7,817.7 L126.7,817.7 L126.7,819.0 L126.8,819.0 L126.8,820.7 L126.9,820.7 L126.9,822.0 L128.5,822.0 L128.5,822.0 L130.0,822.0 L130.0,821.2 L131.2,821.2 L131.2,822.5 L132.3,822.5 L132.3,822.5 L132.8,822.5 L132.8,824.1 L133.3,824.1 L133.3,825.3 L133.8,825.3 L133.8,826.6 L134.3,826.6 L134.3,828.3 L134.9,828.3 L134.9,829.9 L135.4,829.9 L135.4,831.2 L135.8,831.2 L135.8,832.1 L136.2,832.1 L136.2,834.9 L136.5,834.9 L136.5,836.2 L136.9,836.2 L136.9,837.4 L137.7,837.4 L137.7,839.5 L138.5,839.5 L138.5,840.5 L139.3,840.5 L139.3,842.3 L140.0,842.3 L140.0,843.1 L140.8,843.1 L140.8,844.6 L141.4,844.6 L141.4,845.7 L142.1,845.7 L142.1,846.6 L142.7,846.6 L142.7,848.6 L143.3,848.6 L143.3,849.1 L144.0,849.1 L144.0,850.4 L144.6,850.4 L144.6,852.3 L145.2,852.3 L145.2,853.3 L145.8,853.3 L145.8,854.7 L146.4,854.7 L146.4,856.4 L147.0,856.4 L147.0,858.0 L148.7,858.0 L148.7,857.9 L150.4,857.9 L150.4,859.0 L152.1,859.0 L152.1,857.8 L153.8,857.8 L153.8,858.0 L155.2,858.0 L155.2,856.6 L156.7,856.6 L156.7,856.2 L157.7,856.2 L157.7,857.0 L158.7,857.0 L158.7,859.0 L160.1,859.0 L160.1,858.3 L161.5,858.3 L161.5,858.0 L162.9,858.0 L162.9,857.8 L164.4,857.8 L164.4,859.0 L165.0,859.0 L165.0,858.3 L165.7,858.3 L165.7,856.8 L166.3,856.8 L166.3,854.9 L166.9,854.9 L166.9,854.2 L167.4,854.2 L167.4,855.1 L167.8,855.1 L167.8,856.5 L168.3,856.5 L168.3,858.0 L169.8,858.0 L169.8,857.8 L171.2,857.8 L171.2,858.0 L172.5,858.0 L172.5,858.1 L173.7,858.1 L173.7,859.8 L175.0,859.8 L175.0,860.0 L176.3,860.0 L176.3,861.0 L177.5,861.0 L177.5,860.6 L178.8,860.6 L178.8,861.0 L180.1,861.0 L180.1,860.3 L181.4,860.3 L181.4,859.1 L182.7,859.1 L182.7,859.0 L184.0,859.0 L184.0,859.4 L185.2,859.4 L185.2,860.7 L186.5,860.7 L186.5,861.9 L187.8,861.9 L187.8,862.2 L189.1,862.2 L189.1,863.6 L190.4,863.6 L190.4,863.8 L191.8,863.8 L191.8,863.8 L193.3,863.8 L193.3,864.1 L194.8,864.1 L194.8,865.9 L196.2,865.9 L196.2,865.8 L197.6,865.8 L197.6,866.3 L199.1,866.3 L199.1,866.3 L200.5,866.3 L200.5,867.3 L201.9,867.3 L201.9,867.7 L203.3,867.7 L203.3,867.5 L204.8,867.5 L204.8,868.5 L206.2,868.5 L206.2,869.3 L207.7,869.3 L207.7,869.2 L209.3,869.2 L209.3,869.7 L210.9,869.7 L210.9,869.6 L212.5,869.6 L212.5,869.6 L213.4,869.6 L213.4,870.4 L214.4,870.4 L214.4,871.4 L215.4,871.4 L215.4,872.3 L216.3,872.3 L216.3,873.3 L217.7,873.3 L217.7,873.3 L219.0,873.3 L219.0,873.3 L220.4,873.3 L220.4,873.3 L221.7,873.3 L221.7,873.3 L223.1,873.3 L223.1,873.3 L224.4,873.3 L224.4,873.3 L225.8,873.3 L225.8,873.3 L227.2,873.3 L227.2,873.3 L228.5,873.3 L228.5,873.3 L229.9,873.3 L229.9,873.3 L231.2,873.3 L231.2,873.3 L232.6,873.3 L232.6,873.3 L233.9,873.3 L233.9,873.3 L235.3,873.3 L235.3,873.3 L236.6,873.3 L236.6,873.3 L238.0,873.3 L238.0,873.3" fill="none" stroke="#050505" stroke-width="1.5" stroke-linejoin="round"/>
<line x1="62.300000000000004" y1="770.7" x2="67.2" y2="770.7" stroke="#050505" stroke-width="1.1" />
<line x1="64.60000000000001" y1="774.8900000000001" x2="67.2" y2="774.8900000000001" stroke="#050505" stroke-width="1.1" />
<line x1="64.60000000000001" y1="779.08" x2="67.2" y2="779.08" stroke="#050505" stroke-width="1.1" />
<line x1="64.60000000000001" y1="783.2700000000001" x2="67.2" y2="783.2700000000001" stroke="#050505" stroke-width="1.1" />
<line x1="64.60000000000001" y1="787.46" x2="67.2" y2="787.46" stroke="#050505" stroke-width="1.1" />
<line x1="62.300000000000004" y1="791.6500000000001" x2="67.2" y2="791.6500000000001" stroke="#050505" stroke-width="1.1" />
<line x1="64.60000000000001" y1="795.84" x2="67.2" y2="795.84" stroke="#050505" stroke-width="1.1" />
<line x1="64.60000000000001" y1="800.0300000000001" x2="67.2" y2="800.0300000000001" stroke="#050505" stroke-width="1.1" />
<line x1="64.60000000000001" y1="804.22" x2="67.2" y2="804.22" stroke="#050505" stroke-width="1.1" />
<line x1="64.60000000000001" y1="808.4100000000001" x2="67.2" y2="808.4100000000001" stroke="#050505" stroke-width="1.1" />
<line x1="62.300000000000004" y1="812.6" x2="67.2" y2="812.6" stroke="#050505" stroke-width="1.1" />
<line x1="64.60000000000001" y1="816.7900000000001" x2="67.2" y2="816.7900000000001" stroke="#050505" stroke-width="1.1" />
<line x1="64.60000000000001" y1="820.98" x2="67.2" y2="820.98" stroke="#050505" stroke-width="1.1" />
<line x1="64.60000000000001" y1="825.1700000000001" x2="67.2" y2="825.1700000000001" stroke="#050505" stroke-width="1.1" />
<line x1="64.60000000000001" y1="829.36" x2="67.2" y2="829.36" stroke="#050505" stroke-width="1.1" />
<line x1="62.300000000000004" y1="833.5500000000001" x2="67.2" y2="833.5500000000001" stroke="#050505" stroke-width="1.1" />
<line x1="64.60000000000001" y1="837.74" x2="67.2" y2="837.74" stroke="#050505" stroke-width="1.1" />
<line x1="64.60000000000001" y1="841.9300000000001" x2="67.2" y2="841.9300000000001" stroke="#050505" stroke-width="1.1" />
<line x1="64.60000000000001" y1="846.12" x2="67.2" y2="846.12" stroke="#050505" stroke-width="1.1" />
<line x1="64.60000000000001" y1="850.3100000000001" x2="67.2" y2="850.3100000000001" stroke="#050505" stroke-width="1.1" />
<line x1="62.300000000000004" y1="854.5" x2="67.2" y2="854.5" stroke="#050505" stroke-width="1.1" />
<line x1="64.60000000000001" y1="858.69" x2="67.2" y2="858.69" stroke="#050505" stroke-width="1.1" />
<line x1="64.60000000000001" y1="862.88" x2="67.2" y2="862.88" stroke="#050505" stroke-width="1.1" />
<line x1="64.60000000000001" y1="867.07" x2="67.2" y2="867.07" stroke="#050505" stroke-width="1.1" />
<line x1="64.60000000000001" y1="871.26" x2="67.2" y2="871.26" stroke="#050505" stroke-width="1.1" />
<line x1="62.300000000000004" y1="875.45" x2="67.2" y2="875.45" stroke="#050505" stroke-width="1.1" />
<line x1="66.7" y1="875.2" x2="66.7" y2="878" stroke="#050505" stroke-width="1.1" />
<line x1="96.5" y1="875.2" x2="96.5" y2="878" stroke="#050505" stroke-width="1.1" />
<line x1="107.1" y1="875.2" x2="107.1" y2="878" stroke="#050505" stroke-width="1.1" />
<line x1="137.9" y1="875.2" x2="137.9" y2="878" stroke="#050505" stroke-width="1.1" />
<line x1="150.4" y1="875.2" x2="150.4" y2="878" stroke="#050505" stroke-width="1.1" />
<line x1="180.8" y1="875.2" x2="180.8" y2="878" stroke="#050505" stroke-width="1.1" />
<line x1="194.60000000000002" y1="875.2" x2="194.60000000000002" y2="878" stroke="#050505" stroke-width="1.1" />
<line x1="223.0" y1="875.2" x2="223.0" y2="878" stroke="#050505" stroke-width="1.1" />
<line x1="236.5" y1="875.2" x2="236.5" y2="878" stroke="#050505" stroke-width="1.1" />
<rect x="67.2" y="766.6" width="171.3" height="108.60000000000002" fill="none" stroke="#1a1a1a" stroke-width="1.35"/>
<line x1="64.2" y1="893.1" x2="191.25" y2="893.1" stroke="#050505" stroke-width="2.3" />
<text transform="translate(198.21,896.90) scale(1.0803,1)" font-size="16.42" fill="#000" ><tspan font-weight="bold">IFN</tspan></text>
<text transform="translate(225.63,897.05) scale(1.1629,1)" font-size="16.67" fill="#000" ><tspan font-family="Liberation Serif">γ</tspan></text>
<rect x="69.6" y="909.8" width="18.9" height="17.9" fill="#929292" stroke="none" stroke-width="0"/>
<text transform="translate(109.18,926.68) scale(0.9313,1)" font-size="22.74" fill="#000" ><tspan font-weight="bold">PBS</tspan></text>
<line x1="64.8" y1="951.5" x2="93.1" y2="951.5" stroke="#050505" stroke-width="3.9" />
<text transform="translate(107.21,957.88) scale(0.9565,1)" font-size="22.74" fill="#000" ><tspan font-weight="bold">CD28-SA</tspan></text>
<line x1="62.8" y1="980.8" x2="75.6" y2="980.8" stroke="#050505" stroke-width="2.1" />
<line x1="82.3" y1="980.8" x2="95.2" y2="980.8" stroke="#050505" stroke-width="2.1" />
<text transform="translate(107.33,989.34) scale(0.9493,1)" font-size="22.96" fill="#000" ><tspan font-weight="bold">staining ctrl.</tspan></text>
<text transform="translate(268.79,761.90) scale(0.9020,1)" font-size="31.69" fill="#000" ><tspan font-weight="bold">F</tspan></text>
<text transform="translate(284.98,915.82) rotate(-90) scale(0.9473,1)" font-size="22.06" fill="#000" ><tspan font-weight="bold">% AnnexinV</tspan></text>
<line x1="274.4" y1="784.9" x2="274.4" y2="791.9" stroke="#050505" stroke-width="1.5" />
<line x1="271.4" y1="788.4" x2="277.4" y2="788.4" stroke="#050505" stroke-width="1.5" />
<line x1="331.8" y1="770.0" x2="331.8" y2="937.5" stroke="#050505" stroke-width="2.1" />
<line x1="326.2" y1="771" x2="331.8" y2="771" stroke="#050505" stroke-width="2.1" />
<line x1="326.2" y1="802.8" x2="331.8" y2="802.8" stroke="#050505" stroke-width="2.1" />
<line x1="326.2" y1="834.4" x2="331.8" y2="834.4" stroke="#050505" stroke-width="2.1" />
<line x1="326.2" y1="866.2" x2="331.8" y2="866.2" stroke="#050505" stroke-width="2.1" />
<line x1="326.2" y1="897.8" x2="331.8" y2="897.8" stroke="#050505" stroke-width="2.1" />
<line x1="326.2" y1="929.5" x2="331.8" y2="929.5" stroke="#050505" stroke-width="2.1" />
<line x1="326.2" y1="929.5" x2="507.5" y2="929.5" stroke="#050505" stroke-width="2.1" />
<line x1="375.4" y1="929.5" x2="375.4" y2="937.5" stroke="#050505" stroke-width="2.1" />
<line x1="419.3" y1="929.5" x2="419.3" y2="937.5" stroke="#050505" stroke-width="2.1" />
<line x1="463.4" y1="929.5" x2="463.4" y2="937.5" stroke="#050505" stroke-width="2.1" />
<line x1="507.3" y1="929.5" x2="507.3" y2="937.5" stroke="#050505" stroke-width="2.1" />
<text transform="translate(302.29,777.74) scale(0.9500,1)" font-size="15.80" fill="#000" >50</text>
<text transform="translate(302.29,809.54) scale(0.9500,1)" font-size="15.80" fill="#000" >40</text>
<text transform="translate(302.29,841.14) scale(0.9500,1)" font-size="15.80" fill="#000" >30</text>
<text transform="translate(302.29,872.94) scale(0.9500,1)" font-size="15.80" fill="#000" >20</text>
<text transform="translate(302.29,904.54) scale(0.9500,1)" font-size="15.80" fill="#000" >10</text>
<text transform="translate(310.64,936.24) scale(0.9500,1)" font-size="15.80" fill="#000" >0</text>
<rect x="340.5" y="913.8" width="12.5" height="15.700000000000045" fill="#fff" stroke="#050505" stroke-width="1.6"/>
<line x1="346.8" y1="913.8" x2="346.8" y2="910.6" stroke="#050505" stroke-width="1.6" />
<line x1="340.1" y1="910.6" x2="353" y2="910.6" stroke="#050505" stroke-width="2.0" />
<rect x="353" y="896.3" width="14" height="33.200000000000045" fill="#050505" stroke="#050505" stroke-width="1.6"/>
<rect x="384.8" y="899.2" width="12.099999999999966" height="30.299999999999955" fill="#fff" stroke="#050505" stroke-width="1.6"/>
<line x1="391" y1="899.2" x2="391" y2="881.8" stroke="#050505" stroke-width="1.6" />
<line x1="384.1" y1="881.8" x2="397" y2="881.8" stroke="#050505" stroke-width="2.0" />
<rect x="396.9" y="857.5" width="14.300000000000011" height="72.0" fill="#050505" stroke="#050505" stroke-width="1.6"/>
<line x1="404.2" y1="857.5" x2="404.2" y2="842.8" stroke="#050505" stroke-width="1.6" />
<line x1="396.4" y1="842.8" x2="411.7" y2="842.8" stroke="#050505" stroke-width="2.0" />
<rect x="428.7" y="856.2" width="11.800000000000011" height="73.29999999999995" fill="#fff" stroke="#050505" stroke-width="1.6"/>
<line x1="434.6" y1="856.2" x2="434.6" y2="843.3" stroke="#050505" stroke-width="1.6" />
<line x1="427.9" y1="843.3" x2="440.5" y2="843.3" stroke="#050505" stroke-width="2.0" />
<rect x="440.5" y="794.2" width="14.899999999999977" height="135.29999999999995" fill="#050505" stroke="#050505" stroke-width="1.6"/>
<line x1="448" y1="794.2" x2="448" y2="782.2" stroke="#050505" stroke-width="1.6" />
<line x1="440.5" y1="782.2" x2="455.4" y2="782.2" stroke="#050505" stroke-width="2.0" />
<rect x="472.9" y="901.9" width="12.300000000000011" height="27.600000000000023" fill="#fff" stroke="#050505" stroke-width="1.6"/>
<line x1="479" y1="901.9" x2="479" y2="896.6" stroke="#050505" stroke-width="1.6" />
<line x1="471.8" y1="896.6" x2="485.8" y2="896.6" stroke="#050505" stroke-width="2.0" />
<rect x="485.2" y="850" width="13.5" height="79.5" fill="#050505" stroke="#050505" stroke-width="1.6"/>
<line x1="491.8" y1="850" x2="491.8" y2="824.5" stroke="#050505" stroke-width="1.6" />
<line x1="484.4" y1="824.5" x2="499.2" y2="824.5" stroke="#050505" stroke-width="2.0" />
<text transform="translate(359.93,978.31) rotate(-90) scale(1.0269,1)" font-size="20.60" fill="#000" ><tspan font-weight="bold">Spl</tspan></text>
<text transform="translate(405.00,992.91) rotate(-90) scale(0.9539,1)" font-size="22.38" fill="#000" ><tspan font-weight="bold">mLN</tspan></text>
<text transform="translate(448.25,987.63) rotate(-90) scale(1.0124,1)" font-size="21.44" fill="#000" ><tspan font-weight="bold">pLN</tspan></text>
<text transform="translate(492.50,990.00) rotate(-90) scale(1.0228,1)" font-size="20.97" fill="#000" ><tspan font-weight="bold">liver</tspan></text>
<text transform="translate(0.17,1045.59) scale(0.9594,1)" font-size="31.36" fill="#000" ><tspan font-weight="bold">G</tspan></text>
<text transform="translate(149.23,1044.80) scale(1.0689,1)" font-size="20.70" fill="#000" ><tspan font-weight="bold">treatment of donor mice:</tspan></text>
<text transform="translate(170.34,1076.08) scale(0.9874,1)" font-size="22.17" fill="#000" ><tspan font-weight="bold">PBS</tspan></text>
<text transform="translate(326.40,1076.08) scale(0.9759,1)" font-size="22.46" fill="#000" ><tspan font-weight="bold">CD28-SA</tspan></text>
<text transform="translate(89.62,1135.62) rotate(-90) scale(0.9406,1)" font-size="18.00" fill="#000" ><tspan font-weight="bold">% max</tspan></text>
<line x1="85" y1="1144" x2="85" y2="1184.6" stroke="#050505" stroke-width="2.5" />
<path d="M103.5,1176.0 L103.9,1176.0 L103.9,1177.1 L104.3,1177.1 L104.3,1178.9 L104.7,1178.9 L104.7,1179.7 L105.0,1179.7 L105.0,1181.3 L105.4,1181.3 L105.4,1182.4 L105.8,1182.4 L105.8,1183.8 L107.2,1183.8 L107.2,1182.6 L108.7,1182.6 L108.7,1181.5 L110.1,1181.5 L110.1,1181.7 L111.5,1181.7 L111.5,1181.4 L112.9,1181.4 L112.9,1181.6 L114.3,1181.6 L114.3,1181.5 L115.6,1181.5 L115.6,1181.5 L117.0,1181.5 L117.0,1181.5 L118.4,1181.5 L118.4,1181.4 L119.8,1181.4 L119.8,1181.6 L121.2,1181.6 L121.2,1181.5 L122.1,1181.5 L122.1,1179.6 L123.5,1179.6 L123.5,1179.3 L125.0,1179.3 L125.0,1179.4 L126.5,1179.4 L126.5,1179.3 L127.9,1179.3 L127.9,1179.6 L128.9,1179.6 L128.9,1177.7 L129.8,1177.7 L129.8,1176.2 L130.3,1176.2 L130.3,1174.9 L130.8,1174.9 L130.8,1174.0 L131.2,1174.0 L131.2,1172.4 L131.7,1172.4 L131.7,1171.3 L132.7,1171.3 L132.7,1170.1 L133.6,1170.1 L133.6,1169.3 L134.6,1169.3 L134.6,1168.5 L135.2,1168.5 L135.2,1167.5 L135.9,1167.5 L135.9,1165.6 L136.5,1165.6 L136.5,1164.6 L137.5,1164.6 L137.5,1163.2 L138.5,1163.2 L138.5,1161.7 L139.9,1161.7 L139.9,1161.2 L141.3,1161.2 L141.3,1160.8 L142.8,1160.8 L142.8,1160.4 L144.2,1160.4 L144.2,1159.8 L145.4,1159.8 L145.4,1159.1 L146.5,1159.1 L146.5,1158.7 L147.7,1158.7 L147.7,1157.9 L149.0,1157.9 L149.0,1159.8 L149.7,1159.8 L149.7,1161.1 L150.3,1161.1 L150.3,1162.5 L151.0,1162.5 L151.0,1163.7 L151.1,1163.7 L151.1,1165.3 L151.2,1165.3 L151.2,1166.4 L151.3,1166.4 L151.3,1167.5 L151.4,1167.5 L151.4,1168.8 L151.5,1168.8 L151.5,1170.4 L153.2,1170.4 L153.2,1171.2 L154.8,1171.2 L154.8,1171.3 L155.8,1171.3 L155.8,1172.7 L156.8,1172.7 L156.8,1171.1 L157.7,1171.1 L157.7,1169.5 L158.6,1169.5 L158.6,1167.8 L159.6,1167.8 L159.6,1166.5 L160.2,1166.5 L160.2,1168.1 L160.9,1168.1 L160.9,1169.2 L161.5,1169.2 L161.5,1170.4 L162.5,1170.4 L162.5,1169.1 L163.5,1169.1 L163.5,1167.5 L163.9,1167.5 L163.9,1166.4 L164.3,1166.4 L164.3,1164.7 L164.6,1164.7 L164.6,1163.4 L165.0,1163.4 L165.0,1162.4 L165.4,1162.4 L165.4,1160.8 L166.4,1160.8 L166.4,1161.5 L167.3,1161.5 L167.3,1162.7 L168.8,1162.7 L168.8,1163.7 L169.1,1163.7 L169.1,1162.5 L169.4,1162.5 L169.4,1160.7 L169.6,1160.7 L169.6,1159.8 L169.9,1159.8 L169.9,1158.4 L170.2,1158.4 L170.2,1156.9 L171.1,1156.9 L171.1,1155.8 L172.1,1155.8 L172.1,1154.0 L172.2,1154.0 L172.2,1152.9 L172.3,1152.9 L172.3,1151.3 L172.5,1151.3 L172.5,1149.8 L172.6,1149.8 L172.6,1148.4 L172.7,1148.4 L172.7,1147.3 L173.4,1147.3 L173.4,1146.2 L174.0,1146.2 L174.0,1145.0 L174.7,1145.0 L174.7,1143.5 L175.3,1143.5 L175.3,1142.9 L176.0,1142.9 L176.0,1141.5 L176.7,1141.5 L176.7,1140.1 L177.4,1140.1 L177.4,1138.8 L178.1,1138.8 L178.1,1137.0 L178.8,1137.0 L178.8,1135.8 L179.2,1135.8 L179.2,1134.4 L179.5,1134.4 L179.5,1132.9 L179.9,1132.9 L179.9,1131.9 L180.2,1131.9 L180.2,1130.6 L180.6,1130.6 L180.6,1129.5 L180.9,1129.5 L180.9,1128.2 L181.3,1128.2 L181.3,1127.0 L182.2,1127.0 L182.2,1126.2 L183.1,1126.2 L183.1,1125.3 L184.0,1125.3 L184.0,1124.0 L185.0,1124.0 L185.0,1122.8 L186.0,1122.8 L186.0,1122.0 L186.0,1122.0 L186.0,1120.4 L186.1,1120.4 L186.1,1118.8 L186.1,1118.8 L186.1,1117.7 L186.2,1117.7 L186.2,1116.4 L186.2,1116.4 L186.2,1114.6 L186.3,1114.6 L186.3,1115.7 L186.4,1115.7 L186.4,1117.5 L186.5,1117.5 L186.5,1118.5 L186.5,1118.5 L186.5,1119.6 L186.6,1119.6 L186.6,1121.5 L186.7,1121.5 L186.7,1122.5 L186.8,1122.5 L186.8,1124.0 L187.4,1124.0 L187.4,1122.6 L188.1,1122.6 L188.1,1121.6 L188.7,1121.6 L188.7,1120.2 L189.4,1120.2 L189.4,1119.1 L190.0,1119.1 L190.0,1118.0 L191.0,1118.0 L191.0,1117.0 L192.0,1117.0 L192.0,1116.0 L192.1,1116.0 L192.1,1114.6 L192.2,1114.6 L192.2,1113.5 L192.3,1113.5 L192.3,1112.0 L192.4,1112.0 L192.4,1110.5 L192.4,1110.5 L192.4,1109.2 L192.5,1109.2 L192.5,1107.9 L192.6,1107.9 L192.6,1106.9 L192.7,1106.9 L192.7,1105.5 L192.8,1105.5 L192.8,1104.5 L192.9,1104.5 L192.9,1103.0 L193.0,1103.0 L193.0,1104.3 L193.0,1104.3 L193.0,1105.8 L193.1,1105.8 L193.1,1107.3 L193.2,1107.3 L193.2,1108.0 L193.2,1108.0 L193.2,1109.3 L193.3,1109.3 L193.3,1110.7 L193.4,1110.7 L193.4,1112.3 L193.4,1112.3 L193.4,1113.7 L193.5,1113.7 L193.5,1115.0 L195.8,1115.0 L195.8,1115.6 L196.0,1115.6 L196.0,1114.4 L196.3,1114.4 L196.3,1112.8 L196.5,1112.8 L196.5,1112.0 L196.8,1112.0 L196.8,1110.0 L197.0,1110.0 L197.0,1109.2 L197.2,1109.2 L197.2,1107.4 L197.5,1107.4 L197.5,1106.6 L197.7,1106.6 L197.7,1105.0 L197.9,1105.0 L197.9,1103.3 L198.1,1103.3 L198.1,1102.6 L198.3,1102.6 L198.3,1101.1 L198.5,1101.1 L198.5,1099.9 L198.6,1099.9 L198.6,1098.3 L198.8,1098.3 L198.8,1096.7 L199.0,1096.7 L199.0,1095.9 L199.2,1095.9 L199.2,1094.2 L199.4,1094.2 L199.4,1092.6 L199.6,1092.6 L199.6,1091.5 L200.2,1091.5 L200.2,1090.1 L200.8,1090.1 L200.8,1088.6 L201.4,1088.6 L201.4,1087.2 L202.0,1087.2 L202.0,1085.8 L203.7,1085.8 L203.7,1086.4 L205.4,1086.4 L205.4,1087.5 L207.0,1087.5 L207.0,1086.0 L208.6,1086.0 L208.6,1086.6 L210.2,1086.6 L210.2,1087.7 L210.4,1087.7 L210.4,1089.2 L210.7,1089.2 L210.7,1090.5 L210.9,1090.5 L210.9,1091.8 L211.1,1091.8 L211.1,1093.4 L211.4,1093.4 L211.4,1095.0 L211.6,1095.0 L211.6,1096.5 L211.9,1096.5 L211.9,1097.7 L212.1,1097.7 L212.1,1099.2 L212.2,1099.2 L212.2,1100.5 L212.3,1100.5 L212.3,1101.9 L212.4,1101.9 L212.4,1103.2 L212.5,1103.2 L212.5,1104.5 L212.6,1104.5 L212.6,1106.1 L212.7,1106.1 L212.7,1107.3 L212.8,1107.3 L212.8,1109.1 L212.9,1109.1 L212.9,1110.5 L213.0,1110.5 L213.0,1111.7 L213.7,1111.7 L213.7,1113.0 L214.4,1113.0 L214.4,1113.9 L215.1,1113.9 L215.1,1115.3 L215.8,1115.3 L215.8,1116.6 L216.5,1116.6 L216.5,1117.6 L217.2,1117.6 L217.2,1119.5 L217.9,1119.5 L217.9,1120.4 L218.3,1120.4 L218.3,1121.9 L218.7,1121.9 L218.7,1123.0 L219.0,1123.0 L219.0,1124.5 L219.4,1124.5 L219.4,1125.5 L219.8,1125.5 L219.8,1127.0 L220.0,1127.0 L220.0,1128.1 L220.1,1128.1 L220.1,1129.7 L220.3,1129.7 L220.3,1131.1 L220.5,1131.1 L220.5,1132.4 L220.7,1132.4 L220.7,1133.2 L220.8,1133.2 L220.8,1135.0 L221.0,1135.0 L221.0,1136.5 L221.2,1136.5 L221.2,1137.7 L221.4,1137.7 L221.4,1139.2 L221.5,1139.2 L221.5,1140.5 L221.7,1140.5 L221.7,1141.5 L221.9,1141.5 L221.9,1142.7 L222.2,1142.7 L222.2,1144.2 L222.4,1144.2 L222.4,1145.8 L222.7,1145.8 L222.7,1147.6 L222.9,1147.6 L222.9,1148.6 L223.2,1148.6 L223.2,1150.4 L223.4,1150.4 L223.4,1151.8 L223.7,1151.8 L223.7,1153.0 L223.9,1153.0 L223.9,1154.5 L224.1,1154.5 L224.1,1156.0 L224.4,1156.0 L224.4,1157.7 L224.6,1157.7 L224.6,1158.8 L225.2,1158.8 L225.2,1160.3 L225.8,1160.3 L225.8,1161.3 L226.4,1161.3 L226.4,1163.0 L227.1,1163.0 L227.1,1163.9 L227.7,1163.9 L227.7,1165.3 L228.3,1165.3 L228.3,1166.7 L228.7,1166.7 L228.7,1168.3 L229.2,1168.3 L229.2,1169.5 L229.6,1169.5 L229.6,1170.4 L230.0,1170.4 L230.0,1171.7 L230.4,1171.7 L230.4,1173.2 L230.8,1173.2 L230.8,1174.7 L231.3,1174.7 L231.3,1175.8 L231.7,1175.8 L231.7,1177.0 L232.7,1177.0 L232.7,1178.4 L233.8,1178.4 L233.8,1179.3 L234.8,1179.3 L234.8,1180.4 L235.9,1180.4 L235.9,1181.3 L236.9,1181.3 L236.9,1182.3 L238.3,1182.3 L238.3,1182.9 L239.7,1182.9 L239.7,1183.5 L241.0,1183.5 L241.0,1184.1 L242.4,1184.1 L242.4,1184.7 L243.8,1184.7 L243.8,1185.3" fill="none" stroke="#050505" stroke-width="1.3" stroke-linejoin="round"/>
<path d="M290.2,1182.1 L291.5,1182.1 L291.5,1181.7 L292.8,1181.7 L292.8,1181.2 L294.1,1181.2 L294.1,1180.7 L295.4,1180.7 L295.4,1180.4 L296.8,1180.4 L296.8,1180.3 L298.2,1180.3 L298.2,1179.4 L299.5,1179.4 L299.5,1179.4 L300.9,1179.4 L300.9,1179.3 L302.3,1179.3 L302.3,1178.7 L303.6,1178.7 L303.6,1178.0 L304.9,1178.0 L304.9,1177.8 L306.2,1177.8 L306.2,1177.4 L307.5,1177.4 L307.5,1176.9 L308.7,1176.9 L308.7,1176.1 L309.9,1176.1 L309.9,1175.8 L311.2,1175.8 L311.2,1175.5 L312.4,1175.5 L312.4,1174.8 L313.6,1174.8 L313.6,1174.3 L314.5,1174.3 L314.5,1173.4 L315.3,1173.4 L315.3,1171.9 L316.1,1171.9 L316.1,1170.9 L317.0,1170.9 L317.0,1170.0 L317.6,1170.0 L317.6,1168.5 L318.3,1168.5 L318.3,1167.4 L319.0,1167.4 L319.0,1166.4 L319.6,1166.4 L319.6,1164.8 L320.5,1164.8 L320.5,1163.7 L321.3,1163.7 L321.3,1162.6 L322.2,1162.6 L322.2,1161.3 L323.4,1161.3 L323.4,1160.1 L324.5,1160.1 L324.5,1159.2 L325.7,1159.2 L325.7,1157.9 L325.9,1157.9 L325.9,1156.4 L326.1,1156.4 L326.1,1155.2 L326.3,1155.2 L326.3,1154.1 L326.5,1154.1 L326.5,1152.7 L327.8,1152.7 L327.8,1151.5 L329.1,1151.5 L329.1,1150.1 L330.9,1150.1 L330.9,1149.6 L332.6,1149.6 L332.6,1149.2 L333.2,1149.2 L333.2,1150.3 L333.9,1150.3 L333.9,1151.7 L334.6,1151.7 L334.6,1152.9 L335.2,1152.9 L335.2,1154.4 L336.0,1154.4 L336.0,1156.0 L336.9,1156.0 L336.9,1157.9 L337.8,1157.9 L337.8,1156.8 L338.6,1156.8 L338.6,1155.1 L339.5,1155.1 L339.5,1154.2 L340.4,1154.2 L340.4,1152.7 L341.7,1152.7 L341.7,1152.1 L343.0,1152.1 L343.0,1151.0 L343.4,1151.0 L343.4,1152.0 L343.9,1152.0 L343.9,1153.5 L344.3,1153.5 L344.3,1154.9 L344.7,1154.9 L344.7,1156.2 L346.4,1156.2 L346.4,1157.0 L347.0,1157.0 L347.0,1155.3 L347.6,1155.3 L347.6,1154.1 L348.2,1154.1 L348.2,1152.7 L348.6,1152.7 L348.6,1151.6 L349.0,1151.6 L349.0,1149.9 L349.5,1149.9 L349.5,1148.9 L349.9,1148.9 L349.9,1147.5 L350.8,1147.5 L350.8,1146.1 L351.6,1146.1 L351.6,1145.2 L352.5,1145.2 L352.5,1144.0 L353.1,1144.0 L353.1,1142.8 L353.6,1142.8 L353.6,1141.0 L354.2,1141.0 L354.2,1139.7 L354.8,1139.7 L354.8,1140.8 L355.4,1140.8 L355.4,1142.3 L356.0,1142.3 L356.0,1144.0 L356.3,1144.0 L356.3,1142.6 L356.7,1142.6 L356.7,1141.0 L357.0,1141.0 L357.0,1139.6 L357.4,1139.6 L357.4,1138.5 L357.7,1138.5 L357.7,1137.1 L357.9,1137.1 L357.9,1135.9 L358.0,1135.9 L358.0,1134.2 L358.1,1134.2 L358.1,1132.7 L358.3,1132.7 L358.3,1131.4 L358.5,1131.4 L358.5,1129.7 L358.6,1129.7 L358.6,1128.5 L359.9,1128.5 L359.9,1127.6 L361.2,1127.6 L361.2,1126.7 L362.0,1126.7 L362.0,1124.8 L362.9,1124.8 L362.9,1123.3 L363.2,1123.3 L363.2,1121.9 L363.5,1121.9 L363.5,1120.7 L363.8,1120.7 L363.8,1118.7 L364.0,1118.7 L364.0,1117.5 L364.3,1117.5 L364.3,1116.1 L364.6,1116.1 L364.6,1114.6 L364.7,1114.6 L364.7,1115.7 L364.7,1115.7 L364.7,1117.1 L364.8,1117.1 L364.8,1118.8 L364.8,1118.8 L364.8,1120.2 L364.9,1120.2 L364.9,1120.9 L364.9,1120.9 L364.9,1122.6 L365.0,1122.6 L365.0,1123.8 L365.3,1123.8 L365.3,1122.7 L365.7,1122.7 L365.7,1120.9 L366.0,1120.9 L366.0,1119.8 L366.4,1119.8 L366.4,1118.1 L366.7,1118.1 L366.7,1116.9 L367.0,1116.9 L367.0,1115.7 L367.4,1115.7 L367.4,1114.3 L367.7,1114.3 L367.7,1112.9 L368.0,1112.9 L368.0,1114.5 L368.3,1114.5 L368.3,1115.5 L368.6,1115.5 L368.6,1117.1 L369.0,1117.1 L369.0,1118.9 L369.3,1118.9 L369.3,1120.1 L369.6,1120.1 L369.6,1121.5 L370.1,1121.5 L370.1,1120.1 L370.7,1120.1 L370.7,1118.7 L371.2,1118.7 L371.2,1117.7 L371.8,1117.7 L371.8,1116.1 L372.3,1116.1 L372.3,1114.7 L374.1,1114.7 L374.1,1116.5 L374.5,1116.5 L374.5,1114.8 L374.9,1114.8 L374.9,1113.8 L375.2,1113.8 L375.2,1112.0 L375.6,1112.0 L375.6,1110.6 L376.0,1110.6 L376.0,1109.2 L376.9,1109.2 L376.9,1107.8 L377.8,1107.8 L377.8,1106.8 L378.7,1106.8 L378.7,1105.6 L380.5,1105.6 L380.5,1105.6 L380.9,1105.6 L380.9,1104.0 L381.3,1104.0 L381.3,1102.4 L381.6,1102.4 L381.6,1101.3 L382.0,1101.3 L382.0,1099.5 L382.4,1099.5 L382.4,1098.3 L382.6,1098.3 L382.6,1097.0 L382.8,1097.0 L382.8,1095.1 L382.9,1095.1 L382.9,1094.1 L383.1,1094.1 L383.1,1092.6 L383.3,1092.6 L383.3,1091.0 L384.2,1091.0 L384.2,1092.3 L385.1,1092.3 L385.1,1093.7 L385.5,1093.7 L385.5,1092.5 L385.8,1092.5 L385.8,1091.0 L386.2,1091.0 L386.2,1090.0 L386.5,1090.0 L386.5,1088.5 L386.9,1088.5 L386.9,1087.3 L388.4,1087.3 L388.4,1086.4 L388.7,1086.4 L388.7,1087.7 L388.9,1087.7 L388.9,1089.6 L389.2,1089.6 L389.2,1090.7 L389.4,1090.7 L389.4,1092.2 L389.7,1092.2 L389.7,1093.7 L391.0,1093.7 L391.0,1095.3 L392.4,1095.3 L392.4,1096.4 L393.3,1096.4 L393.3,1097.3 L394.2,1097.3 L394.2,1098.3 L394.3,1098.3 L394.3,1099.8 L394.4,1099.8 L394.4,1100.9 L394.5,1100.9 L394.5,1102.8 L394.6,1102.8 L394.6,1103.8 L394.7,1103.8 L394.7,1105.1 L394.8,1105.1 L394.8,1107.1 L394.9,1107.1 L394.9,1108.1 L395.0,1108.1 L395.0,1109.9 L395.1,1109.9 L395.1,1111.1 L396.1,1111.1 L396.1,1112.7 L397.0,1112.7 L397.0,1113.8 L397.1,1113.8 L397.1,1115.2 L397.3,1115.2 L397.3,1116.2 L397.4,1116.2 L397.4,1117.6 L397.6,1117.6 L397.6,1119.1 L397.8,1119.1 L397.8,1120.6 L397.9,1120.6 L397.9,1122.0 L399.2,1122.0 L399.2,1121.6 L400.6,1121.6 L400.6,1121.1 L401.5,1121.1 L401.5,1119.3 L401.8,1119.3 L401.8,1120.9 L402.1,1120.9 L402.1,1121.9 L402.4,1121.9 L402.4,1123.2 L402.8,1123.2 L402.8,1124.8 L403.1,1124.8 L403.1,1125.9 L403.4,1125.9 L403.4,1127.5 L403.5,1127.5 L403.5,1128.6 L403.6,1128.6 L403.6,1130.2 L403.6,1130.2 L403.6,1131.6 L403.7,1131.6 L403.7,1132.5 L403.8,1132.5 L403.8,1134.1 L403.9,1134.1 L403.9,1135.6 L404.0,1135.6 L404.0,1136.9 L404.1,1136.9 L404.1,1138.0 L404.1,1138.0 L404.1,1139.7 L404.2,1139.7 L404.2,1140.6 L404.3,1140.6 L404.3,1142.1 L405.6,1142.1 L405.6,1143.6 L407.0,1143.6 L407.0,1144.9 L407.6,1144.9 L407.6,1146.3 L408.2,1146.3 L408.2,1147.5 L408.8,1147.5 L408.8,1148.5 L409.4,1148.5 L409.4,1150.0 L410.1,1150.0 L410.1,1151.3 L410.7,1151.3 L410.7,1153.1 L411.4,1153.1 L411.4,1153.9 L412.1,1153.9 L412.1,1155.3 L412.9,1155.3 L412.9,1156.2 L413.6,1156.2 L413.6,1157.6 L414.3,1157.6 L414.3,1158.6 L414.5,1158.6 L414.5,1159.8 L414.7,1159.8 L414.7,1161.7 L414.8,1161.7 L414.8,1162.8 L415.0,1162.8 L415.0,1164.1 L415.2,1164.1 L415.2,1165.9 L416.6,1165.9 L416.6,1166.6 L418.0,1166.6 L418.0,1167.7 L418.1,1167.7 L418.1,1169.0 L418.3,1169.0 L418.3,1170.3 L418.4,1170.3 L418.4,1171.5 L418.5,1171.5 L418.5,1172.7 L418.6,1172.7 L418.6,1174.2 L418.8,1174.2 L418.8,1175.8 L418.9,1175.8 L418.9,1176.8 L419.5,1176.8 L419.5,1178.4 L420.1,1178.4 L420.1,1180.1 L420.7,1180.1 L420.7,1181.4 L421.1,1181.4 L421.1,1182.6 L421.6,1182.6 L421.6,1184.1 L423.5,1184.1 L423.5,1184.2 L425.3,1184.2 L425.3,1184.1" fill="none" stroke="#050505" stroke-width="1.3" stroke-linejoin="round" stroke-dasharray="3,2.2"/>
<path d="M288.5,1152.7 L288.6,1152.7 L288.6,1154.1 L288.7,1154.1 L288.7,1155.4 L288.9,1155.4 L288.9,1156.8 L289.0,1156.8 L289.0,1157.9 L289.1,1157.9 L289.1,1159.7 L289.2,1159.7 L289.2,1161.1 L289.4,1161.1 L289.4,1162.3 L289.5,1162.3 L289.5,1163.3 L289.6,1163.3 L289.6,1164.9 L289.7,1164.9 L289.7,1166.2 L289.8,1166.2 L289.8,1167.5 L290.0,1167.5 L290.0,1169.3 L290.1,1169.3 L290.1,1170.7 L290.2,1170.7 L290.2,1171.7 L290.6,1171.7 L290.6,1169.7 L291.0,1169.7 L291.0,1168.3 L292.4,1168.3 L292.4,1168.6 L293.7,1168.6 L293.7,1168.3 L294.9,1168.3 L294.9,1168.8 L296.2,1168.8 L296.2,1169.1 L296.8,1169.1 L296.8,1167.6 L297.4,1167.6 L297.4,1166.1 L298.0,1166.1 L298.0,1164.8 L298.9,1164.8 L298.9,1163.8 L299.7,1163.8 L299.7,1162.4 L300.6,1162.4 L300.6,1161.3 L301.5,1161.3 L301.5,1162.7 L302.3,1162.7 L302.3,1163.8 L304.0,1163.8 L304.0,1164.8 L304.4,1164.8 L304.4,1163.4 L304.9,1163.4 L304.9,1161.5 L305.4,1161.5 L305.4,1160.4 L305.8,1160.4 L305.8,1158.7 L306.7,1158.7 L306.7,1157.6 L307.5,1157.6 L307.5,1156.2 L308.4,1156.2 L308.4,1154.4 L308.8,1154.4 L308.8,1153.0 L309.2,1153.0 L309.2,1151.1 L309.7,1151.1 L309.7,1149.6 L310.1,1149.6 L310.1,1148.4 L310.3,1148.4 L310.3,1146.7 L310.5,1146.7 L310.5,1145.9 L310.6,1145.9 L310.6,1144.1 L310.8,1144.1 L310.8,1142.7 L311.0,1142.7 L311.0,1141.4 L311.4,1141.4 L311.4,1140.4 L311.9,1140.4 L311.9,1138.7 L312.3,1138.7 L312.3,1137.5 L312.7,1137.5 L312.7,1136.2 L314.0,1136.2 L314.0,1135.8 L315.3,1135.8 L315.3,1135.4 L315.5,1135.4 L315.5,1133.7 L315.6,1133.7 L315.6,1132.7 L315.8,1132.7 L315.8,1131.5 L316.0,1131.5 L316.0,1129.6 L316.1,1129.6 L316.1,1128.3 L316.3,1128.3 L316.3,1127.0 L316.5,1127.0 L316.5,1125.3 L316.7,1125.3 L316.7,1124.3 L316.8,1124.3 L316.8,1123.1 L317.0,1123.1 L317.0,1121.5 L317.3,1121.5 L317.3,1120.2 L317.7,1120.2 L317.7,1118.8 L318.0,1118.8 L318.0,1117.6 L318.4,1117.6 L318.4,1115.7 L318.7,1115.7 L318.7,1114.6 L319.0,1114.6 L319.0,1113.2 L319.3,1113.2 L319.3,1111.6 L319.6,1111.6 L319.6,1110.3 L320.5,1110.3 L320.5,1111.7 L321.3,1111.7 L321.3,1113.0 L321.5,1113.0 L321.5,1111.4 L321.8,1111.4 L321.8,1110.5 L322.0,1110.5 L322.0,1108.7 L322.2,1108.7 L322.2,1107.7 L322.6,1107.7 L322.6,1106.2 L323.0,1106.2 L323.0,1105.3 L323.5,1105.3 L323.5,1104.1 L323.9,1104.1 L323.9,1102.5 L324.1,1102.5 L324.1,1101.1 L324.3,1101.1 L324.3,1099.7 L324.5,1099.7 L324.5,1098.3 L324.6,1098.3 L324.6,1096.9 L324.8,1096.9 L324.8,1095.8 L325.0,1095.8 L325.0,1094.1 L325.2,1094.1 L325.2,1093.0 L325.4,1093.0 L325.4,1091.4 L325.7,1091.4 L325.7,1090.4 L325.9,1090.4 L325.9,1088.9 L326.2,1088.9 L326.2,1087.8 L327.4,1087.8 L327.4,1088.7 L327.5,1088.7 L327.5,1090.2 L327.5,1090.2 L327.5,1091.6 L327.6,1091.6 L327.6,1093.0 L327.7,1093.0 L327.7,1094.1 L327.8,1094.1 L327.8,1095.4 L327.8,1095.4 L327.8,1096.8 L327.9,1096.8 L327.9,1098.2 L328.9,1098.2 L328.9,1099.2 L330.0,1099.2 L330.0,1100.8 L330.9,1100.8 L330.9,1102.2 L331.7,1102.2 L331.7,1103.4 L333.0,1103.4 L333.0,1102.4 L334.3,1102.4 L334.3,1101.6 L334.5,1101.6 L334.5,1102.8 L334.8,1102.8 L334.8,1103.9 L335.0,1103.9 L335.0,1105.5 L335.2,1105.5 L335.2,1106.8 L335.5,1106.8 L335.5,1108.2 L335.8,1108.2 L335.8,1109.3 L336.0,1109.3 L336.0,1111.0 L336.3,1111.0 L336.3,1112.1 L336.6,1112.1 L336.6,1113.1 L336.9,1113.1 L336.9,1114.6 L337.1,1114.6 L337.1,1115.9 L337.3,1115.9 L337.3,1117.5 L337.6,1117.5 L337.6,1118.5 L337.8,1118.5 L337.8,1119.9 L338.0,1119.9 L338.0,1120.8 L338.2,1120.8 L338.2,1122.4 L338.5,1122.4 L338.5,1123.7 L338.7,1123.7 L338.7,1125.0 L338.9,1125.0 L338.9,1126.2 L339.0,1126.2 L339.0,1127.5 L339.2,1127.5 L339.2,1129.0 L339.4,1129.0 L339.4,1130.2 L339.5,1130.2 L339.5,1131.5 L339.7,1131.5 L339.7,1132.6 L339.8,1132.6 L339.8,1134.1 L340.0,1134.1 L340.0,1135.4 L341.1,1135.4 L341.1,1136.6 L342.1,1136.6 L342.1,1137.1 L343.0,1137.1 L343.0,1135.3 L343.8,1135.3 L343.8,1133.7 L344.7,1133.7 L344.7,1135.1 L345.6,1135.1 L345.6,1137.1 L345.9,1137.1 L345.9,1138.2 L346.1,1138.2 L346.1,1140.0 L346.4,1140.0 L346.4,1141.4 L347.0,1141.4 L347.0,1142.6 L347.6,1142.6 L347.6,1144.0 L348.2,1144.0 L348.2,1145.8 L349.0,1145.8 L349.0,1143.8 L349.9,1143.8 L349.9,1142.3 L350.8,1142.3 L350.8,1143.6 L351.6,1143.6 L351.6,1144.9 L352.5,1144.9 L352.5,1146.5 L353.4,1146.5 L353.4,1147.5 L355.1,1147.5 L355.1,1145.8 L356.8,1145.8 L356.8,1145.8 L357.2,1145.8 L357.2,1147.2 L357.5,1147.2 L357.5,1148.5 L357.9,1148.5 L357.9,1149.9 L358.2,1149.9 L358.2,1151.3 L358.6,1151.3 L358.6,1152.7 L359.0,1152.7 L359.0,1151.4 L359.5,1151.4 L359.5,1150.3 L359.9,1150.3 L359.9,1149.1 L360.3,1149.1 L360.3,1147.5 L361.1,1147.5 L361.1,1146.3 L362.0,1146.3 L362.0,1144.9 L362.9,1144.9 L362.9,1146.1 L363.7,1146.1 L363.7,1147.5 L364.1,1147.5 L364.1,1148.9 L364.6,1148.9 L364.6,1150.4 L365.1,1150.4 L365.1,1151.2 L365.5,1151.2 L365.5,1152.7 L365.8,1152.7 L365.8,1154.0 L366.1,1154.0 L366.1,1155.7 L366.5,1155.7 L366.5,1157.3 L366.8,1157.3 L366.8,1158.6 L367.8,1158.6 L367.8,1159.6 L368.7,1159.6 L368.7,1160.4 L370.5,1160.4 L370.5,1159.5 L371.9,1159.5 L371.9,1160.4 L373.2,1160.4 L373.2,1161.2 L375.0,1161.2 L375.0,1160.4 L375.6,1160.4 L375.6,1161.8 L376.3,1161.8 L376.3,1162.8 L376.9,1162.8 L376.9,1164.0 L377.2,1164.0 L377.2,1165.6 L377.5,1165.6 L377.5,1167.1 L377.8,1167.1 L377.8,1168.1 L378.1,1168.1 L378.1,1169.8 L378.4,1169.8 L378.4,1171.1 L378.7,1171.1 L378.7,1172.3 L379.6,1172.3 L379.6,1173.9 L380.5,1173.9 L380.5,1175.0 L381.4,1175.0 L381.4,1173.8 L382.4,1173.8 L382.4,1173.2 L382.7,1173.2 L382.7,1172.1 L383.0,1172.1 L383.0,1170.7 L383.3,1170.7 L383.3,1169.4 L383.6,1169.4 L383.6,1168.1 L383.9,1168.1 L383.9,1166.2 L384.2,1166.2 L384.2,1165.0 L386.0,1165.0 L386.0,1164.0 L386.4,1164.0 L386.4,1165.5 L386.9,1165.5 L386.9,1166.5 L387.4,1166.5 L387.4,1168.2 L387.8,1168.2 L387.8,1169.5 L388.4,1169.5 L388.4,1171.0 L389.1,1171.0 L389.1,1171.8 L389.7,1171.8 L389.7,1173.2 L391.5,1173.2 L391.5,1172.3 L393.3,1172.3 L393.3,1174.1 L394.7,1174.1 L394.7,1174.9 L396.1,1174.9 L396.1,1175.9 L397.5,1175.9 L397.5,1176.1 L398.8,1176.1 L398.8,1176.8 L400.1,1176.8 L400.1,1178.0 L401.5,1178.0 L401.5,1179.6 L402.1,1179.6 L402.1,1180.6 L402.8,1180.6 L402.8,1181.8 L403.4,1181.8 L403.4,1183.2 L404.9,1183.2 L404.9,1183.5 L406.3,1183.5 L406.3,1183.6 L407.8,1183.6 L407.8,1183.7 L409.2,1183.7 L409.2,1184.0 L410.7,1184.0 L410.7,1184.1 L412.2,1184.1 L412.2,1184.1 L413.6,1184.1 L413.6,1184.1 L415.1,1184.1 L415.1,1184.1 L416.5,1184.1 L416.5,1184.1 L418.0,1184.1 L418.0,1184.1" fill="none" stroke="#050505" stroke-width="1.4" stroke-linejoin="round"/>
<line x1="99.2" y1="1090" x2="103.4" y2="1090" stroke="#050505" stroke-width="1.1" />
<line x1="100.60000000000001" y1="1097.1" x2="103.4" y2="1097.1" stroke="#050505" stroke-width="1.1" />
<line x1="100.60000000000001" y1="1105.6" x2="103.4" y2="1105.6" stroke="#050505" stroke-width="1.1" />
<line x1="100.60000000000001" y1="1113.6" x2="103.4" y2="1113.6" stroke="#050505" stroke-width="1.1" />
<line x1="99.2" y1="1123" x2="103.4" y2="1123" stroke="#050505" stroke-width="1.1" />
<line x1="100.60000000000001" y1="1129.6" x2="103.4" y2="1129.6" stroke="#050505" stroke-width="1.1" />
<line x1="100.60000000000001" y1="1138" x2="103.4" y2="1138" stroke="#050505" stroke-width="1.1" />
<line x1="100.60000000000001" y1="1146.5" x2="103.4" y2="1146.5" stroke="#050505" stroke-width="1.1" />
<line x1="99.2" y1="1153.1" x2="103.4" y2="1153.1" stroke="#050505" stroke-width="1.1" />
<line x1="100.60000000000001" y1="1162.1" x2="103.4" y2="1162.1" stroke="#050505" stroke-width="1.1" />
<line x1="100.60000000000001" y1="1171" x2="103.4" y2="1171" stroke="#050505" stroke-width="1.1" />
<line x1="100.60000000000001" y1="1177.6" x2="103.4" y2="1177.6" stroke="#050505" stroke-width="1.1" />
<line x1="103.4" y1="1186.1" x2="103.4" y2="1188.8" stroke="#050505" stroke-width="1.1" />
<line x1="132.97080459770115" y1="1186.1" x2="132.97080459770115" y2="1188.8" stroke="#050505" stroke-width="1.1" />
<line x1="143.56620689655173" y1="1186.1" x2="143.56620689655173" y2="1188.8" stroke="#050505" stroke-width="1.1" />
<line x1="174.38919540229887" y1="1186.1" x2="174.38919540229887" y2="1188.8" stroke="#050505" stroke-width="1.1" />
<line x1="185.85149425287355" y1="1186.1" x2="185.85149425287355" y2="1188.8" stroke="#050505" stroke-width="1.1" />
<line x1="215.80758620689653" y1="1186.1" x2="215.80758620689653" y2="1188.8" stroke="#050505" stroke-width="1.1" />
<line x1="228.52206896551724" y1="1186.1" x2="228.52206896551724" y2="1188.8" stroke="#050505" stroke-width="1.1" />
<line x1="256.3590804597701" y1="1186.1" x2="256.3590804597701" y2="1188.8" stroke="#050505" stroke-width="1.1" />
<line x1="268.9772413793104" y1="1186.1" x2="268.9772413793104" y2="1188.8" stroke="#050505" stroke-width="1.1" />
<rect x="103.4" y="1081.6" width="167.6" height="104.5" fill="none" stroke="#1a1a1a" stroke-width="1.35"/>
<line x1="283.7" y1="1090" x2="287.9" y2="1090" stroke="#050505" stroke-width="1.1" />
<line x1="285.09999999999997" y1="1097.1" x2="287.9" y2="1097.1" stroke="#050505" stroke-width="1.1" />
<line x1="285.09999999999997" y1="1105.6" x2="287.9" y2="1105.6" stroke="#050505" stroke-width="1.1" />
<line x1="285.09999999999997" y1="1113.6" x2="287.9" y2="1113.6" stroke="#050505" stroke-width="1.1" />
<line x1="283.7" y1="1123" x2="287.9" y2="1123" stroke="#050505" stroke-width="1.1" />
<line x1="285.09999999999997" y1="1129.6" x2="287.9" y2="1129.6" stroke="#050505" stroke-width="1.1" />
<line x1="285.09999999999997" y1="1138" x2="287.9" y2="1138" stroke="#050505" stroke-width="1.1" />
<line x1="285.09999999999997" y1="1146.5" x2="287.9" y2="1146.5" stroke="#050505" stroke-width="1.1" />
<line x1="283.7" y1="1153.1" x2="287.9" y2="1153.1" stroke="#050505" stroke-width="1.1" />
<line x1="285.09999999999997" y1="1162.1" x2="287.9" y2="1162.1" stroke="#050505" stroke-width="1.1" />
<line x1="285.09999999999997" y1="1171" x2="287.9" y2="1171" stroke="#050505" stroke-width="1.1" />
<line x1="285.09999999999997" y1="1177.6" x2="287.9" y2="1177.6" stroke="#050505" stroke-width="1.1" />
<line x1="287.9" y1="1186.1" x2="287.9" y2="1188.8" stroke="#050505" stroke-width="1.1" />
<line x1="317.5590229885057" y1="1186.1" x2="317.5590229885057" y2="1188.8" stroke="#050505" stroke-width="1.1" />
<line x1="328.1860344827586" y1="1186.1" x2="328.1860344827586" y2="1188.8" stroke="#050505" stroke-width="1.1" />
<line x1="359.10097701149425" y1="1186.1" x2="359.10097701149425" y2="1188.8" stroke="#050505" stroke-width="1.1" />
<line x1="370.5974712643678" y1="1186.1" x2="370.5974712643678" y2="1188.8" stroke="#050505" stroke-width="1.1" />
<line x1="400.6429310344828" y1="1186.1" x2="400.6429310344828" y2="1188.8" stroke="#050505" stroke-width="1.1" />
<line x1="413.3953448275862" y1="1186.1" x2="413.3953448275862" y2="1188.8" stroke="#050505" stroke-width="1.1" />
<line x1="441.3154022988506" y1="1186.1" x2="441.3154022988506" y2="1188.8" stroke="#050505" stroke-width="1.1" />
<line x1="453.97120689655173" y1="1186.1" x2="453.97120689655173" y2="1188.8" stroke="#050505" stroke-width="1.1" />
<rect x="287.9" y="1081.6" width="168.10000000000002" height="104.5" fill="none" stroke="#1a1a1a" stroke-width="1.35"/>
<text transform="translate(236.81,1096.73) scale(1.0357,1)" font-size="17.09" fill="#000" >265</text>
<text transform="translate(290.49,1096.73) scale(1.0396,1)" font-size="17.09" fill="#000" >50.1</text>
<text transform="translate(423.36,1097.20) scale(0.9671,1)" font-size="17.33" fill="#000" >241</text>
<line x1="105.3" y1="1206.1" x2="252" y2="1206.1" stroke="#050505" stroke-width="2.3" />
<line x1="307.7" y1="1205.9" x2="453.6" y2="1205.9" stroke="#050505" stroke-width="2.3" />
<text transform="translate(257.51,1210.15) scale(1.0794,1)" font-size="15.68" fill="#000" ><tspan font-weight="bold">CD25</tspan></text>
<line x1="133.6" y1="1233.9" x2="161.9" y2="1233.9" stroke="#050505" stroke-width="4" />
<line x1="132.1" y1="1262.2" x2="143.3" y2="1262.2" stroke="#050505" stroke-width="1.9" />
<line x1="151.5" y1="1262.2" x2="163.5" y2="1262.2" stroke="#050505" stroke-width="1.9" />
<text transform="translate(176.44,1239.40) scale(1.0363,1)" font-size="20.83" fill="#000" ><tspan font-weight="bold">transfer: CD4</tspan></text>
<line x1="314.5" y1="1228.1" x2="320.2" y2="1228.1" stroke="#050505" stroke-width="1.6" />
<line x1="317.35" y1="1225.3" x2="317.35" y2="1231" stroke="#050505" stroke-width="1.6" />
<text transform="translate(327.25,1239.20) scale(1.0478,1)" font-size="20.70" fill="#000" ><tspan font-weight="bold">cells</tspan></text>
<text transform="translate(176.44,1270.59) scale(1.0222,1)" font-size="21.11" fill="#000" ><tspan font-weight="bold">transfer: CD4</tspan></text>
<line x1="314.5" y1="1259.3" x2="320.2" y2="1259.3" stroke="#050505" stroke-width="1.6" />
<line x1="317.35" y1="1256.3" x2="317.35" y2="1262.3" stroke="#050505" stroke-width="1.6" />
<text transform="translate(327.92,1270.78) scale(0.9698,1)" font-size="22.17" fill="#000" ><tspan font-weight="bold">CD25</tspan></text>
<line x1="383.8" y1="1260.4" x2="386.9" y2="1260.4" stroke="#050505" stroke-width="1.5" />
<text transform="translate(393.77,1270.89) scale(0.9929,1)" font-size="21.51" fill="#000" ><tspan font-weight="bold">cells</tspan></text>
</svg></body></html>
